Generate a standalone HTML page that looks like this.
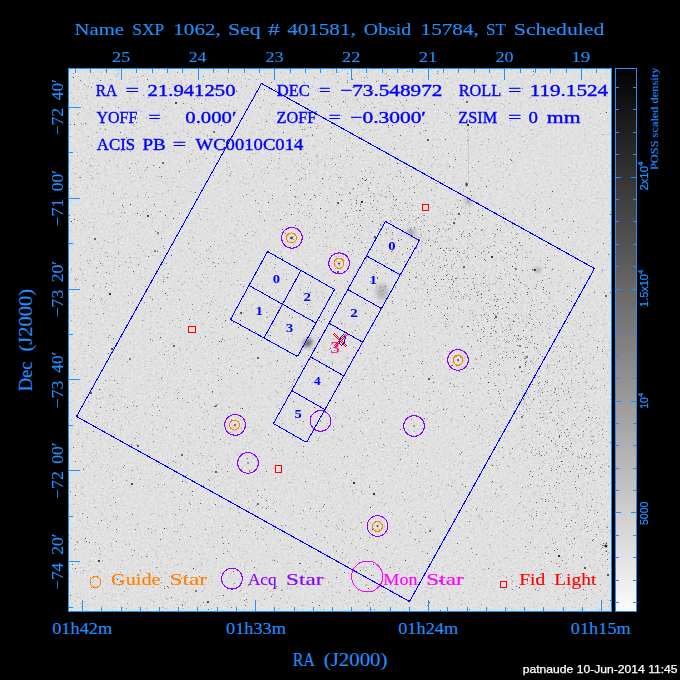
<!DOCTYPE html>
<html><head><meta charset="utf-8"><style>
html,body{margin:0;padding:0;background:#000;width:680px;height:680px;overflow:hidden}
svg{display:block}
text{font-family:"Liberation Serif",serif}
text.s{font-family:"Liberation Sans",sans-serif}
.c{shape-rendering:crispEdges}
</style></head><body>
<svg width="680" height="680" viewBox="0 0 680 680">
<defs>
<linearGradient id="cb" x1="0" y1="0" x2="0" y2="1">
<stop offset="0" stop-color="#030303"/>
<stop offset="1" stop-color="#fbfbfb"/>
</linearGradient>
<clipPath id="pc"><rect x="69" y="69" width="542" height="542"/></clipPath>
<filter id="bl" x="0" y="0" width="1" height="1" color-interpolation-filters="sRGB"><feGaussianBlur stdDeviation="0.42"/></filter>
<filter id="bb" x="-50%" y="-50%" width="200%" height="200%" color-interpolation-filters="sRGB"><feGaussianBlur stdDeviation="2"/></filter>
<filter id="mot" x="0" y="0" width="1" height="1" color-interpolation-filters="sRGB"><feTurbulence type="fractalNoise" baseFrequency="0.45" numOctaves="2" seed="4"/><feColorMatrix type="matrix" values="0.12 0 0 0 0.82  0.12 0 0 0 0.82  0.12 0 0 0 0.82  0 0 0 0 1"/></filter>
</defs>
<rect width="680" height="680" fill="#000"/>

<g clip-path="url(#pc)">
<rect x="69" y="69" width="542" height="542" fill="#e0e0e0" filter="url(#mot)"/>
<g filter="url(#bl)">
<path stroke="rgb(208,208,208)" stroke-width="1" d="M183 69.5h1m108 0h1m250 0h1m62 0h1m-395 1h1m1 0h1m146 0h1m132 0h1m-153 1h1m4 0h1m22 0h1m46 0h1m71 0h1m-222 1h1m69 0h1m43 0h1m-248 1h1m8 0h1m21 0h1m2 0h1m294 0h1m-176 1h1m200 0h1m71 0h1m15 0h1m26 0h1m-465 1h1m67 0h1m32 0h1m93 0h1m29 0h1m57 0h1m79 0h1m27 0h1m-462 1h1m189 0h1m26 0h1m82 0h1m32 0h1m-317 1h1m228 0h1m225 0h1m-426 1h1m210 0h1m126 0h1m16 0h1m126 0h1m-411 1h1m28 0h1m-65 1h1m171 0h1m78 0h1m11 0h1m31 0h1m-259 1h1m92 0h1m5 0h1m22 0h1m125 0h1m-312 1h1m86 0h1m2 0h1m21 0h1m17 0h1m78 0h1m-74 1h1m242 0h1m-98 1h1m120 0h1m-275 2h1m125 0h1m53 0h1m40 0h1m48 0h1m-442 1h1m132 0h1m39 0h1m19 0h1m42 0h1m135 0h1m26 0h1m-382 1h1m56 0h1m154 0h1m155 0h1m14 0h1m121 0h1m-460 1h1m245 0h1m13 0h1m-255 1h1m49 0h1m77 0h1m-94 1h1m92 0h1m76 0h1m0 0h1m-271 1h1m83 0h1m21 0h1m38 0h1m279 0h1m4 0h1m53 1h1m-282 1h1m62 0h1m139 0h1m22 0h1m-431 1h1m94 0h1m25 0h1m25 0h1m49 0h1m15 0h1m264 0h1m32 0h1m-446 1h1m85 0h1m2 0h1m52 0h1m49 0h1m176 0h1m-337 1h1m42 0h1m83 0h1m210 0h1m-417 1h1m35 0h1m22 0h1m26 0h1m52 0h1m33 0h1m40 0h1m-34 1h1m57 0h1m66 0h1m63 0h1m68 0h1m-424 1h1m24 0h1m105 0h1m40 0h1m94 0h1m81 0h1m-398 1h1m45 0h1m127 0h1m116 0h1m23 0h1m83 0h1m25 0h1m-420 1h1m107 0h1m52 0h1m40 0h1m118 0h1m193 0h1m-416 1h1m81 0h1m39 0h1m85 0h1m130 0h1m43 0h1m-290 1h1m177 0h1m-99 1h1m-225 1h1m77 0h1m69 0h1m97 0h1m56 0h1m-297 1h1m122 0h1m4 0h1m77 0h1m122 0h1m-405 1h1m101 0h1m4 0h1m163 0h1m84 0h1m-217 1h1m152 0h1m-269 1h1m73 0h1m59 0h1m58 0h1m203 0h1m97 0h1m-387 1h1m5 0h1m-98 1h1m18 0h1m96 0h1m134 0h1m8 0h1m32 0h1m50 0h1m103 0h1m-340 1h1m40 0h1m5 0h1m70 0h1m225 0h1m-465 1h1m95 0h1m120 0h1m5 0h1m64 0h1m47 0h1m127 0h1m42 0h1m-441 1h1m303 0h1m-201 1h1m106 0h1m5 0h1m-93 1h1m158 0h1m-376 1h1m64 0h1m15 0h1m43 0h1m102 0h1m120 0h1m130 0h1m-484 1h1m117 0h1m380 0h1m-425 1h1m12 0h1m98 0h1m73 0h1m-267 1h1m2 0h1m30 0h1m181 0h1m6 0h1m61 0h1m247 0h1m-373 1h1m292 0h1m-56 1h1m27 0h1m-265 1h1m21 0h1m38 0h1m203 0h1m-280 1h1m17 0h1m118 0h1m97 0h1m-244 1h1m399 0h1m-312 1h1m18 0h1m25 0h1m109 0h1m60 0h1m-440 1h1m138 0h1m67 0h1m157 0h1m-373 1h1m70 0h1m4 0h1m115 0h1m31 0h1m80 0h1m81 0h1m10 0h1m46 0h1m-364 1h1m161 0h1m218 0h1m64 0h1m-420 1h1m20 0h1m0 0h1m248 0h1m4 0h1m56 0h1m61 0h1m-477 1h1m3 0h1m33 0h1m59 0h1m53 0h1m118 0h1m42 0h1m28 0h1m-243 1h1m50 0h1m3 0h1m8 0h1m94 0h1m116 0h1m106 0h1m-409 1h1m77 0h1m50 0h1m73 0h1m56 0h1m163 0h1m-450 1h1m62 0h1m148 0h1m62 0h1m16 0h1m-141 1h1m33 0h1m58 0h1m-196 1h1m95 0h1m8 0h1m16 0h1m24 0h1m119 0h1m28 0h1m-156 1h1m214 0h1m-463 1h1m183 0h1m318 0h1m-359 1h1m63 1h1m37 0h1m9 0h1m132 0h1m-306 1h1m148 0h1m126 0h1m135 0h1m-453 1h1m6 0h1m261 0h1m183 0h1m-438 1h1m163 0h1m19 0h1m8 0h1m12 0h1m90 0h1m75 0h1m-398 1h1m48 0h1m100 0h1m75 0h1m195 0h1m-209 1h1m7 0h1m118 0h1m16 0h1m109 0h1m-505 1h1m157 0h1m86 0h1m148 0h1m72 0h1m0 0h1m-426 1h1m84 0h1m22 0h1m107 0h1m96 0h1m18 0h1m70 0h1m-146 1h1m-276 1h1m91 0h1m382 0h1m-445 1h1m276 0h1m28 0h1m72 0h1m77 0h1m-304 1h1m27 0h1m134 0h1m44 0h1m-371 1h1m25 0h1m7 0h1m15 0h1m111 0h1m62 0h1m69 0h1m-146 1h1m188 0h1m-346 1h1m29 0h1m93 0h1m13 0h1m43 0h1m6 0h1m51 0h1m161 0h1m-146 1h1m65 0h1m1 0h1m133 0h1m-212 1h1m-187 1h1m31 0h1m148 0h1m116 0h1m-217 1h1m100 0h1m85 0h1m-252 1h1m43 0h1m69 0h1m181 0h1m-445 1h1m259 0h1m165 0h1m-414 1h1m214 0h1m0 0h1m-168 1h1m47 0h1m23 0h1m155 0h1m30 0h1m73 0h1m107 0h1m-279 1h1m143 0h1m-285 1h1m39 0h1m31 0h1m72 0h1m49 0h1m37 0h1m107 0h1m113 0h1m-277 1h1m24 0h1m90 0h1m-175 1h1m93 0h1m-283 1h1m17 0h1m63 0h1m56 0h1m50 0h1m250 0h1m77 0h1m-416 1h1m63 0h1m115 0h1m-252 1h1m21 0h1m11 0h1m29 0h1m135 0h1m79 0h1m111 0h1m-171 1h1m18 0h1m55 0h1m175 0h1m-509 1h1m32 0h1m171 0h1m12 0h1m72 0h1m183 0h1m-354 1h1m-108 1h1m39 0h1m97 0h1m45 0h1m148 0h1m166 0h1m-316 1h1m29 0h1m123 0h1m-307 1h1m95 0h1m75 0h1m4 0h1m38 0h1m77 0h1m1 0h1m-244 1h1m150 0h1m-35 1h1m62 0h1m-268 1h1m58 0h1m58 0h1m85 0h1m88 0h1m79 0h1m-333 1h1m23 0h1m134 0h1m103 0h1m5 0h1m20 0h1m116 0h1m-441 1h1m66 0h1m45 0h1m5 0h1m89 0h1m141 0h1m17 0h1m-312 1h1m48 1h1m28 0h1m26 0h1m90 0h1m77 0h1m61 0h1m17 0h1m-410 1h1m278 0h1m71 0h1m59 0h1m14 0h1m-378 1h1m249 0h1m75 0h1m77 0h1m-385 1h1m93 1h1m45 0h1m20 0h1m9 0h1m44 0h1m62 0h1m-371 1h1m102 0h1m22 0h1m201 0h1m16 0h1m68 0h1m-352 1h1m325 1h1m24 0h1m71 0h1m25 0h1m-520 1h1m125 0h1m152 0h1m25 0h1m-302 1h1m65 0h1m134 0h1m34 0h1m43 0h1m18 0h1m1 0h1m17 0h1m136 0h1m-327 1h1m3 0h1m90 0h1m8 0h1m65 0h1m4 0h1m1 0h1m12 0h1m16 0h1m-348 1h1m154 0h1m61 0h1m70 0h1m56 0h1m60 0h1m8 0h1m-395 1h1m27 0h1m82 0h1m42 0h1m121 0h1m164 0h1m-448 1h1m54 0h1m185 0h1m24 0h1m27 0h1m4 0h1m18 0h1m16 0h1m-322 1h1m8 0h1m276 0h1m49 0h1m-333 1h1m16 0h1m260 0h1m132 0h1m74 0h1m5 0h1m-332 1h1m25 0h1m57 0h1m64 0h1m54 0h1m93 0h1m-378 1h1m42 0h1m15 0h1m91 0h1m20 0h1m88 0h1m-279 1h1m151 0h1m24 0h1m11 0h1m42 0h1m43 0h1m149 0h1m-359 1h1m54 0h1m63 0h1m-138 1h1m1 0h1m66 0h1m46 0h1m15 0h1m28 0h1m69 0h1m86 0h1m35 0h1m16 0h1m-320 1h1m107 0h1m102 0h1m-362 1h1m8 0h1m197 0h1m109 0h1m87 0h1m-334 1h1m212 0h1m-39 1h1m88 0h1m42 0h1m-410 1h1m132 0h1m179 0h1m66 0h1m51 0h1m-410 1h1m3 0h1m130 0h1m75 0h1m5 0h1m83 0h1m59 0h1m-402 1h1m217 0h1m41 1h1m20 0h1m30 0h1m-220 1h1m34 0h1m152 0h1m3 0h1m95 0h1m40 0h1m108 0h1m-510 1h1m21 0h1m223 0h1m33 0h1m90 0h1m-378 1h1m152 0h1m150 0h1m23 0h1m3 0h1m23 0h1m6 0h1m28 0h1m1 0h1m18 0h1m-372 1h1m19 0h1m170 0h1m26 0h1m48 0h1m61 0h1m34 0h1m-294 1h1m31 0h1m103 0h1m28 0h1m8 0h1m32 0h1m19 0h1m95 0h1m-235 1h1m12 0h1m3 0h1m91 0h1m65 0h1m95 0h1m33 0h1m-503 1h1m102 0h1m83 0h1m154 0h1m61 0h1m-285 1h1m38 0h1m153 0h1m102 0h1m43 0h1m-326 1h1m4 0h1m224 0h1m42 0h1m91 0h1m-376 1h1m24 0h1m32 0h1m85 0h1m71 0h1m67 0h1m9 0h1m35 0h1m-384 1h1m19 0h1m83 0h1m95 0h1m10 0h1m182 0h1m1 0h1m-247 1h1m2 0h1m26 0h1m7 0h1m62 0h1m15 0h1m99 0h1m-394 1h1m16 0h1m47 0h1m197 0h1m23 0h1m43 0h1m41 0h1m-409 1h1m40 0h1m197 0h1m27 0h1m60 0h1m2 0h1m14 0h1m58 0h1m-380 1h1m55 0h1m94 0h1m85 0h1m61 0h1m76 0h1m-369 1h1m157 0h1m63 0h1m55 0h1m13 0h1m-227 1h1m76 0h1m92 0h1m22 0h1m48 0h1m-357 1h1m27 0h1m169 0h1m94 0h1m162 0h1m8 0h1m-478 1h1m32 0h1m71 0h1m2 0h1m158 0h1m3 0h1m187 0h1m37 0h1m14 0h1m-474 1h1m112 0h1m43 0h1m59 0h1m5 0h1m23 0h1m19 0h1m20 0h1m25 0h1m56 0h1m-382 1h1m46 0h1m193 0h1m51 0h1m97 0h1m-218 1h1m16 0h1m23 0h1m4 0h1m259 0h1m-496 1h1m52 0h1m208 0h1m125 0h1m-380 1h1m11 0h1m51 0h1m127 0h1m96 0h1m3 0h1m11 0h1m20 0h1m-332 1h1m126 0h1m187 0h1m24 0h1m21 0h1m93 0h1m-262 1h1m33 0h1m57 0h1m82 0h1m-267 1h1m161 0h1m41 0h1m36 0h1m4 0h1m70 0h1m-232 1h1m5 0h1m118 0h1m4 0h1m27 0h1m96 0h1m-386 1h1m78 0h1m1 0h1m114 0h1m25 0h1m4 0h1m32 0h1m26 0h1m2 0h1m6 0h1m88 0h1m-476 1h1m51 0h1m21 0h1m212 0h1m76 0h1m9 0h1m47 0h1m11 0h1m24 0h1m-423 1h1m198 0h1m123 0h1m12 0h1m3 0h1m-353 1h1m130 0h1m18 0h1m123 0h1m6 0h1m85 0h1m84 0h1m6 0h1m-199 1h1m127 0h1m17 0h1m1 0h1m-299 1h1m9 0h1m215 0h1m56 0h1m-121 1h1m44 0h1m3 0h1m186 0h1m-397 1h1m57 0h1m169 0h1m31 0h1m15 0h1m76 0h1m-401 1h1m169 0h1m30 0h1m50 0h1m20 0h1m14 0h1m27 0h1m2 0h1m118 0h1m-387 1h1m71 0h1m117 0h1m18 0h1m5 0h1m38 0h1m-219 1h1m77 0h1m2 0h1m-48 1h1m219 0h1m76 0h1m13 0h1m-301 1h1m131 0h1m0 0h1m44 0h1m-371 1h1m0 0h1m3 0h1m61 0h1m10 0h1m74 0h1m185 0h1m64 0h1m10 0h1m3 0h1m50 0h1m-371 1h1m25 0h1m139 0h1m42 0h1m3 0h1m30 0h1m36 0h1m4 0h1m-349 1h1m8 0h1m1 0h1m141 0h1m159 0h1m21 0h1m3 0h1m72 0h1m14 0h1m2 0h1m-389 1h1m12 0h1m39 0h1m156 0h1m95 0h1m24 0h1m68 0h1m1 0h1m-459 1h1m84 0h1m36 0h1m25 0h1m188 0h1m17 0h1m16 0h1m8 0h1m-116 1h1m82 0h1m-240 1h1m125 0h1m3 0h1m60 0h1m5 0h1m11 0h1m43 0h1m8 0h1m22 0h1m-280 1h1m167 0h1m54 0h1m-293 1h1m164 0h1m41 0h1m26 0h1m-104 1h1m27 0h1m28 0h1m53 0h1m1 0h1m165 0h1m-486 1h1m109 0h1m2 0h1m88 0h1m105 0h1m-121 1h1m182 0h1m12 0h1m-388 1h1m186 0h1m142 0h1m29 0h1m7 0h1m-393 1h1m51 0h1m102 0h1m-151 1h1m159 0h1m138 0h1m17 0h1m5 0h1m16 0h1m24 0h1m-363 1h1m76 0h1m192 0h1m89 0h1m13 0h1m0 0h1m11 0h1m9 0h1m4 0h1m0 0h1m33 0h1m5 0h1m1 0h1m-429 1h1m158 0h1m151 0h1m17 0h1m56 0h1m17 0h1m25 0h1m74 0h1m-524 1h1m218 0h1m154 0h1m81 0h1m-164 1h1m99 0h1m2 0h1m17 0h1m26 0h1m-414 1h1m281 0h1m36 0h1m92 0h1m-383 1h1m302 0h1m46 0h1m73 0h1m1 0h1m-415 1h1m171 0h1m140 0h1m36 0h1m-322 1h1m66 0h1m53 0h1m148 0h1m57 0h1m49 0h1m-422 1h1m23 0h1m83 0h1m185 0h1m55 0h1m-323 1h1m110 0h1m203 0h1m-302 1h1m56 0h1m55 0h1m88 0h1m35 0h1m52 0h1m76 0h1m26 0h1m-416 1h1m1 0h1m140 0h1m145 0h1m10 0h1m84 0h1m11 0h1m-448 1h1m8 0h1m76 0h1m16 0h1m216 0h1m21 0h1m5 0h1m60 0h1m-295 1h1m49 0h1m3 0h1m11 0h1m68 0h1m77 0h1m27 0h1m38 0h1m8 0h1m39 0h1m33 0h1m-476 1h1m33 0h1m72 0h1m226 0h1m28 0h1m9 0h1m16 0h1m-402 1h1m13 0h1m138 0h1m74 0h1m86 0h1m2 0h1m23 0h1m82 0h1m6 0h1m9 0h1m25 0h1m-133 1h1m13 0h1m111 0h1m-438 1h1m146 0h1m38 0h1m13 0h1m154 0h1m43 0h1m-374 1h1m68 0h1m230 0h1m13 0h1m73 0h1m9 0h1m-76 1h1m27 0h1m13 0h1m19 0h1m-143 1h1m45 0h1m63 0h1m27 0h1m-121 1h1m0 0h1m29 0h1m33 0h1m37 0h1m11 0h1m-347 1h1m17 0h1m52 0h1m86 0h1m146 0h1m20 0h1m7 0h1m8 0h1m36 0h1m35 0h1m-518 1h1m55 0h1m100 0h1m2 0h1m9 0h1m2 0h1m141 0h1m19 0h1m18 0h1m16 0h1m25 0h1m77 0h1m6 0h1m-214 1h1m57 0h1m64 0h1m3 0h1m-352 1h1m372 0h1m19 0h1m86 0h1m-431 1h1m306 0h1m8 0h1m10 0h1m-375 1h1m32 0h1m2 0h1m67 0h1m99 0h1m38 0h1m65 0h1m32 0h1m31 0h1m-357 1h1m46 0h1m95 0h1m61 0h1m73 0h1m-211 1h1m16 0h1m56 0h1m80 0h1m41 0h1m70 0h1m5 0h1m103 0h1m-461 1h1m22 0h1m97 0h1m145 0h1m24 0h1m30 0h1m94 0h1m-388 1h1m77 0h1m191 0h1m4 0h1m68 0h1m19 0h1m-160 1h1m58 0h1m12 0h1m56 0h1m5 0h1m68 0h1m-402 1h1m124 0h1m104 0h1m16 0h1m8 0h1m3 0h1m7 0h1m16 0h1m17 0h1m5 0h1m39 0h1m56 0h1m21 0h1m-508 1h1m18 0h1m101 0h1m104 0h1m23 0h1m40 0h1m30 0h1m70 0h1m61 0h1m-428 1h1m140 0h1m98 0h1m88 0h1m15 0h1m96 0h1m43 0h1m-377 1h1m91 0h1m41 0h1m148 0h1m-268 1h1m7 0h1m24 0h1m77 0h1m51 0h1m-336 1h1m191 0h1m112 0h1m112 0h1m-380 1h1m35 0h1m43 0h1m39 0h1m36 0h1m93 0h1m121 0h1m-344 1h1m178 0h1m246 0h1m-373 1h1m81 0h1m209 0h1m7 0h1m105 0h1m-411 1h1m27 0h1m265 0h1m114 0h1m-463 1h1m12 0h1m206 0h1m56 0h1m20 0h1m12 0h1m-258 1h1m114 0h1m78 0h1m92 0h1m-382 1h1m116 0h1m129 0h1m135 0h1m28 0h1m6 0h1m6 0h1m57 0h1m-369 1h1m275 0h1m32 0h1m25 0h1m-388 1h1m63 0h1m5 0h1m34 0h1m8 0h1m69 0h1m30 0h1m90 0h1m14 0h1m-386 1h1m6 0h1m183 0h1m25 0h1m0 0h1m1 0h1m148 0h1m-402 1h1m33 0h1m2 0h1m114 0h1m17 0h1m240 0h1m21 0h1m1 0h1m7 0h1m9 0h1m21 0h1m-478 1h1m61 0h1m28 0h1m102 0h1m162 0h1m11 0h1m47 0h1m45 0h1m37 0h1m9 0h1m-226 1h1m18 0h1m39 0h1m55 0h1m5 0h1m127 0h1m-355 1h1m254 0h1m67 0h1m31 0h1m-237 1h1m135 0h1m17 0h1m-454 1h1m209 0h1m172 0h1m10 0h1m71 0h1m-452 1h1m21 0h1m40 0h1m190 0h1m137 0h1m-226 1h1m190 0h1m129 0h1m1 0h1m12 0h1m-478 1h1m109 0h1m351 0h1m-496 1h1m181 0h1m48 0h1m97 0h1m16 0h1m9 0h1m39 0h1m45 0h1m20 0h1m-372 1h1m24 0h1m230 0h1m79 0h1m48 0h1m0 0h1m38 0h1m-357 1h1m44 0h1m45 0h1m194 0h1m8 0h1m6 0h1m-420 1h1m238 0h1m134 0h1m-427 1h1m27 0h1m314 0h1m80 0h1m0 0h1m9 0h1m-108 1h1m78 0h1m-65 1h1m169 0h1m-442 1h1m32 0h1m401 0h1m-446 1h1m66 0h1m52 0h1m41 0h1m5 0h1m48 0h1m16 0h1m31 0h1m59 0h1m-347 1h1m350 0h1m128 0h1m-461 1h1m127 0h1m107 0h1m107 0h1m37 0h1m47 0h1m7 0h1m15 0h1m18 0h1m-244 1h1m143 0h1m8 0h1m14 0h1m-462 1h1m165 0h1m228 0h1m100 0h1m-484 1h1m25 0h1m9 0h1m49 0h1m39 0h1m100 0h1m201 0h1m-411 1h1m215 0h1m18 0h1m152 0h1m114 0h1m-311 1h1m65 0h1m44 0h1m-243 1h1m37 0h1m139 0h1m62 0h1m82 0h1m44 0h1m-433 1h1m47 0h1m15 0h1m99 0h1m60 0h1m90 0h1m51 0h1m42 0h1m31 0h1m35 0h1m-486 1h1m137 0h1m56 0h1m181 0h1m107 0h1m-250 1h1m52 0h1m46 1h1m110 0h1m-331 1h1m188 0h1m42 0h1m26 0h1m80 0h1m47 0h1m-508 1h1m40 0h1m439 0h1m-423 1h1m84 0h1m308 0h1m29 0h1m-417 1h1m36 0h1m283 0h1m-85 1h1m16 0h1m33 0h1m36 0h1m24 0h1m1 0h1m6 0h1m36 0h1m23 0h1m17 0h1m-398 1h1m226 0h1m109 0h1m-363 1h1m154 0h1m95 0h1m6 0h1m37 0h1m16 0h1m51 0h1m31 0h1m-451 1h1m50 0h1m288 0h1m73 0h1m35 0h1m22 0h1m-475 1h1m268 0h1m42 0h1m54 0h1m6 0h1m10 0h1m14 0h1m-208 1h1m90 0h1m-58 1h1m195 0h1m45 0h1m-486 1h1m211 0h1m262 0h1m-471 1h1m2 0h1m292 0h1m28 0h1m116 0h1m18 0h1m5 0h1m-494 1h1m229 0h1m14 0h1m124 0h1m35 0h1m35 0h1m39 0h1m7 0h1m-36 1h1m11 0h1m-475 1h1m9 0h1m137 0h1m7 0h1m40 0h1m40 0h1m156 0h1m14 0h1m36 0h1m13 0h1m32 0h1m-358 1h1m109 0h1m-253 1h1m358 0h1m118 0h1m1 0h1m28 0h1m-443 1h1m36 0h1m80 0h1m70 0h1m79 0h1m163 0h1m-465 1h1m147 0h1m13 0h1m10 0h1m53 0h1m144 0h1m-306 1h1m218 0h1m63 0h1m34 0h1m2 0h1m36 0h1m15 0h1m-466 1h1m127 0h1m1 0h1m71 0h1m90 0h1m45 0h1m126 0h1m20 0h1m11 0h1m-507 1h1m9 0h1m430 0h1m-347 1h1m121 0h1m264 0h1m-431 1h1m144 0h1m29 0h1m131 0h1m111 0h1m30 0h1m29 0h1m-477 1h1m39 0h1m275 0h1m49 0h1m3 0h1m-322 1h1m229 0h1m170 0h1m-410 1h1m56 0h1m68 0h1m246 0h1m14 0h1m-464 1h1m284 0h1m69 0h1m7 0h1m4 0h1m63 0h1m15 0h1m-152 1h1m12 0h1m181 0h1m-463 1h1m25 0h1m156 0h1m21 0h1m22 0h1m37 0h1m31 0h1m58 0h1m107 0h1m-428 1h1m65 0h1m114 0h1m180 0h1m14 0h1m-147 1h1m187 0h1m16 0h1m-428 1h1m23 0h1m33 0h1m51 0h1m31 0h1m83 0h1m4 0h1m88 0h1m26 0h1m-269 1h1m80 0h1m1 0h1m105 0h1m24 0h1m17 0h1m2 0h1m30 0h1m83 0h1m-518 1h1m56 0h1m150 0h1m35 0h1m-215 1h1m40 0h1m7 0h1m33 0h1m69 0h1m129 0h1m76 0h1m3 0h1m-100 1h1m127 0h1m4 0h1m17 0h1m27 0h1m1 0h1m6 0h1m-385 1h1m31 0h1m119 0h1m184 0h1m84 0h1m-383 1h1m-122 1h1m176 0h1m148 0h1m121 0h1m9 0h1m23 0h1m-64 1h1m-426 1h1m130 0h1m33 0h1m153 0h1m14 0h1m64 0h1m42 0h1m-307 1h1m75 0h1m102 0h1m111 0h1m22 0h1m18 0h1m30 0h1m-444 1h1m269 0h1m168 0h1m-373 1h1m150 0h1m28 0h1m124 0h1m49 0h1m-507 1h1m90 0h1m22 0h1m317 0h1m42 0h1m16 0h1m7 0h1m-369 1h1m71 0h1m242 0h1m45 0h1m0 0h1m-369 1h1m196 0h1m-242 1h1m112 0h1m39 0h1m140 0h1m60 0h1m60 0h1m-61 1h1m17 0h1m-431 1h1m3 0h1m44 0h1m141 0h1m87 0h1m50 0h1m149 0h1m-280 1h1m171 0h1m52 0h1m-293 1h1m8 0h1m156 0h1m25 0h1m53 0h1m27 0h1m44 0h1m-432 1h1m75 0h1m13 0h1m-111 1h1m128 0h1m288 0h1m-432 1h1m21 0h1m228 0h1m-64 1h1m26 0h1m82 0h1m-188 1h1m125 0h1m156 0h1m13 0h1m-243 1h1m4 0h1m61 0h1m192 0h1m35 0h1m6 0h1m17 0h1m5 0h1m-494 1h1m33 0h1m62 0h1m52 0h1m17 0h1m330 0h1m1 0h1m-232 1h1m95 0h1m-112 1h1m110 0h1m23 0h1m3 0h1m72 0h1m3 0h1m10 0h1m14 0h1m-500 1h1m118 0h1m37 0h1m99 0h1m102 0h1m11 0h1m85 0h1m-467 1h1m137 0h1m-89 1h1m66 0h1m30 0h1m117 0h1m202 0h1m-374 1h1m158 0h1m50 0h1m45 0h1m1 0h1m102 0h1m14 0h1m7 0h1m47 0h1m-519 1h1m196 0h1m13 0h1m56 0h1m99 0h1m84 0h1m-288 1h1m110 0h1m140 0h1m49 0h1m-470 1h1m29 0h1m7 0h1m191 0h1m102 0h1m180 0h1m3 0h1m-399 1h1m8 0h1m342 0h1m-453 1h1m191 0h1m250 0h1m11 1h1m22 0h1m-515 1h1m68 0h1m39 0h1m67 0h1m207 0h1m54 0h1m-41 1h1m128 0h1m-497 1h1m3 0h1m39 0h1m18 0h1m4 0h1m278 0h1m31 0h1m126 0h1m-483 1h1m74 0h1m96 0h1m266 0h1m-432 1h1m144 0h1m31 0h1m193 0h1m89 0h1m-430 1h1m53 0h1m35 0h1m68 0h1m196 0h1m38 0h1m11 0h1m14 0h1m-428 1h1m44 0h1m45 0h1m4 0h1m25 0h1m122 0h1m111 0h1m-421 1h1m15 0h1m82 0h1m55 0h1m9 0h1m269 0h1m36 0h1m3 0h1m-435 1h1m80 0h1m195 0h1m104 0h1m14 0h1m30 0h1m-433 1h1m64 0h1m2 0h1m88 0h1m209 0h1m61 0h1m-331 1h1m23 0h1m50 0h1m12 0h1m34 0h1m47 0h1m22 0h1m3 0h1m83 0h1m38 0h1m45 0h1m-453 1h1m20 0h1m22 0h1m157 0h1m28 0h1m136 0h1m14 0h1m-439 1h1m41 0h1m61 0h1m49 0h1m318 0h1m-356 1h1m64 0h1m164 0h1m130 0h1m-458 1h1m54 0h1m316 0h1m-92 1h1m37 0h1m83 0h1m76 0h1m-478 1h1m196 0h1m157 0h1m-347 1h1m1 0h1m123 0h1m3 0h1m46 0h1m37 0h1m187 0h1m1 0h1m-447 1h1m242 0h1m56 0h1m57 0h1m26 0h1m122 0h1m-73 1h1m37 0h1m4 0h1m4 0h1m15 0h1m7 0h1m-349 1h1m24 0h1m150 0h1m62 0h1m-369 1h1m8 0h1m3 0h1m274 0h1m141 0h1m8 0h1m13 0h1m33 0h1m-428 1h1m9 0h1m223 0h1m155 0h1m24 0h1m-318 1h1m83 0h1m58 0h1m56 0h1m-221 1h1m167 0h1m147 0h1m8 0h1m-364 1h1m116 0h1m112 0h1m77 0h1m69 0h1m-462 1h1m65 0h1m49 0h1m135 0h1m168 0h1m-401 1h1m88 0h1m18 0h1m84 0h1m165 0h1m21 0h1m16 0h1m-326 1h1m109 0h1m14 0h1m62 0h1m12 0h1m22 0h1m80 0h1m-425 1h1m128 0h1m15 0h1m3 0h1m110 0h1m151 0h1m46 0h1m-449 1h1m389 0h1m16 0h1m-382 1h1m37 0h1m176 0h1m-288 1h1m359 0h1m138 0h1m-181 1h1m111 0h1m70 0h1m-365 1h1m28 0h1m30 0h1m130 0h1m153 0h1m6 0h1m3 0h1m20 0h1m-481 1h1m42 0h1m251 0h1m49 0h1m12 0h1m76 0h1m-475 1h1m149 0h1m80 0h1m93 0h1m25 0h1m136 0h1m-453 1h1m184 0h1m40 0h1m108 0h1m72 0h1m-317 1h1m137 0h1m37 0h1m49 0h1m101 0h1m-394 1h1m354 0h1m8 0h1m25 0h1m5 0h1m31 0h1m-482 1h1m55 0h1m45 0h1m286 0h1m4 0h1m117 0h1m-421 1h1m285 0h1m55 0h1m58 0h1m12 0h1m-386 1h1m45 0h1m-81 1h1m362 0h1m6 0h1m34 0h1m-120 1h1m104 0h1m29 0h1m-438 1h1m38 0h1m122 0h1m111 0h1m113 0h1m7 0h1m-348 1h1m268 0h1m75 0h1m26 0h1m29 0h1m-229 1h1m14 0h1m95 0h1m8 0h1m28 0h1m5 0h1m-233 1h1m33 0h1m92 0h1m65 0h1m89 0h1m-468 1h1m205 0h1m202 0h1m-376 1h1m33 0h1m290 0h1m-301 1h1m74 0h1m-142 1h1m183 0h1m62 0h1m174 0h1m60 0h1m4 0h1m-448 1h1m71 0h1m-150 1h1m142 0h1m356 0h1m10 0h1m-511 1h1m88 0h1m116 0h1m64 0h1m108 0h1m82 0h1m-419 1h1m31 0h1m85 0h1m196 0h1m131 0h1m8 0h1m-435 1h1m41 0h1m172 0h1m101 0h1m86 0h1m7 0h1m48 0h1m-362 1h1m-99 1h1m15 0h1m50 0h1m37 0h1m308 0h1m9 0h1m-351 1h1m282 0h1m-399 1h1m8 0h1m41 0h1m340 0h1m14 0h1m22 0h1m34 0h1m33 0h1m-515 1h1m173 0h1m102 0h1m201 0h1m-334 1h1m152 0h1m19 0h1m44 0h1m-210 1h1m202 0h1m52 0h1m3 0h1m55 0h1m27 0h1m-160 1h1m64 0h1m14 0h1m62 0h1m-394 1h1m106 0h1m149 0h1m72 0h1m30 0h1m24 0h1m-211 1h1m7 0h1m97 0h1m122 0h1m-410 1h1m69 0h1m64 0h1m7 0h1m94 0h1m1 0h1m38 0h1m129 0h1m-288 1h1m177 0h1m91 0h1m2 0h1m11 0h1m7 0h1m-314 1h1m184 0h1m132 0h1m1 0h1m-372 1h1m100 0h1m63 0h1m81 0h1m22 0h1m-410 1h1m34 0h1m38 0h1m41 0h1m31 0h1m65 0h1m122 0h1m155 0h1m-331 1h1m146 0h1m-279 1h1m3 0h1m23 0h1m179 0h1m78 0h1m58 0h1m125 0h1m-517 1h1m230 0h1m40 0h1m104 0h1m20 0h1m14 0h1m52 0h1m1 0h1m20 0h1m-437 1h1m36 0h1m330 0h1m1 0h1m73 0h1m22 0h1m-446 1h1m80 0h1m75 0h1m0 0h1m34 0h1m34 0h1m-268 1h1m134 0h1m245 0h1m61 0h1m54 0h1m-474 1h1m11 0h1m33 0h1m25 0h1m65 0h1m107 0h1m25 0h1m86 0h1m41 0h1m4 0h1m-434 1h1m2 0h1m68 0h1m158 0h1m226 0h1m29 0h1m-379 1h1m206 0h1m125 0h1m-446 1h1m167 0h1m26 0h1m199 0h1m19 0h1m42 0h1m31 0h1m-413 1h1m247 0h1m64 0h1m-428 1h1m265 0h1m76 0h1m43 0h1m4 0h1m-255 1h1m64 0h1m19 0h1m91 0h1m132 0h1m35 0h1m-453 1h1m43 0h1m98 0h1m24 0h1m92 0h1m4 0h1m24 0h1m48 0h1m49 0h1m54 0h1m17 0h1m-354 1h1m44 0h1m131 0h1m136 0h1m18 0h1m11 0h1m-245 1h1m128 0h1m34 0h1m45 0h1m13 0h1m49 0h1m13 0h1m-210 1h1m182 0h1m-332 1h1m12 0h1m66 0h1m89 0h1m92 0h1m-326 1h1m0 0h1m45 0h1m99 0h1m105 0h1m104 0h1m1 0h1m12 0h1m-459 1h1m179 0h1m16 0h1m244 0h1m-440 2h1m83 0h1m330 0h1m-411 1h1m205 0h1m33 0h1m-151 1h1m7 0h1m4 0h1m17 0h1m142 0h1m209 0h1m-397 1h1m143 0h1m82 0h1m89 0h1m49 0h1m-473 1h1m96 0h1m14 0h1m65 0h1m188 0h1m130 0h1m27 0h1m-477 1h1m267 0h1m93 0h1m-265 1h1m16 0h1m110 0h1m148 0h1m91 0h1m7 0h1m-429 1h1m50 0h1m141 0h1m-140 1h1m73 0h1m17 0h1m-185 1h1m44 0h1m14 0h1m164 0h1m117 0h1m6 0h1m88 0h1m-446 1h1m126 0h1m120 0h1m19 0h1m17 0h1m-281 1h1m227 0h1m193 0h1m13 0h1m33 0h1m1 0h1m-207 1h1m4 0h1m134 0h1m44 0h1m-516 1h1m159 0h1m81 0h1m46 0h1m4 0h1m105 0h1m29 0h1m-417 1h1m22 0h1m170 0h1m7 0h1m134 0h1m47 0h1m-344 1h1m81 0h1m124 0h1m192 0h1m68 0h1m-475 1h1m62 0h1m197 0h1m112 0h1m109 0h1m1 0h1m-350 1h1m34 0h1m137 0h1m7 0h1m34 0h1m22 0h1m42 0h1m-302 1h1m32 0h1m144 0h1m121 0h1m23 0h1m-458 1h1m91 0h1m120 0h1m176 0h1m-180 1h1m38 0h1m82 0h1m132 0h1m26 0h1m-448 1h1m76 0h1m33 0h1m141 0h1m78 0h1m-392 1h1m6 0h1m473 0h1m-415 1h1m208 0h1m0 0h1m157 0h1m13 0h1m-221 1h1m58 0h1m-66 1h1m135 0h1m-327 1h1m81 0h1m40 0h1m59 0h1m242 0h1m43 0h1m-106 1h1m-369 1h1m45 0h1m408 0h1m-488 1h1m113 0h1m172 0h1m169 0h1m-423 1h1m51 0h1m34 0h1m121 0h1m101 0h1m56 0h1m-342 1h1m4 0h1m194 0h1m52 0h1m118 0h1m50 0h1m-494 1h1m80 0h1m110 0h1m9 0h1m275 0h1m18 0h1m-515 1h1m82 0h1m85 0h1m36 0h1m48 0h1m268 0h1m-471 1h1m59 0h1m40 0h1m19 0h1m176 0h1m83 0h1m55 0h1m-481 1h1m69 0h1m33 0h1m37 0h1m292 0h1m-416 1h1m94 0h1m345 0h1m-385 1h1m281 0h1m24 0h1m-131 1h1m89 0h1m-336 1h1m113 0h1m19 0h1m57 0h1m114 0h1m142 0h1m51 0h1m-378 1h1m14 0h1m30 0h1m133 0h1m21 0h1m45 0h1m-317 1h1m70 0h1m110 0h1m185 0h1m-375 1h1m134 0h1m38 0h1m34 0h1m93 0h1m116 0h1m-256 1h1m303 0h1m-475 1h1m21 0h1m81 0h1m144 0h1m-229 1h1m23 0h1m20 0h1m63 0h1m97 0h1m83 0h1m-325 1h1m248 0h1m123 0h1m13 0h1m37 0h1m-408 1h1m56 0h1m1 0h1m73 0h1m169 0h1m56 0h1m7 0h1m90 0h1m-312 1h1m124 0h1m128 0h1m-414 1h1m149 0h1m3 0h1m55 0h1m179 0h1m59 0h1m18 0h1m-531 1h1m24 0h1m105 0h1m44 0h1m76 0h1m6 0h1m194 0h1m68 0h1m-457 1h1m129 0h1m96 0h1m123 0h1m89 0h1m-383 1h1m31 0h1m95 0h1m42 0h1m238 0h1m-525 1h1m241 0h1m175 0h1m57 0h1m32 0h1m-520 1h1m50 0h1m96 0h1m4 0h1m27 0h1m-138 1h1m95 0h1m63 0h1m213 0h1m-360 1h1m124 0h1m311 0h1m27 0h1m-426 1h1m18 0h1m107 0h1m246 0h1m30 0h1m-437 1h1m67 0h1m-134 1h1m17 0h1m131 0h1m13 0h1m70 0h1m182 0h1m-425 1h1m96 0h1m262 0h1m77 0h1m37 0h1m-422 1h1m297 0h1m-151 1h1m125 0h1m192 0h1m-489 1h1m202 0h1m76 0h1m162 0h1m58 0h1m-461 1h1m20 0h1m33 0h1m65 0h1m269 0h1m61 0h1m-394 1h1m60 0h1m21 0h1m239 0h1m64 0h1m-518 1h1m126 0h1m205 0h1m101 0h1m80 0h1m-124 1h1m87 0h1m12 0h1m-169 1h1m164 0h1m-491 1h1m256 0h1m19 0h1m92 0h1m45 0h1m-385 1h1m247 0h1m56 0h1m39 0h1m63 0h1m37 0h1m8 0h1m-413 1h1m143 0h1m6 0h1m224 0h1m-385 1h1m80 0h1m-129 1h1m46 0h1m161 0h1m-215 1h1m281 0h1m3 0h1m96 0h1m12 0h1m-177 1h1m161 0h1m-247 1h1m43 0h1m51 0h1m100 0h1m-219 1h1m217 0h1m164 0h1m-340 1h1m83 0h1m23 0h1m5 0h1m123 0h1m-412 1h1m145 0h1m16 0h1m3 0h1m91 0h1m14 0h1m231 0h1m-419 1h1m140 0h1m218 0h1m-417 1h1m273 0h1m-311 1h1m37 0h1m10 0h1m21 0h1m0 0h1m99 0h1m29 0h1m10 0h1m29 0h1m41 0h1m27 0h1m69 0h1m-358 1h1m161 0h1m23 0h1m232 0h1m-390 1h1m42 0h1m61 0h1m-144 1h1m65 0h1m96 0h1m-81 1h1m43 0h1m239 0h1m0 0h1m30 0h1m-419 1h1m183 0h1m40 0h1m214 0h1m-319 1h1m13 0h1m41 0h1m27 0h1m168 0h1m-379 1h1m12 0h1m51 0h1m395 0h1m4 0h1m8 0h1m40 0h1m-426 1h1m33 0h1m21 0h1m40 0h1m12 0h1m-111 1h1m67 0h1m300 0h1m12 0h1m-464 1h1m2 0h1m219 0h1m127 0h1m7 0h1m92 0h1m-462 1h1m64 0h1m7 0h1m26 0h1m269 0h1m2 0h1m107 0h1m-481 1h1m35 0h1m55 0h1m106 0h1m22 0h1m34 0h1m82 0h1m-310 1h1m93 0h1m406 0h1m-479 1h1m191 0h1m153 0h1m38 0h1m67 0h1"/>
<path stroke="rgb(200,200,200)" stroke-width="1" d="M250 69.5h1m55 0h1m52 0h1m41 0h1m28 0h1m70 0h1m-213 1h1m-73 1h1m190 0h1m-277 1h1m105 0h1m145 0h1m207 0h1m-237 1h1m27 0h1m10 0h1m112 0h1m100 0h1m-476 1h1m27 0h1m275 0h1m40 0h1m-395 1h1m89 0h1m209 0h1m-269 1h1m12 0h1m4 1h1m60 0h1m16 0h1m277 0h1m93 0h1m5 0h1m-240 1h1m165 0h1m-390 1h1m106 0h1m11 0h1m204 0h1m-243 1h1m64 0h1m309 0h1m-506 1h1m78 0h1m19 0h1m46 0h1m110 0h1m22 0h1m21 0h1m68 0h1m116 0h1m1 0h1m-416 1h1m24 0h1m51 0h1m69 0h1m-123 1h1m20 0h1m27 0h1m24 0h1m4 0h1m156 0h1m92 0h1m6 0h1m-345 1h1m339 0h1m-381 1h1m107 0h1m3 0h1m33 0h1m115 0h1m-310 1h1m386 0h1m-327 1h1m335 0h1m67 1h1m-341 1h1m150 0h1m52 0h1m56 0h1m-311 1h1m105 0h1m98 0h1m33 0h1m128 0h1m-395 1h1m78 0h1m12 0h1m67 0h1m32 0h1m-184 1h1m265 1h1m189 0h1m-500 1h1m39 0h1m186 0h1m-139 1h1m100 0h1m28 0h1m84 0h1m-211 1h1m55 0h1m142 0h1m147 0h1m62 0h1m-349 1h1m83 0h1m4 0h1m-50 1h1m47 0h1m45 0h1m161 0h1m-341 1h1m51 0h1m168 0h1m55 0h1m35 0h1m41 0h1m-217 1h1m44 0h1m105 0h1m-426 1h1m101 0h1m374 0h1m-360 1h1m321 0h1m-446 1h1m31 0h1m240 0h1m-178 1h1m61 0h1m51 0h1m78 0h1m52 0h1m34 0h1m133 0h1m-490 1h1m30 0h1m180 0h1m139 0h1m-343 1h1m23 0h1m37 0h1m45 0h1m174 0h1m-321 1h1m94 0h1m50 0h1m154 0h1m111 0h1m-80 1h1m172 0h1m-477 1h1m90 0h1m1 0h1m41 0h1m49 0h1m5 0h1m0 0h1m88 0h1m125 0h1m-418 1h1m43 0h1m71 0h1m198 0h1m-323 1h1m7 0h1m108 0h1m303 0h1m57 0h1m-476 1h1m94 1h1m118 0h1m0 0h1m-215 1h1m58 0h1m65 0h1m30 0h1m60 0h1m70 0h1m-307 1h1m169 0h1m183 0h1m27 0h1m0 0h1m27 1h1m-297 1h1m138 0h1m111 0h1m69 0h1m-187 1h1m140 0h1m-306 1h1m107 0h1m6 0h1m73 0h1m5 0h1m98 0h1m-378 1h1m139 0h1m82 0h1m117 0h1m80 0h1m18 0h1m-194 1h1m151 0h1m-280 1h1m65 0h1m74 0h1m22 0h1m229 0h1m-419 1h1m15 0h1m149 0h1m8 0h1m79 0h1m-346 1h1m25 0h1m111 0h1m86 0h1m58 0h1m92 0h1m-49 1h1m172 0h1m-345 1h1m74 0h1m24 0h1m20 0h1m116 0h1m-283 1h1m203 0h1m10 0h1m66 0h1m-238 1h1m80 0h1m134 0h1m-254 1h1m103 0h1m98 0h1m44 0h1m43 0h1m-418 1h1m104 0h1m29 0h1m31 0h1m129 0h1m12 0h1m88 0h1m-279 1h1m191 0h1m148 0h1m-409 1h1m82 0h1m114 0h1m17 0h1m43 0h1m84 0h1m51 0h1m59 0h1m-317 1h1m23 0h1m46 0h1m39 0h1m122 0h1m25 0h1m-360 1h1m49 0h1m342 0h1m-358 1h1m139 0h1m31 0h1m129 0h1m-46 1h1m68 0h1m-441 1h1m346 0h1m22 0h1m65 0h1m53 0h1m-482 1h1m25 0h1m216 0h1m50 0h1m58 0h1m-373 1h1m153 0h1m1 0h1m14 0h1m13 0h1m94 0h1m71 0h1m-221 1h1m55 0h1m126 0h1m-242 1h1m3 0h1m24 0h1m235 0h1m35 0h1m22 0h1m16 0h1m17 0h1m-368 1h1m71 0h1m1 0h1m103 0h1m151 0h1m80 0h1m-466 1h1m80 0h1m1 0h1m44 0h1m31 0h1m133 0h1m61 0h1m-336 1h1m11 0h1m27 0h1m20 0h1m113 0h1m80 0h1m19 0h1m65 0h1m62 0h1m3 0h1m18 0h1m9 0h1m-453 1h1m75 0h1m68 0h1m102 0h1m61 0h1m-312 1h1m142 0h1m64 0h1m44 0h1m26 0h1m50 0h1m-318 1h1m65 0h1m92 0h1m107 0h1m141 0h1m-381 1h1m159 0h1m-179 1h1m172 0h1m55 0h1m-233 1h1m47 0h1m197 0h1m20 0h1m143 0h1m-454 1h1m75 1h1m204 0h1m25 0h1m50 0h1m46 0h1m90 0h1m24 0h1m-480 1h1m96 0h1m16 0h1m37 0h1m237 0h1m24 0h1m-397 1h1m181 0h1m12 0h1m8 0h1m56 0h1m36 0h1m113 0h1m-465 1h1m0 0h1m155 0h1m294 0h1m19 0h1m-489 1h1m110 0h1m145 0h1m183 0h1m-410 1h1m74 0h1m86 0h1m14 0h1m91 0h1m0 0h1m19 0h1m44 0h1m-332 1h1m109 0h1m47 0h1m29 0h1m25 0h1m8 0h1m-242 1h1m50 0h1m78 0h1m53 0h1m50 0h1m201 0h1m62 0h1m-305 1h1m49 0h1m20 0h1m19 0h1m-163 1h1m33 0h1m63 0h1m58 0h1m1 0h1m-166 1h1m188 0h1m72 0h1m12 0h1m81 0h1m-449 1h1m11 0h1m21 0h1m51 0h1m104 0h1m131 0h1m114 0h1m-426 1h1m349 0h1m-311 1h1m36 0h1m129 0h1m97 0h1m41 0h1m30 0h1m-422 1h1m239 0h1m47 0h1m49 0h1m13 0h1m-188 1h1m79 0h1m44 0h1m23 0h1m100 0h1m-437 1h1m110 1h1m5 0h1m83 0h1m-105 1h1m8 0h1m86 0h1m105 0h1m6 0h1m20 0h1m147 0h1m3 0h1m-287 1h1m47 0h1m84 0h1m28 0h1m87 0h1m58 0h1m-292 1h1m16 0h1m122 0h1m-240 1h1m4 0h1m55 0h1m124 0h1m156 0h1m-457 1h1m46 0h1m36 0h1m139 0h1m41 0h1m140 0h1m-348 2h1m50 0h1m10 0h1m203 0h1m-98 1h1m122 0h1m28 0h1m-324 1h1m116 0h1m263 0h1m6 0h1m19 0h1m-107 1h1m-230 1h1m157 0h1m63 0h1m154 0h1m-419 1h1m3 0h1m74 0h1m106 0h1m9 0h1m107 0h1m23 0h1m-292 1h1m112 0h1m63 0h1m118 0h1m-349 1h1m149 0h1m40 0h1m48 0h1m42 0h1m1 0h1m74 0h1m-325 1h1m21 0h1m41 0h1m111 0h1m7 0h1m1 0h1m147 0h1m55 0h1m-347 1h1m13 0h1m44 0h1m42 0h1m-234 1h1m216 0h1m47 0h1m6 0h1m57 0h1m142 0h1m-405 1h1m111 0h1m44 0h1m54 0h1m49 0h1m2 0h1m145 0h1m17 0h1m-415 1h1m91 0h1m34 0h1m50 0h1m8 0h1m129 0h1m10 1h1m-435 1h1m40 0h1m51 0h1m13 0h1m164 0h1m31 0h1m191 0h1m-463 1h1m293 0h1m-208 1h1m135 0h1m25 0h1m123 0h1m117 0h1m-431 1h1m179 0h1m43 0h1m32 0h1m-303 1h1m21 0h1m65 0h1m137 0h1m15 0h1m23 0h1m-245 1h1m96 0h1m29 0h1m80 0h1m7 0h1m31 0h1m-324 1h1m0 0h1m3 0h1m53 0h1m23 0h1m228 0h1m33 0h1m64 0h1m1 0h1m-87 1h1m129 0h1m22 0h1m51 0h1m-507 1h1m103 0h1m25 0h1m84 0h1m115 0h1m62 0h1m80 0h1m-167 1h1m52 0h1m-348 1h1m89 0h1m70 0h1m36 0h1m16 0h1m50 0h1m28 0h1m21 0h1m2 0h1m80 0h1m-295 1h1m24 0h1m102 0h1m85 0h1m-363 1h1m114 0h1m69 0h1m-67 1h1m209 0h1m91 0h1m93 0h1m-254 1h1m62 0h1m33 0h1m19 0h1m77 0h1m34 0h1m-253 1h1m26 0h1m35 0h1m20 0h1m12 0h1m65 0h1m-351 1h1m228 0h1m72 0h1m44 0h1m47 0h1m-420 1h1m210 0h1m127 0h1m22 0h1m1 0h1m77 0h1m29 0h1m-497 1h1m4 0h1m123 0h1m191 0h1m26 0h1m-317 1h1m11 0h1m32 0h1m35 0h1m57 0h1m157 0h1m15 0h1m-251 1h1m13 0h1m123 0h1m43 0h1m17 0h1m-204 1h1m186 0h1m106 0h1m7 0h1m21 0h1m2 0h1m47 0h1m-435 1h1m356 0h1m37 0h1m35 0h1m38 0h1m-471 1h1m266 0h1m47 0h1m7 0h1m18 0h1m5 0h1m75 0h1m-463 1h1m31 0h1m41 0h1m124 0h1m89 0h1m23 0h1m10 0h1m83 0h1m25 0h1m18 0h1m-252 1h1m34 0h1m26 0h1m102 0h1m22 0h1m70 0h1m20 0h1m-366 1h1m10 0h1m37 0h1m108 0h1m90 0h1m8 0h1m-369 1h1m10 0h1m171 0h1m39 0h1m92 0h1m14 0h1m-213 1h1m38 0h1m-70 1h1m107 0h1m46 0h1m215 0h1m-460 1h1m50 0h1m145 0h1m59 0h1m24 0h1m1 0h1m46 0h1m-109 1h1m11 0h1m209 0h1m-386 1h1m38 0h1m49 0h1m21 0h1m158 0h1m14 0h1m16 0h1m77 0h1m1 0h1m-351 1h1m95 0h1m89 0h1m35 0h1m4 0h1m9 0h1m59 0h1m-287 1h1m60 0h1m55 0h1m83 0h1m199 0h1m-247 1h1m0 0h1m44 0h1m53 0h1m58 0h1m-411 1h1m45 0h1m10 0h1m133 0h1m21 0h1m47 0h1m19 0h1m1 0h1m40 0h1m9 0h1m0 0h1m75 0h1m-273 1h1m26 0h1m106 0h1m10 0h1m140 0h1m31 1h1m49 0h1m-379 1h1m42 0h1m21 0h1m98 0h1m114 0h1m-130 1h1m26 0h1m46 0h1m13 0h1m-124 1h1m36 0h1m56 1h1m52 0h1m6 0h1m-346 1h1m130 0h1m8 0h1m77 0h1m28 0h1m0 0h1m80 0h1m-36 1h1m126 0h1m-301 1h1m13 0h1m85 0h1m9 0h1m44 0h1m7 0h1m-309 1h1m3 0h1m65 0h1m4 0h1m139 0h1m86 0h1m108 0h1m-455 1h1m252 0h1m280 0h1m-139 1h1m15 0h1m10 0h1m-316 1h1m89 0h1m12 0h1m107 0h1m35 0h1m8 0h1m78 0h1m61 0h1m-459 1h1m307 0h1m4 0h1m48 0h1m81 0h1m19 0h1m-350 1h1m4 0h1m46 0h1m89 0h1m66 0h1m-345 1h1m271 0h1m32 0h1m64 0h1m5 0h1m118 0h1m-475 1h1m13 0h1m280 0h1m5 0h1m38 0h1m20 0h1m21 0h1m-433 1h1m148 0h1m40 0h1m32 0h1m36 0h1m104 0h1m6 0h1m68 0h1m-87 1h1m9 0h1m84 0h1m50 0h1m18 0h1m-215 1h1m145 0h1m51 0h1m-490 1h1m171 0h1m35 0h1m144 0h1m7 0h1m8 0h1m19 0h1m-385 1h1m7 0h1m41 0h1m193 0h1m112 0h1m26 0h1m13 0h1m76 0h1m5 0h1m32 0h1m-415 1h1m44 0h1m105 0h1m78 0h1m14 0h1m33 0h1m-390 1h1m50 0h1m16 0h1m27 0h1m86 0h1m5 0h1m9 0h1m15 0h1m4 0h1m24 0h1m12 0h1m129 0h1m13 0h1m16 0h1m-417 1h1m30 0h1m35 0h1m160 0h1m96 0h1m56 0h1m17 0h1m3 0h1m7 0h1m-286 1h1m40 0h1m64 0h1m218 0h1m-402 1h1m107 0h1m109 0h1m95 0h1m10 0h1m34 0h1m72 0h1m-248 1h1m20 0h1m66 0h1m43 0h1m118 0h1m-410 1h1m295 0h1m48 0h1m-398 1h1m223 0h1m2 0h1m-215 1h1m14 0h1m60 0h1m5 0h1m63 0h1m103 0h1m45 0h1m135 0h1m-339 1h1m191 0h1m42 0h1m42 0h1m-366 1h1m6 0h1m167 0h1m90 0h1m1 0h1m10 0h1m-180 1h1m16 0h1m40 0h1m93 0h1m77 0h1m5 0h1m-384 1h1m54 0h1m65 0h1m6 0h1m8 0h1m118 0h1m55 0h1m13 0h1m99 0h1m3 0h1m74 0h1m-510 1h1m150 0h1m4 0h1m28 0h1m173 0h1m120 0h1m-458 1h1m235 0h1m13 0h1m135 0h1m38 0h1m-143 1h1m80 0h1m9 0h1m127 0h1m-215 1h1m48 0h1m28 0h1m46 0h1m-386 1h1m236 0h1m223 0h1m-216 1h1m37 0h1m-203 1h1m93 0h1m66 0h1m8 0h1m38 0h1m26 0h1m71 0h1m-182 1h1m35 0h1m163 0h1m17 0h1m-446 1h1m26 0h1m274 0h1m22 0h1m10 0h1m156 0h1m-386 1h1m53 0h1m96 0h1m2 0h1m65 0h1m15 0h1m-151 1h1m0 0h1m84 0h1m22 0h1m184 0h1m-519 1h1m147 0h1m106 0h1m42 0h1m113 0h1m5 0h1m-342 1h1m192 0h1m43 0h1m15 0h1m10 0h1m39 0h1m48 0h1m15 0h1m16 0h1m-453 1h1m142 0h1m64 0h1m98 0h1m37 0h1m41 0h1m-387 1h1m55 0h1m82 0h1m82 0h1m90 0h1m86 0h1m23 0h1m13 0h1m-430 1h1m46 0h1m40 0h1m35 0h1m125 0h1m50 0h1m58 0h1m4 0h1m4 0h1m9 0h1m15 0h1m18 0h1m10 0h1m-456 1h1m239 0h1m6 0h1m124 0h1m24 0h1m4 0h1m3 0h1m69 0h1m28 0h1m-443 1h1m5 0h1m19 0h1m252 0h1m129 0h1m-212 1h1m86 0h1m29 0h1m33 0h1m-24 1h1m68 0h1m-255 1h1m131 0h1m42 0h1m30 0h1m94 0h1m-349 1h1m108 0h1m157 0h1m51 0h1m7 0h1m24 0h1m-501 1h1m23 0h1m235 0h1m112 0h1m31 0h1m14 0h1m77 0h1m-204 1h1m46 0h1m1 0h1m31 0h1m29 0h1m34 0h1m13 0h1m28 0h1m19 0h1m12 0h1m-346 1h1m0 0h1m75 0h1m107 0h1m41 0h1m49 0h1m-397 1h1m167 0h1m16 0h1m22 0h1m64 0h1m89 0h1m8 0h1m-277 1h1m183 0h1m56 0h1m58 0h1m-143 1h1m42 0h1m12 0h1m5 0h1m36 0h1m9 0h1m35 0h1m5 0h1m-370 1h1m5 0h1m10 0h1m182 0h1m55 0h1m38 0h1m44 0h1m90 0h1m-431 1h1m137 0h1m139 0h1m3 0h1m55 0h1m9 0h1m6 0h1m-374 1h1m40 0h1m123 0h1m17 0h1m-180 1h1m139 0h1m207 0h1m64 0h1m-442 1h1m334 0h1m11 0h1m18 0h1m3 0h1m42 0h1m7 0h1m-370 1h1m23 0h1m124 0h1m1 0h1m202 0h1m-428 1h1m95 0h1m78 0h1m162 0h1m13 0h1m84 0h1m0 0h1m21 0h1m7 0h1m-435 1h1m152 0h1m75 0h1m2 0h1m144 0h1m-431 1h1m191 0h1m52 0h1m18 0h1m140 0h1m20 0h1m16 0h1m41 0h1m-404 1h1m295 0h1m7 0h1m-338 1h1m52 0h1m27 0h1m206 0h1m62 0h1m12 0h1m51 0h1m25 0h1m-414 1h1m67 0h1m217 0h1m40 0h1m-404 1h1m37 0h1m0 0h1m42 0h1m155 0h1m16 0h1m61 0h1m3 0h1m105 0h1m21 0h1m4 0h1m13 0h1m-431 1h1m33 0h1m36 0h1m189 0h1m3 0h1m76 0h1m22 0h1m17 0h1m-292 1h1m21 0h1m62 0h1m46 0h1m71 0h1m73 0h1m84 0h1m-439 1h1m132 0h1m162 0h1m-188 1h1m53 0h1m97 0h1m64 0h1m54 0h1m2 0h1m39 0h1m-451 1h1m184 0h1m72 0h1m32 0h1m68 0h1m9 0h1m33 0h1m2 0h1m13 0h1m-387 1h1m141 0h1m150 0h1m105 0h1m-404 1h1m117 0h1m38 0h1m148 0h1m72 0h1m3 0h1m18 0h1m-438 1h1m85 0h1m47 0h1m74 0h1m177 0h1m12 0h1m12 0h1m-218 1h1m145 0h1m68 0h1m15 0h1m49 0h1m0 0h1m-414 1h1m148 0h1m1 0h1m137 0h1m83 0h1m-130 1h1m115 0h1m-306 1h1m1 0h1m68 0h1m44 0h1m97 0h1m23 0h1m34 0h1m67 0h1m-484 1h1m10 0h1m211 0h1m96 0h1m28 0h1m36 0h1m68 0h1m42 0h1m-439 1h1m50 0h1m138 0h1m34 0h1m31 0h1m45 0h1m-259 1h1m12 0h1m83 0h1m63 0h1m6 0h1m68 0h1m29 0h1m45 0h1m27 0h1m5 0h1m-468 1h1m94 0h1m163 0h1m152 0h1m-372 1h1m31 0h1m184 0h1m28 0h1m103 0h1m27 0h1m21 0h1m24 0h1m46 0h1m-165 1h1m34 0h1m0 0h1m15 0h1m4 0h1m23 0h1m-403 1h1m86 0h1m17 0h1m82 0h1m165 0h1m69 0h1m-462 1h1m121 0h1m43 0h1m120 0h1m116 0h1m33 0h1m64 0h1m-444 1h1m406 0h1m25 0h1m4 0h1m32 0h1m-512 1h1m101 0h1m0 0h1m77 0h1m66 0h1m8 0h1m65 0h1m16 0h1m61 0h1m108 0h1m-445 1h1m66 0h1m54 0h1m33 0h1m166 0h1m68 0h1m38 0h1m-417 1h1m180 0h1m-273 1h1m6 0h1m213 0h1m44 0h1m11 0h1m174 0h1m9 1h1m31 0h1m-167 1h1m36 0h1m54 0h1m-408 1h1m109 0h1m145 0h1m87 0h1m33 0h1m-293 1h1m121 0h1m256 0h1m-431 1h1m69 0h1m1 0h1m117 0h1m48 0h1m1 0h1m127 0h1m9 0h1m-361 1h1m9 0h1m33 0h1m205 0h1m36 0h1m31 0h1m23 0h1m-293 1h1m63 0h1m141 0h1m16 0h1m49 0h1m7 0h1m80 0h1m8 0h1m-341 1h1m8 0h1m67 0h1m30 0h1m35 0h1m14 0h1m134 0h1m30 0h1m-326 1h1m17 0h1m2 0h1m245 0h1m25 0h1m-32 1h1m37 0h1m-374 1h1m184 0h1m125 0h1m110 0h1m14 0h1m4 0h1m-443 1h1m68 0h1m2 0h1m6 0h1m65 0h1m61 0h1m8 0h1m107 0h1m40 0h1m43 0h1m-428 1h1m155 0h1m203 0h1m3 0h1m8 0h1m-388 1h1m119 0h1m178 0h1m143 0h1m-492 1h1m355 0h1m90 0h1m26 0h1m-442 1h1m132 0h1m165 0h1m92 0h1m24 0h1m22 0h1m53 0h1m-374 1h1m250 0h1m86 0h1m-344 1h1m4 0h1m87 0h1m6 0h1m11 0h1m133 0h1m81 0h1m-277 1h1m103 0h1m93 0h1m102 0h1m-113 1h1m29 0h1m41 0h1m-459 1h1m142 0h1m112 0h1m70 0h1m46 0h1m20 0h1m9 0h1m16 0h1m-365 1h1m164 0h1m109 0h1m51 0h1m8 0h1m12 0h1m-256 1h1m89 0h1m169 0h1m44 0h1m24 0h1m37 0h1m-483 1h1m81 0h1m281 0h1m28 0h1m22 0h1m-365 1h1m53 0h1m231 0h1m42 0h1m11 0h1m63 0h1m15 0h1m-260 1h1m252 0h1m-501 1h1m69 0h1m7 0h1m163 0h1m35 0h1m93 0h1m25 0h1m50 0h1m34 0h1m-458 1h1m55 0h1m6 0h1m268 0h1m-359 1h1m145 0h1m66 0h1m99 0h1m202 0h1m-464 1h1m124 0h1m196 0h1m39 0h1m6 0h1m11 0h1m37 0h1m5 0h1m-489 1h1m56 0h1m91 0h1m116 0h1m22 0h1m52 0h1m161 0h1m-398 1h1m49 0h1m75 0h1m30 0h1m85 0h1m81 0h1m68 0h1m10 0h1m-347 1h1m7 0h1m161 0h1m18 0h1m22 0h1m3 0h1m0 0h1m31 0h1m18 0h1m10 0h1m-389 1h1m27 0h1m164 0h1m21 0h1m2 0h1m93 0h1m42 0h1m56 0h1m40 0h1m-520 1h1m2 0h1m18 0h1m76 0h1m80 0h1m5 0h1m18 0h1m257 0h1m-390 1h1m259 0h1m96 0h1m51 0h1m-454 1h1m67 0h1m99 0h1m187 0h1m40 0h1m47 0h1m3 0h1m1 0h1m32 0h1m-458 1h1m78 0h1m50 0h1m175 0h1m34 0h1m99 0h1m34 1h1m0 0h1m-475 1h1m103 0h1m145 0h1m166 0h1m29 0h1m-507 1h1m7 0h1m56 0h1m179 0h1m99 0h1m0 0h1m115 0h1m12 0h1m60 0h1m-151 1h1m39 0h1m83 0h1m-247 1h1m34 0h1m110 0h1m15 0h1m40 0h1m7 0h1m35 0h1m-409 1h1m289 0h1m48 0h1m19 0h1m-240 1h1m224 0h1m48 0h1m18 0h1m-369 1h1m45 0h1m82 0h1m178 0h1m21 0h1m5 0h1m-408 1h1m274 0h1m57 0h1m22 0h1m70 0h1m11 0h1m-314 1h1m1 0h1m214 0h1m8 0h1m21 0h1m50 0h1m-491 1h1m58 0h1m107 0h1m93 0h1m40 0h1m149 0h1m25 0h1m-439 1h1m35 0h1m0 0h1m125 0h1m24 0h1m204 0h1m-174 1h1m27 0h1m54 0h1m113 0h1m1 0h1m-462 1h1m380 0h1m87 0h1m-106 1h1m74 0h1m-326 2h1m46 0h1m67 0h1m121 0h1m54 0h1m81 0h1m35 0h1m-486 1h1m84 0h1m38 0h1m202 0h1m30 0h1m-280 1h1m-49 1h1m4 0h1m78 0h1m176 0h1m66 0h1m21 0h1m20 0h1m32 0h1m-368 1h1m28 0h1m70 0h1m158 0h1m38 0h1m32 0h1m22 0h1m22 0h1m-488 1h1m87 0h1m69 0h1m9 0h1m16 0h1m25 0h1m31 0h1m220 0h1m59 0h1m-468 1h1m24 0h1m15 0h1m63 0h1m232 0h1m24 0h1m-251 1h1m271 0h1m44 0h1m-446 1h1m12 0h1m302 0h1m13 0h1m90 0h1m29 0h1m-503 1h1m231 0h1m30 0h1m50 0h1m52 0h1m33 0h1m66 0h1m14 0h1m-409 1h1m32 0h1m40 0h1m57 0h1m61 0h1m146 0h1m50 0h1m42 0h1m-352 1h1m327 0h1m-314 1h1m138 0h1m150 0h1m2 0h1m71 0h1m-496 1h1m127 0h1m8 0h1m192 0h1m78 0h1m2 0h1m21 0h1m39 0h1m-488 1h1m172 0h1m179 0h1m81 0h1m5 0h1m2 0h1m-445 1h1m60 0h1m56 0h1m36 0h1m207 0h1m49 0h1m18 0h1m44 0h1m-480 1h1m54 0h1m101 0h1m160 0h1m7 0h1m39 0h1m66 0h1m13 0h1m8 0h1m-189 1h1m32 0h1m41 0h1m108 0h1m-331 1h1m285 0h1m24 0h1m25 0h1m-328 1h1m49 0h1m76 0h1m150 0h1m-303 1h1m111 0h1m70 0h1m-111 1h1m16 0h1m143 0h1m83 0h1m-430 1h1m418 0h1m36 0h1m-416 1h1m95 0h1m196 0h1m160 0h1m-328 1h1m310 0h1m33 0h1m-448 1h1m130 0h1m49 0h1m20 0h1m89 0h1m-239 1h1m65 0h1m13 0h1m9 0h1m57 0h1m59 0h1m107 0h1m16 0h1m11 0h1m4 0h1m-399 1h1m113 0h1m255 0h1m27 0h1m21 0h1m-338 1h1m108 0h1m145 0h1m34 0h1m43 0h1m-509 1h1m145 0h1m-114 1h1m40 0h1m95 0h1m52 0h1m102 0h1m138 0h1m48 0h1m-483 1h1m33 0h1m190 0h1m193 0h1m1 0h1m12 0h1m62 0h1m-473 1h1m68 0h1m-54 1h1m8 0h1m93 0h1m77 0h1m4 0h1m230 0h1m-459 1h1m62 0h1m159 0h1m216 0h1m28 0h1m-488 1h1m33 0h1m91 0h1m63 0h1m238 0h1m61 0h1m-166 1h1m-243 1h1m250 0h1m37 0h1m86 0h1m-354 1h1m35 0h1m131 0h1m8 0h1m130 0h1m52 0h1m2 0h1m-182 1h1m170 0h1m54 0h1m-196 1h1m-345 1h1m35 0h1m136 0h1m36 0h1m50 0h1m2 0h1m77 0h1m49 0h1m58 0h1m12 0h1m23 0h1m7 0h1m15 0h1m-450 1h1m111 0h1m48 0h1m84 0h1m110 0h1m57 0h1m-125 1h1m8 0h1m60 0h1m63 0h1m-359 1h1m81 0h1m42 0h1m197 0h1m8 0h1m3 0h1m-455 1h1m23 0h1m427 0h1m3 0h1m25 0h1m12 0h1m-201 1h1m77 0h1m-309 1h1m15 0h1m171 0h1m73 0h1m85 0h1m44 0h1m-354 1h1m12 0h1m235 0h1m-252 1h1m27 0h1m82 0h1m197 0h1m13 0h1m28 0h1m53 0h1m7 0h1m0 0h1m-529 1h1m10 0h1m136 0h1m348 0h1m-483 1h1m0 0h1m456 0h1m31 0h1m-251 1h1m43 0h1m9 0h1m-134 1h1m22 0h1m17 0h1m134 0h1m76 0h1m77 0h1m15 0h1m-455 1h1m141 0h1m11 0h1m202 0h1m-242 1h1m79 0h1m142 0h1m31 0h1m85 0h1m-370 1h1m66 0h1m43 0h1m162 0h1m50 0h1m15 0h1m0 0h1m1 0h1m-504 1h1m300 0h1m3 0h1m78 0h1m-290 1h1m30 0h1m122 0h1m201 0h1m51 0h1m-464 1h1m74 0h1m26 0h1m71 0h1m195 0h1m23 0h1m63 0h1m-491 1h1m4 0h1m64 0h1m146 0h1m45 0h1m-246 1h1m61 0h1m70 0h1m0 0h1m181 0h1m37 0h1m103 0h1m-318 1h1m327 0h1m1 0h1m28 0h1m-525 1h1m46 0h1m8 0h1m173 0h1m268 0h1m-455 1h1m5 0h1m10 0h1m314 0h1m65 0h1m69 0h1m-224 1h1m17 0h1m18 0h1m46 0h1m84 0h1m7 0h1m15 0h1m28 0h1m21 0h1m-343 1h1m69 0h1m64 0h1m104 0h1m100 0h1m-461 1h1m14 0h1m83 0h1m85 0h1m178 0h1m14 0h1m44 0h1m12 0h1m-480 1h1m387 0h1m34 0h1m63 0h1m2 0h1m8 0h1m-460 1h1m38 0h1m53 0h1m24 0h1m109 0h1m128 0h1m63 0h1m-345 1h1m217 0h1m7 0h1m115 0h1m2 0h1m27 0h1m-356 1h1m41 0h1m-141 1h1m8 0h1m59 0h1m66 0h1m34 0h1m71 0h1m63 0h1m100 0h1m47 0h1m-430 1h1m35 0h1m0 0h1m41 0h1m223 0h1m17 0h1m-187 1h1m30 0h1m205 0h1m24 0h1m-465 1h1m91 0h1m121 0h1m245 0h1m18 0h1m2 0h1m26 0h1m-457 1h1m233 0h1m23 0h1m81 0h1m27 0h1m-72 1h1m27 0h1m61 0h1m58 0h1m9 0h1m-210 1h1m109 0h1m32 1h1m-417 1h1m389 0h1m-217 1h1m110 0h1m39 0h1m10 0h1m6 0h1m118 0h1m-487 1h1m95 0h1m73 0h1m30 0h1m23 0h1m69 0h1m0 0h1m3 0h1m88 0h1m-114 1h1m43 0h1m20 0h1m49 0h1m-306 1h1m121 0h1m80 0h1m24 0h1m109 0h1m14 0h1m16 0h1m12 0h1m-463 1h1m119 0h1m181 0h1m-329 1h1m250 0h1m228 0h1m8 0h1m7 0h1m1 0h1m-462 1h1m50 0h1m363 0h1m-394 1h1m113 0h1m142 0h1m95 0h1m83 0h1m9 0h1m-364 1h1m52 0h1m53 0h1m13 0h1m163 0h1m-391 1h1m71 0h1m134 0h1m59 0h1m3 1h1m192 0h1m-323 1h1m302 0h1m-408 1h1m76 0h1m86 0h1m18 0h1m185 0h1m-46 1h1m86 0h1m19 0h1m-251 1h1m246 0h1m-379 1h1m56 0h1m324 0h1m-306 1h1m94 0h1m151 0h1m-321 1h1m29 0h1m75 0h1m-249 1h1m74 0h1m36 0h1m54 0h1m67 0h1m171 0h1m-241 1h1m109 0h1m73 0h1m29 0h1m-318 1h1m15 0h1m7 0h1m43 0h1m178 0h1m-308 1h1m11 0h1m14 0h1m278 0h1m28 0h1m100 0h1m58 0h1m19 0h1m8 0h1m-259 1h1m15 0h1m11 0h1m7 0h1m-268 1h1m104 0h1m299 0h1m-179 1h1m-258 1h1m171 0h1m172 0h1m14 0h1m120 0h1m-375 1h1m6 0h1m39 0h1m331 0h1m-360 1h1m40 0h1m68 0h1m45 0h1m19 0h1m154 0h1m10 0h1m26 0h1m-481 1h1m27 0h1m121 0h1m119 0h1m29 0h1m122 0h1m-407 1h1m68 0h1m7 0h1m143 0h1m87 0h1m138 0h1m13 0h1m6 0h1m-411 1h1m8 0h1m100 0h1m144 0h1m9 0h1m56 0h1m24 0h1m72 0h1m2 0h1m12 0h1m-451 1h1m30 0h1m161 0h1m-237 1h1m17 0h1m239 0h1m47 0h1m42 0h1m68 0h1m46 0h1m-498 1h1m151 0h1m3 0h1m74 0h1m3 0h1m82 0h1m0 0h1m5 0h1m195 0h1m-282 1h1m95 0h1m48 0h1m17 0h1m46 0h1m19 0h1m41 0h1m11 0h1m-454 1h1m42 0h1m200 0h1m70 0h1m5 0h1m70 0h1m-360 1h1m5 0h1m37 0h1m278 0h1m83 0h1m7 0h1m-404 1h1m144 0h1m50 0h1m13 0h1m47 0h1m-288 1h1m109 0h1m185 0h1m32 0h1m-61 1h1m12 0h1m143 0h1m-480 1h1m43 0h1m50 0h1m269 0h1m52 0h1m64 0h1m-372 1h1m140 0h1m133 0h1m59 0h1m14 0h1m-406 1h1m114 0h1m97 0h1m185 0h1m-103 1h1m43 0h1m70 0h1m-454 1h1m113 0h1m173 0h1m103 0h1m-255 1h1m76 0h1m5 0h1m-175 1h1m27 0h1m23 0h1m355 0h1m-511 1h1m105 0h1m218 0h1m40 0h1m120 0h1m21 0h1m-424 1h1m25 0h1m120 0h1m105 0h1m42 0h1m68 0h1m24 0h1m5 0h1m45 0h1m-360 1h1m-176 1h1m215 0h1m3 0h1m122 0h1m15 0h1m163 0h1m-519 1h1m259 0h1m110 0h1m114 0h1m36 0h1m2 0h1m-469 1h1m102 0h1m105 0h1m99 0h1m-231 1h1m142 0h1m13 0h1m107 0h1m16 0h1m78 0h1m-472 1h1m86 0h1m29 0h1m36 0h1m294 0h1m-436 1h1m80 0h1m151 0h1m174 0h1m14 0h1m-439 1h1m459 0h1m17 0h1m-401 1h1m65 0h1m132 0h1m-295 1h1m250 0h1m57 0h1m184 0h1m15 0h1m-334 1h1m221 0h1m70 0h1m26 0h1m11 0h1m-458 1h1m133 0h1m24 0h1m38 0h1m-203 1h1m112 0h1m203 0h1m131 0h1m8 0h1m-195 1h1m-281 1h1m119 0h1m35 0h1m12 0h1m24 0h1m33 0h1m74 0h1m157 0h1m-366 1h1m184 0h1m26 0h1m18 0h1m137 0h1m-501 1h1m93 0h1m129 0h1m77 0h1m63 0h1m36 0h1m-354 1h1m147 0h1m11 0h1m311 0h1m-532 1h1m21 0h1m9 0h1m11 0h1m122 0h1m289 0h1m76 0h1m-382 1h1m37 0h1m183 0h1m88 0h1m22 0h1m36 0h1m0 0h1m-522 1h1m10 0h1m87 0h1m422 0h1m-390 1h1m51 0h1m1 0h1m129 0h1m91 0h1m-345 1h1m233 0h1m66 0h1m114 0h1m-398 1h1m35 0h1m360 0h1m48 0h1m-430 1h1m351 0h1m62 0h1m-303 1h1m52 0h1m35 0h1m112 0h1m7 0h1m74 0h1m30 0h1m-317 1h1m-210 1h1m27 0h1m95 0h1m86 0h1m134 0h1m90 0h1m-438 1h1m48 0h1m83 0h1m9 0h1m91 0h1m2 0h1m19 0h1m4 0h1m254 0h1m-479 1h1m62 0h1m29 0h1m102 0h1m45 0h1m9 0h1m205 0h1m-361 1h1m6 0h1m100 0h1m-232 1h1m28 0h1m161 0h1m21 0h1m262 0h1m-189 1h1m118 0h1m-340 1h1m118 0h1m152 0h1m89 0h1m-24 1h1m89 0h1m-479 1h1m192 0h1m34 0h1m14 0h1m120 0h1m-343 1h1m0 0h1m125 0h1m4 0h1m13 0h1m190 0h1m11 0h1m-264 1h1m115 0h1m22 0h1m-266 1h1m141 0h1m90 0h1m180 0h1m68 0h1m-440 1h1m19 0h1m58 0h1m22 0h1m-92 1h1m152 0h1m16 0h1m59 0h1m67 0h1m71 0h1m2 0h1m27 0h1m32 0h1m-424 1h1m174 0h1m44 0h1m104 0h1m41 0h1m-269 1h1m125 0h1m-288 1h1m193 0h1m40 0h1m6 0h1m167 0h1m49 0h1m-414 1h1m100 0h1m297 0h1m-452 1h1m234 0h1m39 0h1m69 0h1m-254 1h1m318 0h1m-383 1h1m107 0h1m89 0h1m101 0h1m128 0h1m-444 1h1m92 0h1m8 0h1m115 0h1m45 0h1m16 0h1m177 0h1m-319 1h1m98 0h1m37 0h1m162 0h1m10 0h1m-361 1h1m39 0h1m66 0h1m17 0h1m105 0h1m121 0h1m36 0h1m-338 1h1m256 0h1m93 0h1m-491 1h1m46 0h1m372 0h1m-453 1h1m297 0h1m59 0h1m29 0h1m9 0h1m118 0h1m-408 1h1m26 0h1m297 0h1m20 0h1m15 0h1m12 0h1m-454 1h1m2 0h1m197 0h1m39 0h1m106 0h1m62 0h1m71 0h1m-532 1h1m31 0h1m85 0h1m66 0h1m130 0h1m45 0h1m47 0h1m28 0h1m-185 1h1m11 0h1m22 0h1m17 0h1m13 0h1m61 0h1m35 0h1m70 0h1m34 0h1m-511 2h1m86 0h1m385 0h1m-479 1h1m102 0h1m44 0h1m121 0h1m-206 1h1m161 0h1m95 0h1m156 0h1m-456 1h1m227 0h1m129 0h1m-380 1h1m30 0h1m17 0h1m81 0h1m9 0h1m226 0h1m8 0h1m140 0h1m-298 1h1m51 0h1m56 0h1m182 0h1m-495 1h1m88 0h1m278 0h1m6 0h1m-377 1h1m227 0h1m111 0h1m15 0h1m8 0h1m27 0h1m-357 1h1m96 0h1m96 0h1m47 0h1m1 0h1m24 0h1m-265 1h1m169 0h1m42 0h1m33 0h1m9 0h1m156 0h1m-475 1h1m143 0h1m162 0h1m92 0h1m44 0h1m37 0h1m-326 1h1m162 0h1m20 0h1m43 0h1m17 0h1m77 0h1m4 0h1m12 0h1m-482 1h1m113 0h1m37 0h1m227 0h1m-380 1h1m83 0h1m287 0h1m28 0h1m3 0h1m-418 1h1m68 0h1m90 0h1m99 0h1m20 0h1m163 0h1m29 0h1m-492 1h1m59 0h1m136 0h1m9 0h1m22 0h1m86 0h1m98 0h1m-336 1h1m264 0h1m160 0h1m-514 1h1m13 0h1m475 0h1m-436 1h1m63 0h1m27 0h1m263 0h1m84 0h1m37 1h1m-439 1h1m397 0h1m-492 1h1m60 0h1m48 0h1m31 0h1m65 0h1m72 0h1m26 0h1m72 0h1m118 0h1m-499 1h1m167 0h1m67 0h1m250 0h1m39 0h1m-363 1h1m154 0h1m189 0h1m-488 1h1m55 0h1m27 0h1m174 0h1m13 0h1m-292 1h1m244 0h1m24 0h1m-247 1h1m34 0h1m44 0h1m308 0h1m30 0h1m-448 1h1m394 0h1m-236 1h1m143 0h1m30 0h1m191 0h1m-382 1h1m30 0h1m73 0h1m10 0h1m49 0h1m153 0h1m39 0h1m-502 1h1m120 0h1m176 0h1m109 0h1m109 0h1m-377 1h1m54 0h1m9 0h1m131 0h1m2 0h1m174 0h1m-258 1h1m42 0h1m20 0h1m11 0h1m43 0h1m30 0h1m-410 1h1m40 0h1m55 0h1m89 0h1m98 0h1m26 0h1m-140 1h1m275 0h1m-410 1h1m69 0h1m301 0h1m-416 1h1m52 0h1m49 0h1m27 0h1m65 0h1m125 0h1m124 0h1m62 0h1m-415 1h1m95 0h1m201 0h1m30 0h1m54 0h1m-324 1h1m34 0h1m76 0h1m6 0h1m8 0h1m148 0h1m63 0h1m-396 1h1m33 0h1m47 0h1m202 0h1m102 0h1"/>
<path stroke="rgb(192,192,192)" stroke-width="1" d="M164 69.5h1m110 0h1m68 0h1m68 0h1m14 0h1m82 0h1m74 0h1m-468 1h1m114 0h1m32 0h1m73 0h1m67 0h1m-194 1h1m110 0h1m58 0h1m32 0h1m56 0h1m7 0h1m72 0h1m-465 1h1m7 0h1m178 0h1m57 0h1m20 0h1m157 0h1m-271 1h1m86 0h1m218 0h1m-370 1h1m173 0h1m27 0h1m60 0h1m-41 1h1m-330 1h1m15 0h1m20 0h1m59 0h1m43 0h1m87 0h1m85 0h1m0 0h1m96 0h1m46 0h1m-467 1h1m142 0h1m82 0h1m62 0h1m29 1h1m53 0h1m27 0h1m-289 1h1m18 0h1m53 0h1m81 0h1m-62 1h1m9 0h1m173 0h1m43 0h1m-183 1h1m37 0h1m76 0h1m-325 1h1m172 0h1m155 0h1m33 0h1m-388 1h1m26 0h1m490 0h1m-439 1h1m94 0h1m176 0h1m111 0h1m-483 1h1m58 0h1m30 0h1m33 0h1m154 0h1m49 0h1m21 0h1m20 0h1m75 0h1m-411 1h1m109 0h1m112 0h1m52 0h1m-229 1h1m25 0h1m1 0h1m206 0h1m103 0h1m1 0h1m94 0h1m-298 1h1m96 0h1m-321 1h1m10 0h1m129 0h1m42 0h1m10 0h1m65 0h1m91 0h1m-228 1h1m65 1h1m48 0h1m121 0h1m-249 1h1m113 0h1m-201 1h1m266 0h1m95 0h1m-325 1h1m159 0h1m218 0h1m-438 1h1m240 1h1m262 0h1m-246 1h1m23 0h1m69 0h1m29 0h1m12 0h1m-373 1h1m148 0h1m52 0h1m6 0h1m3 0h1m-125 1h1m190 0h1m-314 1h1m83 0h1m6 0h1m61 0h1m55 0h1m280 0h1m29 0h1m-522 1h1m74 0h1m147 0h1m137 0h1m46 0h1m5 0h1m-418 1h1m80 0h1m170 0h1m45 0h1m114 0h1m33 0h1m76 0h1m-527 1h1m146 0h1m23 0h1m254 0h1m-417 1h1m108 0h1m312 0h1m-344 1h1m59 0h1m4 0h1m162 0h1m-104 1h1m117 0h1m-334 1h1m246 0h1m46 0h1m51 0h1m-236 1h1m94 0h1m31 0h1m179 0h1m55 0h1m27 0h1m-439 1h1m3 0h1m53 0h1m104 0h1m94 0h1m176 0h1m-442 1h1m97 0h1m100 0h1m234 0h1m-435 1h1m200 0h1m86 0h1m-289 1h1m226 0h1m51 0h1m49 0h1m4 0h1m-78 1h1m155 0h1m-19 1h1m-367 1h1m107 0h1m97 0h1m50 0h1m-251 1h1m1 0h1m-40 1h1m18 0h1m289 0h1m14 0h1m-292 1h1m1 0h1m63 0h1m84 0h1m21 0h1m57 0h1m215 0h1m-418 1h1m71 0h1m131 0h1m94 0h1m-251 1h1m51 0h1m105 0h1m201 0h1m-397 1h1m94 0h1m31 0h1m245 0h1m-411 2h1m76 0h1m30 0h1m42 0h1m109 0h1m68 0h1m-414 1h1m373 0h1m28 0h1m-390 1h1m61 0h1m10 0h1m44 0h1m49 0h1m52 0h1m114 1h1m32 0h1m133 0h1m-440 1h1m231 0h1m-290 1h1m31 0h1m168 0h1m12 0h1m135 0h1m9 0h1m-387 1h1m21 0h1m82 0h1m178 0h1m26 0h1m-283 1h1m220 0h1m49 0h1m47 0h1m-239 1h1m135 0h1m-195 1h1m42 0h1m1 0h1m24 0h1m88 0h1m-129 1h1m447 0h1m-527 1h1m448 0h1m4 0h1m64 0h1m4 0h1m-391 1h1m45 0h1m262 0h1m57 0h1m-498 1h1m180 0h1m-55 1h1m93 0h1m38 0h1m24 0h1m-210 1h1m15 0h1m178 0h1m21 0h1m-271 1h1m218 0h1m73 0h1m28 0h1m1 0h1m33 0h1m116 0h1m-473 1h1m113 0h1m87 0h1m26 0h1m2 0h1m214 0h1m-478 1h1m445 0h1m-366 1h1m230 0h1m72 0h1m19 0h1m-374 1h1m5 0h1m17 0h1m154 0h1m-165 1h1m0 0h1m156 0h1m-125 1h1m114 0h1m80 0h1m114 0h1m70 0h1m-389 1h1m53 0h1m101 0h1m0 0h1m64 0h1m206 0h1m-500 1h1m195 0h1m66 0h1m68 0h1m140 0h1m-488 1h1m210 0h1m60 0h1m47 0h1m17 0h1m-11 1h1m28 0h1m47 0h1m-360 1h1m91 0h1m168 0h1m150 0h1m-365 1h1m4 0h1m110 0h1m270 0h1m44 0h1m-524 1h1m100 0h1m78 0h1m76 0h1m55 0h1m178 1h1m-430 1h1m130 0h1m201 0h1m-149 1h1m85 0h1m0 0h1m-210 1h1m118 0h1m202 0h1m-412 1h1m84 0h1m160 0h1m23 0h1m-189 1h1m94 0h1m206 0h1m-410 1h1m106 0h1m124 0h1m113 0h1m1 0h1m-164 1h1m36 0h1m-203 1h1m36 0h1m39 0h1m5 0h1m21 0h1m77 0h1m162 0h1m56 0h1m-139 1h1m21 0h1m22 0h1m93 0h1m-428 1h1m114 0h1m183 0h1m46 0h1m15 0h1m-121 1h1m1 0h1m88 0h1m75 0h1m90 0h1m-289 1h1m17 0h1m0 0h1m113 0h1m178 0h1m-431 1h1m7 0h1m105 0h1m16 0h1m31 0h1m189 0h1m42 0h1m-502 1h1m203 0h1m27 0h1m23 0h1m106 0h1m-168 1h1m6 0h1m149 0h1m24 0h1m6 0h1m141 0h1m-467 1h1m104 0h1m62 0h1m95 0h1m10 0h1m148 0h1m-350 1h1m14 0h1m60 0h1m117 0h1m187 0h1m-488 1h1m51 0h1m6 0h1m70 0h1m204 0h1m131 0h1m-474 1h1m180 0h1m34 0h1m186 0h1m31 0h1m-240 1h1m38 0h1m54 0h1m142 0h1m-281 1h1m70 0h1m11 0h1m37 0h1m65 0h1m-335 1h1m123 0h1m242 0h1m36 0h1m25 0h1m27 0h1m24 0h1m-444 1h1m95 0h1m10 0h1m76 0h1m50 0h1m-289 1h1m101 0h1m65 0h1m39 0h1m28 0h1m11 0h1m26 0h1m2 0h1m-284 1h1m70 0h1m6 0h1m84 0h1m227 0h1m-36 1h1m101 0h1m-414 1h1m91 0h1m150 0h1m34 0h1m75 0h1m119 0h1m-490 1h1m11 0h1m188 0h1m39 0h1m41 0h1m19 0h1m49 0h1m24 0h1m0 0h1m-236 1h1m-18 1h1m1 0h1m73 0h1m256 0h1m-414 1h1m118 0h1m30 0h1m173 0h1m69 0h1m14 0h1m-433 1h1m7 0h1m104 0h1m246 0h1m-156 1h1m73 0h1m11 0h1m10 0h1m14 0h1m-84 1h1m20 0h1m179 0h1m-249 1h1m10 0h1m0 0h1m153 1h1m66 0h1m-393 1h1m124 0h1m-196 1h1m332 0h1m14 0h1m9 0h1m13 0h1m36 0h1m-149 1h1m8 0h1m49 0h1m97 0h1m15 0h1m-190 1h1m43 0h1m150 0h1m-453 1h1m47 0h1m117 0h1m58 0h1m27 0h1m2 0h1m16 0h1m29 0h1m-163 1h1m37 0h1m46 0h1m3 0h1m-200 1h1m179 0h1m4 0h1m169 0h1m-342 1h1m231 0h1m19 0h1m24 0h1m41 0h1m-9 1h1m67 0h1m93 0h1m-462 1h1m14 0h1m189 0h1m43 0h1m60 0h1m7 0h1m111 0h1m-474 1h1m125 0h1m303 0h1m1 0h1m35 0h1m7 0h1m0 0h1m-295 1h1m170 0h1m76 0h1m6 0h1m-307 1h1m156 0h1m7 0h1m23 0h1m171 0h1m-456 1h1m35 0h1m4 0h1m112 0h1m111 0h1m2 0h1m150 0h1m-259 1h1m70 0h1m17 0h1m14 1h1m7 0h1m7 0h1m21 0h1m12 0h1m35 0h1m-323 1h1m42 0h1m139 0h1m76 0h1m28 0h1m0 0h1m-87 1h1m40 0h1m12 0h1m74 0h1m87 0h1m-428 1h1m131 0h1m93 0h1m47 0h1m24 0h1m57 0h1m-249 1h1m102 0h1m74 0h1m-283 1h1m127 0h1m80 0h1m11 0h1m34 0h1m32 0h1m6 0h1m14 0h1m36 0h1m-190 1h1m22 0h1m26 0h1m131 0h1m12 0h1m20 0h1m6 0h1m-205 1h1m41 0h1m-257 1h1m264 0h1m41 0h1m0 0h1m91 0h1m-429 1h1m41 0h1m217 0h1m44 0h1m6 0h1m-221 1h1m59 0h1m44 0h1m1 0h1m78 0h1m16 0h1m40 0h1m-330 1h1m206 0h1m200 0h1m-406 1h1m27 0h1m9 0h1m10 0h1m10 0h1m54 0h1m140 0h1m-291 1h1m11 0h1m66 0h1m145 0h1m31 0h1m1 0h1m20 0h1m28 0h1m25 0h1m0 0h1m166 0h1m-233 1h1m43 0h1m75 0h1m133 0h1m-372 1h1m175 0h1m11 0h1m89 0h1m50 0h1m-326 1h1m19 0h1m79 0h1m41 0h1m30 0h1m17 0h1m69 0h1m1 0h1m-366 1h1m24 0h1m48 0h1m298 0h1m-441 1h1m115 0h1m172 0h1m7 0h1m11 0h1m54 0h1m18 0h1m-362 1h1m315 0h1m95 0h1m64 0h1m-458 1h1m127 0h1m80 0h1m57 0h1m25 0h1m9 0h1m10 0h1m25 0h1m45 0h1m-349 1h1m64 0h1m30 0h1m124 0h1m-298 1h1m11 0h1m74 0h1m126 0h1m19 0h1m82 0h1m-254 1h1m63 0h1m135 0h1m101 0h1m6 0h1m36 0h1m36 0h1m46 0h1m-478 1h1m27 0h1m98 0h1m13 0h1m236 0h1m-402 1h1m120 0h1m65 0h1m6 0h1m179 0h1m20 0h1m99 0h1m31 0h1m-436 1h1m217 0h1m64 0h1m95 0h1m-353 1h1m4 0h1m307 0h1m1 0h1m25 0h1m-438 1h1m36 0h1m184 0h1m71 0h1m33 0h1m41 0h1m29 0h1m-261 1h1m164 0h1m21 0h1m0 0h1m188 0h1m-377 1h1m99 0h1m8 0h1m6 0h1m50 0h1m136 0h1m-164 1h1m126 0h1m-381 1h1m2 0h1m229 0h1m26 0h1m35 0h1m18 0h1m10 0h1m-315 1h1m161 0h1m112 0h1m4 0h1m8 0h1m-123 1h1m149 0h1m17 0h1m-234 1h1m120 0h1m3 0h1m235 0h1m-491 1h1m29 0h1m54 0h1m221 0h1m3 0h1m0 0h1m24 0h1m-337 1h1m63 0h1m1 0h1m32 0h1m17 0h1m167 0h1m32 0h1m31 0h1m36 0h1m-29 1h1m3 0h1m93 0h1m-352 1h1m92 0h1m74 0h1m66 0h1m89 0h1m-274 1h1m185 0h1m-171 1h1m109 0h1m90 0h1m7 0h1m-332 1h1m77 0h1m305 0h1m6 0h1m-302 1h1m40 0h1m6 0h1m28 0h1m33 0h1m87 0h1m9 0h1m28 0h1m-130 1h1m206 0h1m-395 1h1m8 0h1m0 0h1m51 0h1m32 0h1m6 0h1m106 0h1m176 0h1m-346 1h1m64 0h1m11 0h1m108 0h1m27 0h1m73 0h1m0 0h1m23 0h1m4 0h1m-381 1h1m200 0h1m12 0h1m55 0h1m42 0h1m61 0h1m-398 1h1m5 0h1m292 0h1m12 0h1m0 0h1m21 0h1m66 0h1m13 0h1m-446 1h1m260 0h1m24 0h1m4 0h1m65 0h1m53 0h1m82 0h1m-450 1h1m6 0h1m7 0h1m186 0h1m119 0h1m59 0h1m-431 1h1m201 0h1m36 0h1m6 0h1m50 0h1m72 0h1m141 0h1m-476 1h1m231 0h1m91 0h1m13 0h1m8 0h1m10 0h1m73 0h1m17 0h1m-485 1h1m35 0h1m123 0h1m16 0h1m47 0h1m40 0h1m11 0h1m121 0h1m21 0h1m72 0h1m-153 1h1m2 0h1m-358 1h1m160 0h1m120 0h1m34 0h1m-286 1h1m8 0h1m67 0h1m104 0h1m96 0h1m30 0h1m158 0h1m-465 1h1m3 0h1m94 0h1m180 0h1m9 0h1m76 0h1m13 0h1m6 0h1m56 0h1m-283 1h1m125 0h1m8 0h1m12 0h1m77 0h1m-354 1h1m172 0h1m115 0h1m-316 1h1m34 0h1m246 0h1m5 0h1m20 0h1m26 0h1m-157 1h1m112 0h1m14 0h1m-332 1h1m92 0h1m231 0h1m20 0h1m15 0h1m-362 1h1m130 0h1m26 0h1m18 0h1m159 0h1m10 0h1m-299 1h1m150 0h1m147 0h1m-60 1h1m5 0h1m12 0h1m14 0h1m45 0h1m30 0h1m-296 1h1m46 0h1m81 0h1m201 0h1m30 0h1m0 0h1m-514 1h1m192 0h1m61 0h1m44 0h1m60 0h1m122 0h1m18 0h1m-346 1h1m57 0h1m139 0h1m21 0h1m-243 1h1m160 0h1m5 0h1m-211 1h1m94 0h1m70 0h1m31 0h1m74 0h1m9 0h1m11 0h1m7 0h1m3 0h1m18 0h1m-387 1h1m196 0h1m142 0h1m40 0h1m75 0h1m-434 1h1m40 0h1m34 0h1m248 0h1m43 0h1m33 0h1m-453 1h1m136 0h1m268 0h1m91 0h1m-414 1h1m288 0h1m109 0h1m-341 1h1m259 0h1m2 0h1m-374 1h1m13 0h1m81 0h1m10 0h1m81 0h1m145 0h1m16 0h1m53 0h1m5 0h1m26 0h1m40 0h1m-511 1h1m289 0h1m188 0h1m25 0h1m-358 1h1m44 0h1m182 0h1m24 0h1m5 0h1m5 0h1m-293 1h1m144 0h1m137 0h1m101 0h1m-478 1h1m95 0h1m156 0h1m116 0h1m21 0h1m-173 1h1m16 0h1m-274 1h1m144 0h1m196 0h1m70 0h1m-374 1h1m52 0h1m113 0h1m138 0h1m55 0h1m21 0h1m-430 1h1m352 0h1m61 1h1m-414 1h1m74 0h1m95 0h1m34 0h1m96 0h1m51 0h1m22 0h1m38 0h1m15 0h1m-292 1h1m32 0h1m150 0h1m31 0h1m25 0h1m73 0h1m-287 1h1m1 0h1m25 0h1m94 0h1m41 0h1m55 0h1m78 0h1m-414 1h1m329 0h1m18 0h1m19 0h1m19 0h1m6 0h1m-454 1h1m153 0h1m206 0h1m15 0h1m26 0h1m9 0h1m-276 1h1m104 0h1m16 0h1m92 0h1m12 0h1m20 0h1m12 0h1m52 0h1m-445 1h1m358 0h1m12 0h1m74 0h1m-273 1h1m231 0h1m-204 1h1m129 0h1m12 0h1m29 0h1m27 0h1m0 0h1m9 0h1m65 0h1m13 0h1m-489 1h1m13 0h1m108 0h1m136 0h1m77 0h1m45 0h1m0 0h1m-376 1h1m25 0h1m193 0h1m39 0h1m131 0h1m-403 1h1m33 0h1m60 0h1m25 0h1m203 0h1m3 0h1m30 0h1m22 0h1m36 0h1m39 0h1m-167 1h1m23 0h1m35 0h1m-344 1h1m65 0h1m101 0h1m57 0h1m2 0h1m29 0h1m80 0h1m103 0h1m34 0h1m-509 1h1m34 0h1m28 0h1m7 0h1m189 0h1m36 0h1m41 0h1m137 0h1m13 0h1m6 0h1m-239 1h1m87 0h1m0 0h1m3 0h1m53 0h1m6 0h1m46 0h1m9 0h1m-477 1h1m115 0h1m91 0h1m104 0h1m29 0h1m66 0h1m5 0h1m32 0h1m35 0h1m-479 1h1m16 0h1m7 0h1m347 0h1m46 0h1m18 0h1m-406 1h1m88 0h1m142 0h1m151 0h1m12 0h1m43 0h1m-195 1h1m109 0h1m21 0h1m75 0h1m-370 1h1m18 0h1m128 0h1m62 0h1m142 0h1m1 0h1m8 0h1m-193 1h1m2 0h1m17 0h1m93 0h1m81 0h1m-473 1h1m48 0h1m174 0h1m124 0h1m24 0h1m35 0h1m9 0h1m1 0h1m10 0h1m51 0h1m-487 1h1m208 0h1m114 0h1m60 0h1m33 0h1m24 0h1m7 0h1m-474 1h1m9 0h1m65 0h1m44 0h1m179 0h1m73 0h1m15 0h1m30 0h1m-354 1h1m46 0h1m344 0h1m13 0h1m15 0h1m-157 1h1m79 0h1m17 0h1m22 0h1m48 0h1m-502 1h1m152 0h1m209 0h1m53 0h1m5 0h1m24 0h1m-147 1h1m105 0h1m22 0h1m29 0h1m-397 1h1m50 0h1m282 0h1m3 0h1m8 0h1m4 0h1m26 0h1m4 0h1m46 0h1m-350 1h1m105 0h1m72 0h1m40 0h1m47 0h1m10 0h1m17 0h1m32 0h1m-439 1h1m32 0h1m40 0h1m116 0h1m12 0h1m98 0h1m20 0h1m6 0h1m69 0h1m-329 1h1m81 0h1m73 0h1m98 0h1m36 0h1m12 0h1m111 0h1m-466 1h1m73 0h1m31 0h1m26 0h1m11 0h1m147 0h1m37 0h1m73 0h1m53 0h1m-517 1h1m248 0h1m199 0h1m68 0h1m-318 1h1m149 0h1m10 0h1m11 0h1m34 0h1m12 0h1m1 0h1m4 0h1m10 0h1m-375 1h1m26 0h1m208 0h1m26 0h1m87 0h1m52 0h1m2 0h1m4 0h1m-229 1h1m111 0h1m8 0h1m92 0h1m0 0h1m-404 1h1m131 0h1m269 0h1m-300 1h1m59 0h1m2 0h1m196 0h1m18 0h1m1 0h1m31 0h1m-90 1h1m4 0h1m26 0h1m40 0h1m-334 1h1m222 0h1m11 0h1m137 0h1m-236 1h1m86 0h1m17 0h1m15 0h1m8 0h1m-388 1h1m142 0h1m98 0h1m111 0h1m-227 1h1m27 0h1m126 0h1m51 0h1m18 0h1m24 0h1m98 0h1m-418 1h1m172 0h1m102 0h1m51 0h1m33 0h1m47 0h1m-257 1h1m29 0h1m117 0h1m75 0h1m8 0h1m17 0h1m45 0h1m-320 1h1m28 0h1m136 0h1m63 0h1m7 0h1m5 0h1m47 0h1m-422 1h1m242 0h1m23 0h1m62 0h1m4 0h1m-387 1h1m14 0h1m418 0h1m35 0h1m-413 1h1m236 0h1m5 0h1m86 0h1m10 0h1m41 0h1m11 0h1m22 0h1m2 0h1m-499 1h1m60 0h1m39 0h1m46 0h1m150 0h1m0 0h1m219 0h1m-530 1h1m49 0h1m155 0h1m69 0h1m26 0h1m139 0h1m39 0h1m-439 1h1m44 0h1m2 0h1m274 0h1m79 0h1m36 0h1m3 0h1m-450 1h1m87 0h1m289 0h1m0 0h1m43 0h1m1 0h1m-303 1h1m70 0h1m245 0h1m12 0h1m-306 1h1m17 0h1m37 0h1m37 0h1m33 0h1m29 0h1m150 0h1m7 0h1m-441 1h1m77 0h1m18 0h1m252 0h1m8 0h1m74 0h1m-509 1h1m148 0h1m48 0h1m152 0h1m32 0h1m136 0h1m9 0h1m-481 1h1m57 0h1m53 0h1m89 0h1m96 0h1m112 0h1m62 0h1m-357 1h1m27 0h1m1 0h1m144 0h1m30 0h1m56 0h1m-347 1h1m0 0h1m16 0h1m14 0h1m20 0h1m38 0h1m122 0h1m163 0h1m13 0h1m28 0h1m-503 1h1m259 0h1m15 0h1m38 0h1m99 0h1m18 0h1m-225 1h1m2 0h1m215 0h1m15 0h1m82 0h1m-446 1h1m130 0h1m31 0h1m201 0h1m-436 1h1m29 0h1m10 0h1m5 0h1m212 0h1m78 0h1m7 0h1m24 0h1m61 0h1m-358 1h1m69 0h1m105 0h1m-141 1h1m47 0h1m36 0h1m173 0h1m31 0h1m1 0h1m8 0h1m43 0h1m13 0h1m16 0h1m26 0h1m-490 1h1m34 0h1m74 0h1m79 0h1m132 0h1m36 0h1m74 0h1m-459 1h1m214 0h1m180 0h1m42 0h1m6 0h1m9 0h1m35 0h1m-444 1h1m423 0h1m9 0h1m-475 2h1m112 0h1m1 0h1m167 0h1m12 0h1m4 0h1m110 0h1m60 0h1m-485 1h1m26 0h1m46 0h1m43 0h1m275 0h1m45 0h1m21 0h1m-427 1h1m253 0h1m16 0h1m24 0h1m158 0h1m-443 1h1m39 0h1m4 0h1m253 0h1m18 0h1m26 0h1m12 0h1m44 0h1m60 0h1m-232 1h1m106 0h1m100 0h1m-424 1h1m8 0h1m12 0h1m41 0h1m240 0h1m23 0h1m27 0h1m-205 1h1m208 0h1m35 0h1m-205 1h1m43 0h1m99 0h1m-261 1h1m59 0h1m223 0h1m15 0h1m-226 1h1m57 0h1m233 0h1m-539 1h1m274 0h1m9 0h1m67 0h1m94 0h1m-441 1h1m293 0h1m122 0h1m31 0h1m56 0h1m-50 1h1m-449 1h1m134 0h1m142 0h1m65 0h1m25 0h1m-206 1h1m232 0h1m-212 1h1m23 0h1m85 0h1m62 0h1m-289 1h1m105 0h1m258 0h1m40 0h1m30 0h1m5 0h1m-419 1h1m0 0h1m19 0h1m186 0h1m105 0h1m55 0h1m-384 1h1m183 0h1m31 0h1m13 0h1m32 0h1m66 0h1m22 0h1m13 0h1m29 0h1m19 0h1m-376 1h1m123 0h1m137 0h1m96 0h1m-469 1h1m54 0h1m142 0h1m15 0h1m21 0h1m101 0h1m21 0h1m107 0h1m0 0h1m12 0h1m-287 1h1m223 0h1m-379 1h1m75 0h1m99 0h1m3 0h1m46 0h1m123 0h1m22 0h1m1 0h1m0 0h1m26 0h1m35 0h1m2 0h1m-359 1h1m60 0h1m287 0h1m12 0h1m-71 1h1m32 0h1m15 0h1m-468 1h1m207 0h1m87 0h1m153 0h1m23 0h1m14 0h1m0 0h1m3 0h1m-490 1h1m11 0h1m68 0h1m302 0h1m92 0h1m-36 1h1m2 0h1m18 0h1m-462 1h1m173 0h1m106 0h1m150 0h1m-455 1h1m11 0h1m71 0h1m57 0h1m231 0h1m72 0h1m34 0h1m22 0h1m-189 1h1m119 0h1m35 0h1m0 0h1m29 0h1m-375 1h1m356 0h1m8 0h1m-69 1h1m45 0h1m4 0h1m-375 1h1m124 0h1m197 0h1m9 0h1m-330 1h1m307 0h1m4 0h1m-384 1h1m64 0h1m66 0h1m244 0h1m8 0h1m84 0h1m-484 1h1m83 0h1m68 0h1m91 0h1m153 0h1m26 0h1m-390 1h1m375 0h1m9 0h1m9 0h1m6 0h1m-440 1h1m64 0h1m340 0h1m20 0h1m8 0h1m-485 1h1m43 0h1m73 0h1m203 0h1m131 0h1m30 0h1m13 1h1m-462 1h1m32 0h1m16 0h1m40 0h1m16 0h1m69 0h1m58 0h1m153 0h1m57 0h1m36 0h1m-443 1h1m52 0h1m110 0h1m145 0h1m39 0h1m23 0h1m-398 1h1m23 0h1m187 0h1m172 0h1m3 0h1m-414 1h1m56 0h1m29 0h1m216 1h1m34 0h1m-197 1h1m255 0h1m1 0h1m16 0h1m47 0h1m-462 1h1m22 0h1m433 0h1m36 0h1m-134 1h1m57 0h1m46 0h1m-446 1h1m45 0h1m56 0h1m141 0h1m125 0h1m3 0h1m17 0h1m47 0h1m19 0h1m-166 1h1m16 0h1m0 0h1m94 0h1m23 0h1m42 0h1m-463 1h1m288 0h1m28 0h1m35 0h1m21 0h1m23 0h1m-464 1h1m144 0h1m275 0h1m1 0h1m16 0h1m38 0h1m18 0h1m-448 1h1m62 0h1m33 0h1m43 0h1m226 0h1m41 0h1m1 0h1m1 0h1m-96 1h1m42 0h1m72 0h1m20 0h1m-464 1h1m87 0h1m208 0h1m3 0h1m54 0h1m93 0h1m-506 1h1m16 0h1m23 0h1m127 0h1m4 0h1m43 0h1m5 0h1m189 0h1m17 0h1m-289 1h1m65 0h1m144 0h1m127 0h1m-437 1h1m305 0h1m10 0h1m15 0h1m89 0h1m42 0h1m-478 1h1m321 0h1m100 0h1m13 0h1m52 0h1m10 0h1m-458 1h1m64 0h1m124 1h1m159 0h1m97 0h1m-389 1h1m13 0h1m299 0h1m75 0h1m-516 1h1m126 0h1m30 0h1m-141 1h1m143 0h1m141 0h1m42 0h1m87 0h1m-282 1h1m114 0h1m16 0h1m-100 1h1m97 0h1m51 0h1m65 0h1m103 0h1m-373 1h1m333 0h1m3 0h1m-471 1h1m119 0h1m298 0h1m27 0h1m-8 1h1m11 0h1m67 0h1m-531 1h1m305 0h1m94 0h1m17 0h1m-368 1h1m349 0h1m19 0h1m-244 1h1m92 0h1m20 0h1m140 0h1m18 0h1m11 0h1m37 0h1m-404 1h1m58 0h1m53 0h1m41 0h1m13 0h1m44 0h1m151 0h1m37 0h1m-447 1h1m177 0h1m16 0h1m249 0h1m-401 1h1m51 0h1m202 0h1m86 0h1m-425 1h1m251 0h1m2 0h1m39 0h1m86 0h1m15 0h1m81 1h1m-314 1h1m108 0h1m130 0h1m89 0h1m-466 1h1m91 0h1m69 0h1m193 0h1m34 0h1m17 0h1m35 0h1m-329 1h1m309 0h1m-300 1h1m75 0h1m53 0h1m126 0h1m3 0h1m67 0h1m-380 1h1m167 0h1m209 0h1m-389 2h1m19 0h1m251 0h1m26 0h1m-322 1h1m229 0h1m-339 1h1m23 0h1m419 0h1m7 0h1m28 0h1m-274 1h1m194 0h1m58 0h1m-160 1h1m8 0h1m15 0h1m3 0h1m59 0h1m67 0h1m10 0h1m9 0h1m10 0h1m-435 1h1m27 0h1m413 0h1m-357 1h1m21 0h1m18 0h1m27 1h1m91 0h1m74 0h1m127 0h1m18 0h1m-503 1h1m50 0h1m40 0h1m13 0h1m25 0h1m159 0h1m6 0h1m124 0h1m14 0h1m28 0h1m-386 1h1m40 0h1m146 0h1m-169 1h1m55 0h1m20 0h1m21 0h1m32 0h1m104 0h1m-190 1h1m60 0h1m36 0h1m81 0h1m-201 1h1m96 0h1m94 0h1m100 0h1m-293 1h1m137 0h1m-138 1h1m226 0h1m87 0h1m-265 1h1m13 0h1m165 0h1m97 0h1m-379 1h1m195 0h1m87 0h1m74 0h1m5 0h1m28 0h1m-342 1h1m220 0h1m99 0h1m-468 1h1m81 0h1m288 0h1m71 0h1m27 0h1m15 0h1m16 0h1m-39 1h1m31 0h1m-449 1h1m0 0h1m38 0h1m8 0h1m60 0h1m238 1h1m-378 1h1m20 0h1m183 0h1m133 0h1m12 0h1m92 0h1m31 0h1m-375 1h1m197 0h1m189 0h1m-278 1h1m128 0h1m116 0h1m1 0h1m-486 1h1m54 0h1m21 0h1m251 0h1m171 0h1m-445 1h1m31 0h1m148 0h1m257 0h1m-470 1h1m248 0h1m198 0h1m-88 1h1m14 0h1m-379 1h1m104 0h1m262 0h1m81 0h1m-338 1h1m8 0h1m20 0h1m8 0h1m-87 1h1m36 0h1m91 0h1m104 0h1m118 0h1m16 0h1m3 0h1m13 0h1m10 0h1m-427 1h1m301 0h1m105 0h1m10 0h1m-384 1h1m138 0h1m129 0h1m140 0h1m-204 1h1m-264 1h1m90 0h1m279 0h1m109 0h1m-541 1h1m46 0h1m194 0h1m30 0h1m10 0h1m25 0h1m135 0h1m-289 1h1m84 0h1m268 0h1m-178 1h1m159 0h1m-486 1h1m67 0h1m41 0h1m50 0h1m295 0h1m-428 1h1m47 0h1m21 0h1m162 0h1m30 0h1m116 0h1m-383 1h1m77 0h1m334 0h1m6 0h1m15 0h1m3 0h1m-418 1h1m162 0h1m34 0h1m13 0h1m86 0h1m6 0h1m6 0h1m9 0h1m93 0h1m-400 1h1m134 0h1m64 0h1m24 0h1m183 0h1m-448 1h1m115 0h1m9 0h1m102 0h1m237 0h1m-378 1h1m18 0h1m161 0h1m-277 1h1m2 0h1m310 0h1m36 0h1m73 0h1m65 0h1m-31 1h1m22 0h1m-406 1h1m63 0h1m79 1h1m105 0h1m59 0h1m80 0h1m-251 1h1m31 0h1m76 0h1m68 0h1m91 0h1m-361 1h1m53 0h1m198 0h1m50 0h1m31 0h1m-259 1h1m224 0h1m1 1h1m-354 1h1m84 0h1m135 0h1m149 0h1m-440 1h1m329 0h1m68 0h1m21 0h1m43 0h1m-506 1h1m10 0h1m394 0h1m76 0h1m24 0h1m-131 1h1m126 0h1m-366 1h1m158 0h1m83 0h1m121 0h1m-518 1h1m109 0h1m38 0h1m36 0h1m32 0h1m146 0h1m126 0h1m-466 1h1m444 0h1m-410 1h1m152 0h1m44 0h1m11 0h1m202 0h1m10 0h1m-350 1h1m158 0h1m37 0h1m65 0h1m43 0h1m-192 1h1m-72 1h1m39 0h1m264 0h1m38 0h1m-521 1h1m419 0h1m13 0h1m-439 1h1m92 0h1m71 0h1m261 0h1m31 0h1m-382 1h1m198 0h1m56 0h1m70 0h1m99 0h1m-420 1h1m383 0h1m18 0h1m44 0h1m-478 1h1m30 0h1m163 0h1m153 0h1m93 0h1m10 0h1m22 0h1m-143 1h1m106 0h1m-214 1h1m23 0h1m72 0h1m22 0h1m-266 1h1m42 0h1m82 0h1m29 0h1m34 0h1m134 0h1m-461 1h1m155 0h1m83 0h1m200 0h1m42 0h1m-98 1h1m-387 1h1m66 0h1m15 0h1m195 0h1m94 0h1m24 0h1m103 0h1m8 0h1m-389 1h1m311 0h1m39 0h1m-451 1h1m380 0h1m38 0h1m39 0h1m32 0h1m-492 1h1m47 0h1m300 0h1m25 0h1m88 0h1m17 0h1m6 0h1m-509 1h1m1 0h1m59 0h1m46 0h1m82 0h1m161 0h1m125 0h1m-387 1h1m331 0h1m9 0h1m55 0h1m3 0h1m-184 1h1m17 0h1m8 0h1m2 0h1m50 0h1m20 0h1m-278 1h1m63 0h1m44 0h1m38 0h1m20 0h1m33 0h1m1 0h1m147 0h1m-469 1h1m33 0h1m222 0h1m158 0h1m-413 1h1m35 0h1m456 0h1m-495 1h1m100 0h1m19 0h1m7 0h1m33 0h1m50 0h1m59 0h1m30 0h1m6 0h1m19 0h1m-238 1h1m55 0h1m22 0h1m260 0h1m15 0h1m-269 1h1m100 0h1m-332 1h1m138 0h1m53 0h1m21 0h1m285 0h1m5 1h1m-492 1h1m259 0h1m129 0h1m127 0h1m3 0h1m-436 1h1m121 0h1m126 0h1m-349 1h1m7 0h1m202 0h1m67 0h1m84 0h1m135 0h1m12 0h1m-235 1h1m15 0h1m57 0h1m11 0h1m86 0h1m-184 1h1m-258 1h1m56 0h1m35 0h1m5 0h1m343 0h1m59 0h1m11 0h1m-257 1h1m32 0h1m38 0h1m21 0h1m151 0h1m-496 1h1m53 0h1m222 0h1m3 0h1m70 0h1m100 1h1m-258 1h1m114 0h1m-194 1h1m181 0h1m142 0h1m-457 1h1m21 0h1m134 0h1m18 0h1m56 0h1m216 0h1m12 0h1m-394 1h1m157 0h1m83 0h1m123 0h1m-441 1h1m17 0h1m269 0h1m227 0h1m-447 1h1m37 0h1m5 0h1m298 0h1m98 0h1m-64 1h1m56 0h1m-493 1h1m45 0h1m108 0h1m117 0h1m59 0h1m116 0h1m-444 1h1m47 0h1m335 0h1m-362 1h1m116 0h1m48 0h1m12 0h1m95 0h1m88 0h1m39 0h1m-406 1h1m25 0h1m3 0h1m10 0h1m112 0h1m49 0h1m89 0h1m80 0h1m-256 1h1m282 0h1m40 0h1m-257 1h1m152 0h1m26 0h1m3 0h1m50 0h1m40 0h1m-396 1h1m82 0h1m111 0h1m101 0h1m99 0h1m5 0h1m-472 1h1m176 0h1m21 0h1m277 0h1m-376 1h1m90 0h1m54 0h1m56 0h1m-276 1h1m91 0h1m92 0h1m141 0h1m53 0h1m39 0h1m-413 1h1m103 0h1m126 0h1m165 0h1m-481 1h1m154 0h1m24 0h1m112 0h1m189 0h1m22 0h1m9 0h1m-355 1h1m170 0h1m122 0h1m72 0h1m-434 1h1m26 0h1m191 0h1m0 0h1m27 0h1m166 0h1m-509 1h1m201 0h1m72 0h1m85 0h1m-177 1h1m96 0h1m43 0h1m110 0h1m29 0h1m15 0h1m42 0h1m-517 1h1m108 0h1m55 0h1m46 0h1m63 0h1m117 0h1m111 0h1m-491 1h1m291 0h1m43 0h1m19 0h1m64 0h1m36 0h1m-169 1h1m99 0h1m27 0h1m-446 1h1m71 0h1m32 0h1m13 0h1m308 0h1m-427 1h1m49 0h1m97 0h1m53 0h1m136 0h1m-188 1h1m144 0h1m177 0h1m51 0h1m-269 1h1m161 0h1m8 0h1m-403 1h1m118 0h1m35 0h1m227 0h1m68 0h1m10 0h1m-390 1h1m209 0h1m182 0h1m3 0h1m1 0h1m-465 1h1m130 1h1m138 0h1m66 0h1m-292 1h1m269 0h1m-305 1h1m48 0h1m78 0h1m-105 1h1m185 0h1m169 1h1m64 0h1m27 0h1m-428 1h1m306 0h1m-214 1h1m200 0h1m18 0h1m-420 1h1m160 0h1m143 0h1m-174 1h1m93 0h1m114 0h1m18 0h1m103 0h1m8 0h1m22 0h1m-140 1h1m81 0h1m57 0h1m-367 1h1m78 0h1m44 0h1m9 1h1m131 0h1m67 0h1m-299 1h1m32 0h1m152 0h1m129 0h1m-447 1h1m154 0h1m57 0h1m13 0h1m2 0h1m0 0h1m8 0h1m228 0h1m-419 1h1m206 0h1m28 0h1m26 0h1m6 0h1m161 0h1m1 0h1m-480 1h1m290 0h1m112 0h1m-408 2h1m332 0h1m112 0h1m-368 1h1m23 0h1m78 0h1m86 0h1m148 0h1m-315 1h1m49 0h1m10 0h1m10 0h1m-219 1h1m79 0h1m225 0h1m94 0h1m13 0h1m32 0h1m-444 1h1m74 0h1m24 0h1m11 0h1m88 0h1m38 0h1m6 0h1m21 0h1m29 0h1m86 0h1m103 0h1m3 0h1m38 0h1m-525 1h1m98 0h1m40 0h1m20 0h1m73 0h1m3 0h1m250 0h1m-473 1h1m278 0h1m35 0h1m177 0h1m-452 1h1m62 0h1m221 0h1m7 0h1m70 0h1m47 0h1m50 0h1m-431 1h1m36 0h1m326 0h1m5 0h1m-446 1h1m17 1h1m50 0h1m333 1h1m69 0h1m-393 1h1m71 0h1m23 0h1m207 0h1m-349 1h1m111 0h1m135 0h1m69 0h1m-213 1h1m63 0h1m35 0h1"/>
<path stroke="rgb(178,178,178)" stroke-width="1" d="M116 70.5h1m292 1h1m-13 1h1m-207 2h1m58 0h1m-135 1h1m143 0h1m-120 1h1m196 0h1m47 1h1m16 0h1m-159 1h1m201 0h1m-36 1h1m-200 1h1m164 0h1m-211 1h1m-62 3h1m175 1h1m82 0h1m-174 2h1m114 0h1m1 1h1m-56 1h1m329 0h1m-439 1h1m26 0h1m-42 1h1m213 0h1m3 0h1m-220 1h1m377 0h1m-431 1h1m360 0h1m76 1h1m-261 1h1m-82 1h1m124 4h1m-176 2h1m253 0h1m-83 1h1m-29 1h1m-157 1h1m139 0h1m-91 1h1m393 1h1m-173 2h1m175 0h1m-280 1h1m65 0h1m28 0h1m-80 1h1m-222 1h1m118 0h1m10 5h1m-92 1h1m169 0h1m12 1h1m10 0h1m158 0h1m-343 1h1m97 0h1m-36 1h1m81 0h1m-159 1h1m17 2h1m224 0h1m140 0h1m-385 2h1m217 0h1m175 0h1m-259 1h1m287 0h1m-178 2h1m59 2h1m10 0h1m-16 1h1m-245 1h1m181 0h1m-5 2h1m-167 1h1m19 0h1m98 0h1m-116 1h1m-75 2h1m-7 2h1m222 0h1m-13 1h1m-196 1h1m116 0h1m-22 1h1m-9 1h1m188 0h1m-14 1h1m-166 1h1m58 2h1m174 0h1m-76 2h1m-271 2h1m139 0h1m23 0h1m317 2h1m-349 1h1m53 0h1m-57 2h1m98 1h1m-278 2h1m247 0h1m109 0h1m-301 1h1m142 1h1m46 0h1m102 0h1m-120 1h1m80 0h1m123 0h1m-182 1h1m64 0h1m69 0h1m39 0h1m-409 1h1m134 0h1m-99 1h1m284 0h1m153 0h1m-228 1h1m-81 1h1m158 0h1m85 0h1m-109 1h1m-312 1h1m111 0h1m61 0h1m111 1h1m-110 1h1m72 1h1m49 0h1m2 0h1m-301 1h1m261 1h1m101 0h1m-282 1h1m21 0h1m121 0h1m-75 1h1m148 0h1m-107 1h1m36 0h1m15 0h1m23 0h1m116 1h1m82 0h1m-391 1h1m69 1h1m126 0h1m-77 1h1m28 0h1m-123 1h1m155 0h1m47 0h1m-314 1h1m-18 1h1m284 0h1m26 0h1m-301 1h1m300 0h1m-267 1h1m206 0h1m-12 1h1m82 1h1m25 1h1m-282 1h1m8 0h1m1 1h1m212 0h1m194 0h1m-192 1h1m81 0h1m65 0h1m-239 1h1m47 0h1m-36 1h1m29 0h1m222 0h1m-427 1h1m-4 1h1m319 0h1m75 0h1m-218 3h1m156 0h1m-102 1h1m63 1h1m24 0h1m116 0h1m-389 2h1m132 0h1m0 0h1m27 0h1m149 1h1m-175 2h1m201 0h1m-188 2h1m87 0h1m-273 1h1m303 0h1m-267 1h1m79 0h1m140 1h1m60 0h1m49 0h1m-403 1h1m490 0h1m-212 1h1m7 0h1m13 1h1m7 0h1m-54 1h1m47 0h1m50 0h1m-316 1h1m263 0h1m-210 1h1m215 0h1m30 0h1m0 0h1m58 0h1m-363 2h1m444 0h1m-255 1h1m46 0h1m4 0h1m76 0h1m-354 1h1m256 0h1m219 0h1m-272 1h1m4 0h1m116 0h1m1 0h1m0 0h1m-18 1h1m-350 1h1m83 0h1m252 0h1m30 0h1m53 0h1m-93 2h1m3 0h1m29 0h1m51 0h1m-102 1h1m15 0h1m30 0h1m125 0h1m-127 1h1m37 0h1m-48 1h1m99 0h1m-360 2h1m313 0h1m30 0h1m-367 1h1m267 0h1m33 0h1m15 0h1m-55 1h1m106 0h1m-294 1h1m209 0h1m-156 2h1m101 0h1m30 0h1m25 0h1m39 0h1m-99 1h1m37 0h1m-4 1h1m5 0h1m17 0h1m-79 1h1m-265 1h1m186 0h1m71 0h1m53 0h1m85 0h1m-411 1h1m421 0h1m-196 1h1m146 0h1m-33 1h1m-222 1h1m104 0h1m17 0h1m88 0h1m22 1h1m-17 1h1m18 0h1m15 0h1m114 1h1m-265 1h1m48 0h1m84 0h1m26 0h1m92 0h1m-346 1h1m129 0h1m58 0h1m-142 1h1m25 0h1m104 0h1m69 0h1m-152 1h1m80 0h1m6 0h1m-219 1h1m45 0h1m221 0h1m5 0h1m-108 1h1m-13 1h1m27 0h1m33 0h1m12 0h1m28 0h1m7 0h1m38 1h1m-413 1h1m41 0h1m28 0h1m220 0h1m8 0h1m32 0h1m15 0h1m88 0h1m43 0h1m-375 1h1m139 0h1m40 0h1m110 1h1m37 0h1m14 0h1m1 0h1m-215 1h1m41 0h1m85 0h1m126 0h1m-428 1h1m105 0h1m80 0h1m141 0h1m12 0h1m-419 1h1m74 0h1m63 0h1m-31 1h1m68 0h1m141 0h1m14 0h1m15 2h1m-62 1h1m130 0h1m-431 1h1m114 0h1m232 0h1m6 0h1m118 0h1m-27 2h1m30 0h1m-168 1h1m15 0h1m30 0h1m129 0h1m-344 2h1m223 1h1m29 0h1m34 0h1m29 1h1m-464 1h1m175 0h1m248 0h1m-226 2h1m298 0h1m-389 1h1m60 0h1m247 0h1m16 0h1m11 0h1m-116 2h1m80 0h1m-386 1h1m72 0h1m239 0h1m75 0h1m20 1h1m-291 2h1m161 0h1m1 0h1m162 0h1m-414 1h1m249 0h1m37 0h1m2 0h1m5 0h1m3 0h1m105 0h1m-173 1h1m104 0h1m-55 1h1m84 0h1m-339 1h1m310 0h1m-384 1h1m66 0h1m257 0h1m3 0h1m80 0h1m-210 1h1m71 0h1m35 0h1m67 0h1m-234 1h1m52 0h1m-29 1h1m83 0h1m117 0h1m35 0h1m49 0h1m-123 1h1m104 0h1m-244 1h1m146 1h1m-301 1h1m234 1h1m68 0h1m-288 1h1m108 0h1m221 0h1m13 1h1m-145 1h1m160 1h1m-320 1h1m92 0h1m-146 1h1m-44 1h1m182 0h1m135 0h1m140 0h1m-118 1h1m142 0h1m-421 1h1m96 0h1m142 1h1m16 0h1m-58 1h1m-14 1h1m40 0h1m63 0h1m-253 1h1m-28 1h1m246 0h1m-48 1h1m16 0h1m30 1h1m51 0h1m-226 1h1m61 0h1m121 0h1m61 0h1m39 0h1m-257 1h1m128 0h1m44 0h1m21 0h1m70 0h1m-301 1h1m157 0h1m18 0h1m41 0h1m67 0h1m-294 1h1m138 1h1m132 0h1m3 0h1m-24 1h1m83 0h1m-317 1h1m58 0h1m84 0h1m25 0h1m0 0h1m-296 1h1m30 0h1m289 0h1m71 0h1m-4 1h1m46 0h1m-364 1h1m102 1h1m182 0h1m22 0h1m45 0h1m-175 1h1m119 0h1m16 0h1m-389 1h1m18 0h1m312 0h1m16 0h1m47 0h1m-57 1h1m-144 1h1m-148 3h1m139 0h1m155 0h1m-359 1h1m164 2h1m32 0h1m167 0h1m57 0h1m-88 1h1m-67 2h1m-134 1h1m15 0h1m28 0h1m239 0h1m4 0h1m-50 1h1m13 0h1m-193 2h1m115 1h1m0 1h1m104 0h1m-409 2h1m197 0h1m189 0h1m-56 1h1m71 0h1m-115 1h1m115 0h1m-134 1h1m-272 1h1m231 0h1m87 0h1m48 0h1m19 1h1m-227 1h1m242 0h1m-57 1h1m-111 1h1m49 0h1m39 0h1m70 0h1m20 0h1m-358 1h1m280 1h1m8 0h1m35 0h1m-476 1h1m8 0h1m60 0h1m346 1h1m-250 1h1m185 0h1m123 0h1m-489 1h1m326 0h1m87 0h1m30 0h1m10 0h1m-381 1h1m124 0h1m55 0h1m-64 1h1m116 0h1m104 0h1m73 0h1m1 0h1m-90 1h1m49 0h1m-280 2h1m26 0h1m220 0h1m27 0h1m-211 1h1m174 0h1m75 0h1m-96 2h1m7 0h1m95 0h1m-359 1h1m146 0h1m1 0h1m102 0h1m67 0h1m-342 1h1m2 0h1m179 0h1m178 0h1m-348 1h1m380 0h1m-520 1h1m384 0h1m77 0h1m-285 1h1m308 0h1m6 0h1m-420 1h1m134 0h1m138 0h1m59 0h1m52 1h1m25 0h1m-157 1h1m131 0h1m-430 3h1m396 0h1m11 0h1m40 1h1m15 0h1m-292 1h1m257 0h1m-231 1h1m23 0h1m190 0h1m-49 1h1m98 1h1m-53 1h1m65 0h1m-366 1h1m-46 1h1m67 0h1m258 0h1m-392 1h1m43 0h1m358 0h1m17 0h1m0 0h1m-333 1h1m362 0h1m17 0h1m-414 1h1m429 0h1m-181 2h1m99 0h1m-390 1h1m39 0h1m252 0h1m95 0h1m13 0h1m64 0h1m-76 1h1m-9 1h1m22 0h1m-463 1h1m184 1h1m221 0h1m33 0h1m-136 2h1m220 0h1m-419 1h1m-59 1h1m282 0h1m54 0h1m59 0h1m32 0h1m-329 2h1m257 0h1m35 0h1m-11 1h1m34 1h1m28 0h1m-462 1h1m374 0h1m84 0h1m-309 1h1m314 0h1m6 0h1m-418 1h1m265 0h1m38 0h1m62 1h1m-112 1h1m74 1h1m13 0h1m30 0h1m9 0h1m38 0h1m-513 1h1m76 0h1m297 0h1m-326 1h1m218 0h1m68 0h1m-298 1h1m406 0h1m35 2h1m-171 1h1m193 0h1m-325 1h1m256 0h1m40 0h1m-466 1h1m221 0h1m256 0h1m-464 2h1m25 0h1m367 0h1m-427 1h1m55 0h1m440 0h1m-267 1h1m178 0h1m89 0h1m-123 1h1m114 0h1m-469 1h1m399 0h1m-401 1h1m22 0h1m426 0h1m-337 1h1m5 1h1m180 0h1m-271 1h1m149 0h1m-41 1h1m223 1h1m62 0h1m41 0h1m-311 1h1m68 0h1m218 0h1m-458 1h1m438 0h1m13 0h1m-43 2h1m37 0h1m-350 1h1m-126 1h1m39 1h1m452 0h1m-242 1h1m184 0h1m45 1h1m-348 1h1m181 0h1m126 0h1m42 0h1m-460 1h1m129 0h1m24 0h1m293 0h1m16 0h1m11 0h1m-77 1h1m5 0h1m-280 2h1m53 0h1m107 0h1m-281 1h1m280 0h1m114 0h1m32 0h1m-175 1h1m56 2h1m127 1h1m0 0h1m-334 1h1m-152 1h1m167 1h1m-116 1h1m262 0h1m-205 1h1m55 0h1m109 0h1m120 0h1m49 0h1m1 0h1m63 0h1m-489 1h1m397 1h1m-414 1h1m175 0h1m280 1h1m-346 1h1m287 0h1m27 0h1m20 0h1m-466 1h1m304 0h1m88 0h1m-218 1h1m204 0h1m-264 1h1m142 0h1m83 0h1m122 0h1m56 0h1m-500 1h1m211 0h1m171 0h1m-265 1h1m130 0h1m148 0h1m96 0h1m-517 1h1m390 0h1m-379 1h1m65 0h1m74 0h1m-126 1h1m147 0h1m183 0h1m143 0h1m-305 1h1m90 0h1m-174 1h1m192 0h1m-295 1h1m426 0h1m-316 1h1m191 0h1m194 0h1m-281 1h1m216 0h1m66 0h1m-429 1h1m181 0h1m-71 2h1m308 0h1m-469 2h1m201 0h1m18 0h1m200 0h1m21 0h1m-17 3h1m9 0h1m-131 1h1m10 0h1m134 1h1m-391 1h1m182 0h1m66 0h1m-319 1h1m31 0h1m46 0h1m8 0h1m150 0h1m76 0h1m80 0h1m75 0h1m-130 1h1m-321 1h1m345 0h1m24 0h1m27 0h1m-441 1h1m133 0h1m56 0h1m-135 3h1m285 0h1m82 1h1m-178 1h1m184 0h1m42 0h1m-9 1h1m-482 1h1m160 0h1m168 0h1m66 0h1m53 1h1m38 0h1m8 0h1m-210 1h1m194 0h1m-23 1h1m5 0h1m-301 1h1m200 0h1m76 1h1m-273 1h1m71 1h1m29 0h1m2 0h1m170 0h1m-169 2h1m179 0h1m-439 1h1m445 0h1m-352 1h1m365 0h1m-256 1h1m191 0h1m-327 1h1m71 0h1m50 0h1m241 0h1m-334 1h1m-146 1h1m223 0h1m-112 1h1m293 0h1m-366 1h1m205 0h1m-162 1h1m219 1h1m136 0h1m-371 1h1m145 0h1m223 0h1m21 0h1m44 0h1m-504 1h1m383 0h1m109 1h1m-69 1h1m41 0h1m-80 1h1m101 0h1m-461 1h1m141 0h1m5 0h1m-163 1h1m475 1h1m-245 1h1m205 0h1m20 0h1m8 1h1m-328 1h1m72 0h1m-60 1h1m340 0h1m-531 1h1m260 0h1m18 0h1m-206 1h1m14 0h1m102 1h1m82 0h1m-131 1h1m56 0h1m191 1h1m31 0h1m103 1h1m-166 2h1m-188 1h1m192 0h1m-39 1h1m-214 2h1m354 0h1m-120 1h1m78 0h1m-206 1h1m-138 1h1m400 0h1m-483 1h1m21 1h1m95 0h1m-7 3h1m100 1h1m170 0h1m73 0h1m8 1h1m-291 3h1m189 0h1m-362 1h1m296 1h1m201 0h1m-352 1h1m-87 2h1m73 0h1m108 0h1m15 0h1m225 0h1m2 0h1m-354 1h1m273 0h1m54 0h1m-452 2h1m248 0h1m208 0h1m-297 1h1m33 3h1m258 0h1m-365 1h1m0 0h1m-115 1h1m155 1h1m75 0h1m87 0h1m-36 1h1m12 1h1m31 0h1m15 0h1m-191 1h1m297 0h1m-7 1h1m10 0h1m46 2h1m-72 1h1m36 0h1m1 2h1m-352 1h1m287 0h1m-248 1h1m210 0h1m63 1h1m-270 1h1m118 0h1m11 0h1m121 0h1m30 1h1m-473 1h1m317 0h1m203 0h1m-385 1h1m382 2h1m-3 2h1m-438 1h1m85 0h1m178 0h1m9 0h1m136 0h1m-471 1h1m146 0h1m45 0h1m2 0h1m82 3h1m226 0h1m-27 2h1m-454 1h1m100 1h1m122 2h1m39 0h1m44 0h1m-264 2h1m10 0h1m405 0h1m-470 1h1m113 0h1m91 1h1m-75 1h1m84 0h1m135 0h1m116 0h1m-506 1h1m452 0h1m-187 1h1m133 0h1m97 0h1m11 0h1m-392 1h1m172 0h1m-147 1h1m63 0h1m314 0h1m-467 2h1m24 0h1m387 1h1m26 0h1m18 0h1m-488 1h1"/>
<path stroke="rgb(165,165,165)" stroke-width="1" d="M333 70.5h1m-69 3h1m120 0h1m-244 2h1m222 0h1m-234 2h1m3 0h1m-41 1h1m12 1h1m145 0h1m129 3h1m-105 1h1m-128 3h1m156 0h1m-72 1h1m-6 3h1m-166 2h1m261 0h1m-114 1h1m261 0h1m-30 1h1m34 0h1m-234 1h1m110 0h1m134 0h1m-354 2h1m48 0h1m40 0h1m-166 1h1m376 0h1m-246 1h1m139 0h1m117 0h1m-326 2h1m78 0h1m107 0h1m32 0h1m-14 1h1m26 1h1m128 0h1m-165 1h1m114 0h1m-106 2h1m156 0h1m-145 1h1m2 0h1m-274 1h1m113 0h1m191 0h1m6 1h1m82 0h1m-350 1h1m98 0h1m68 0h1m132 0h1m-298 1h1m244 0h1m-96 1h1m-133 1h1m314 0h1m-206 1h1m99 0h1m7 1h1m-232 2h1m443 0h1m-461 1h1m175 1h1m-61 1h1m63 1h1m-8 1h1m8 0h1m-232 1h1m233 0h1m-118 1h1m19 0h1m189 0h1m-306 1h1m29 0h1m327 0h1m-184 1h1m-179 2h1m159 1h1m270 1h1m-259 2h1m244 1h1m-395 1h1m42 0h1m139 1h1m37 0h1m-258 1h1m89 0h1m215 0h1m127 0h1m-162 1h1m-246 2h1m293 2h1m95 0h1m17 0h1m-225 1h1m51 1h1m-149 2h1m28 0h1m63 1h1m-110 1h1m248 0h1m-291 1h1m155 1h1m44 1h1m103 0h1m-323 1h1m186 4h1m177 0h1m-99 1h1m57 1h1m-149 2h1m-199 1h1m137 0h1m-22 2h1m69 1h1m206 0h1m-275 4h1m71 0h1m67 0h1m83 0h1m-43 3h1m4 0h1m-186 1h1m187 0h1m-290 2h1m420 0h1m-326 1h1m203 0h1m-202 1h1m134 1h1m-27 1h1m164 0h1m-149 1h1m8 2h1m55 1h1m-290 1h1m214 1h1m15 0h1m-290 1h1m342 0h1m119 0h1m-361 2h1m147 0h1m178 0h1m-115 2h1m-96 1h1m17 0h1m39 0h1m110 0h1m-174 1h1m90 0h1m81 1h1m-86 2h1m-40 1h1m41 0h1m-41 1h1m-60 1h1m102 1h1m-59 1h1m28 0h1m-7 1h1m-74 2h1m-175 1h1m261 0h1m12 0h1m55 0h1m56 1h1m-401 1h1m202 1h1m240 0h1m-98 1h1m-48 1h1m-29 1h1m97 0h1m20 0h1m64 1h1m-140 1h1m2 0h1m26 0h1m-327 1h1m45 0h1m67 0h1m38 0h1m-145 1h1m25 0h1m189 0h1m112 0h1m-253 1h1m103 0h1m219 0h1m-449 1h1m76 0h1m294 0h1m0 0h1m29 1h1m-358 1h1m188 0h1m71 1h1m76 0h1m-80 1h1m15 0h1m89 0h1m-32 1h1m27 0h1m-59 1h1m-34 1h1m164 0h1m-141 1h1m28 0h1m58 0h1m-389 1h1m119 1h1m154 0h1m8 0h1m95 0h1m21 1h1m-351 1h1m185 0h1m56 1h1m31 1h1m-132 1h1m-61 2h1m170 0h1m15 0h1m-283 1h1m97 0h1m206 0h1m100 0h1m11 0h1m34 0h1m-210 1h1m90 0h1m-136 1h1m126 0h1m71 0h1m-265 2h1m-204 1h1m283 0h1m44 0h1m9 1h1m83 0h1m-395 1h1m273 0h1m-289 1h1m397 0h1m-258 1h1m99 0h1m-257 1h1m23 0h1m112 0h1m135 0h1m30 0h1m12 0h1m27 0h1m42 1h1m-126 1h1m-34 1h1m62 0h1m38 0h1m100 0h1m65 0h1m-259 2h1m58 0h1m122 0h1m-421 1h1m8 0h1m351 0h1m106 0h1m-353 1h1m32 0h1m280 0h1m37 0h1m-113 1h1m-306 1h1m66 0h1m129 1h1m52 0h1m12 0h1m123 0h1m50 0h1m-464 2h1m277 0h1m88 0h1m24 0h1m6 1h1m36 0h1m18 0h1m-164 1h1m28 0h1m15 1h1m71 0h1m-333 1h1m22 0h1m4 0h1m215 0h1m21 1h1m-6 1h1m10 0h1m-369 1h1m352 0h1m-61 1h1m69 0h1m-134 1h1m100 0h1m84 0h1m-219 2h1m-89 1h1m271 0h1m-386 1h1m31 0h1m283 0h1m-342 1h1m24 0h1m74 0h1m280 0h1m61 0h1m-73 1h1m30 0h1m-403 1h1m374 1h1m-338 2h1m306 0h1m66 0h1m16 0h1m-419 1h1m228 0h1m11 0h1m50 0h1m130 0h1m-72 1h1m-19 1h1m11 0h1m3 0h1m-292 1h1m65 0h1m249 0h1m123 0h1m-85 1h1m-423 2h1m438 0h1m22 1h1m-381 1h1m314 0h1m7 1h1m13 0h1m-401 1h1m205 0h1m122 0h1m49 0h1m0 0h1m1 0h1m15 0h1m31 0h1m-38 1h1m21 0h1m-405 1h1m270 0h1m79 0h1m68 0h1m43 0h1m-470 1h1m207 0h1m143 0h1m-283 1h1m29 0h1m213 0h1m-253 3h1m103 1h1m49 0h1m6 0h1m122 0h1m57 0h1m38 0h1m5 0h1m25 0h1m-124 1h1m6 0h1m-115 1h1m98 0h1m25 0h1m-378 1h1m73 0h1m298 0h1m10 0h1m38 0h1m71 0h1m-134 1h1m12 0h1m-8 1h1m8 0h1m-154 1h1m-217 1h1m322 0h1m5 0h1m86 0h1m18 1h1m32 0h1m7 1h1m-474 1h1m412 0h1m-390 1h1m78 0h1m44 1h1m293 0h1m-256 1h1m161 0h1m-252 1h1m16 0h1m90 0h1m37 0h1m75 0h1m64 0h1m-77 2h1m45 1h1m-26 1h1m28 0h1m88 0h1m-292 1h1m11 0h1m11 0h1m249 0h1m20 0h1m-314 1h1m219 0h1m34 0h1m-187 1h1m134 0h1m10 0h1m46 0h1m1 0h1m8 1h1m33 0h1m-163 1h1m159 0h1m56 0h1m-302 1h1m65 0h1m155 0h1m57 1h1m-173 1h1m116 0h1m-192 4h1m-170 1h1m52 0h1m355 0h1m-293 1h1m2 0h1m17 0h1m36 0h1m164 0h1m30 0h1m-92 1h1m41 1h1m34 0h1m36 0h1m-80 2h1m-336 1h1m381 0h1m51 0h1m-317 1h1m204 0h1m20 0h1m10 0h1m26 0h1m10 1h1m15 0h1m-289 1h1m115 0h1m27 0h1m157 0h1m-415 1h1m306 0h1m45 0h1m36 0h1m-257 1h1m215 1h1m43 0h1m-62 1h1m7 0h1m6 0h1m16 0h1m8 0h1m53 0h1m-497 1h1m89 0h1m56 0h1m68 0h1m255 0h1m-172 1h1m68 0h1m35 0h1m16 0h1m-94 2h1m111 0h1m61 0h1m-407 1h1m191 0h1m128 0h1m92 0h1m-506 1h1m200 0h1m111 0h1m75 0h1m-270 2h1m170 1h1m94 0h1m79 0h1m-7 1h1m46 0h1m-492 1h1m262 0h1m179 0h1m13 0h1m-259 1h1m16 1h1m188 1h1m90 0h1m-525 1h1m254 0h1m162 0h1m49 0h1m-73 1h1m-72 1h1m194 0h1m-66 1h1m22 2h1m-104 1h1m19 0h1m24 0h1m-393 1h1m112 0h1m-117 1h1m209 0h1m261 1h1m-296 1h1m170 0h1m98 0h1m-372 1h1m155 0h1m83 0h1m27 0h1m20 1h1m57 0h1m55 0h1m-218 1h1m-65 1h1m231 0h1m13 0h1m-99 1h1m36 0h1m31 0h1m49 0h1m-250 1h1m220 0h1m8 0h1m-315 1h1m247 0h1m55 0h1m15 1h1m8 0h1m-313 2h1m262 0h1m60 0h1m-427 2h1m47 0h1m271 1h1m26 0h1m-118 1h1m111 0h1m-389 1h1m288 1h1m85 0h1m18 0h1m29 0h1m28 0h1m-314 1h1m23 0h1m33 1h1m141 0h1m64 1h1m-428 1h1m203 0h1m62 0h1m182 1h1m6 0h1m-285 1h1m231 0h1m71 0h1m-426 1h1m66 0h1m83 0h1m268 0h1m-223 2h1m123 0h1m-176 2h1m139 0h1m126 0h1m29 0h1m-59 1h1m-40 1h1m36 0h1m39 0h1m-44 1h1m-246 1h1m249 1h1m50 0h1m-470 1h1m2 2h1m36 0h1m-41 1h1m418 0h1m-430 2h1m230 0h1m179 1h1m35 0h1m11 0h1m-52 2h1m69 0h1m-54 1h1m49 0h1m-59 1h1m30 0h1m5 0h1m-277 1h1m251 0h1m13 0h1m43 0h1m-360 1h1m-28 1h1m47 0h1m70 0h1m116 0h1m150 0h1m-108 1h1m58 0h1m27 0h1m-348 1h1m224 0h1m57 0h1m-399 1h1m10 0h1m364 0h1m112 0h1m-182 1h1m21 0h1m-234 1h1m58 0h1m156 0h1m-190 1h1m305 0h1m27 0h1m-408 2h1m365 0h1m34 0h1m-368 2h1m153 0h1m15 0h1m196 0h1m29 0h1m-387 1h1m392 0h1m3 0h1m-300 2h1m242 0h1m-190 1h1m-275 1h1m522 0h1m-307 1h1m249 0h1m-255 1h1m241 0h1m36 0h1m-358 1h1m242 1h1m36 1h1m2 0h1m-318 1h1m375 0h1m-438 1h1m361 0h1m96 0h1m-327 1h1m215 0h1m90 0h1m-425 2h1m75 0h1m282 0h1m-344 2h1m21 0h1m408 0h1m14 0h1m-421 1h1m113 2h1m238 0h1m71 0h1m-286 1h1m234 0h1m-444 1h1m7 0h1m403 0h1m83 0h1m-424 2h1m68 0h1m218 0h1m83 0h1m-367 1h1m164 0h1m-262 1h1m387 0h1m73 0h1m-1 1h1m-172 1h1m89 1h1m-111 3h1m-217 1h1m122 0h1m151 0h1m74 1h1m26 0h1m-434 1h1m3 1h1m143 0h1m218 0h1m79 1h1m-303 1h1m343 0h1m-323 1h1m296 0h1m-351 1h1m353 0h1m26 1h1m-46 3h1m19 0h1m23 1h1m8 1h1m-97 1h1m102 0h1m-240 3h1m193 0h1m43 0h1m-329 1h1m223 0h1m74 0h1m-97 2h1m-265 1h1m301 1h1m42 0h1m7 0h1m-407 1h1m99 0h1m146 0h1m9 0h1m124 0h1m18 0h1m-449 1h1m238 0h1m177 0h1m-436 1h1m294 0h1m21 0h1m166 0h1m5 0h1m-356 2h1m-99 1h1m39 0h1m36 1h1m84 0h1m247 0h1m21 1h1m-73 2h1m95 0h1m-205 1h1m190 1h1m-127 1h1m23 0h1m-398 1h1m452 0h1m27 0h1m-138 1h1m-318 1h1m229 0h1m223 0h1m22 0h1m-224 1h1m120 0h1m6 2h1m120 0h1m-370 1h1m116 0h1m-273 1h1m452 0h1m47 0h1m-500 1h1m160 0h1m302 0h1m-129 1h1m5 4h1m-332 1h1m359 0h1m14 0h1m-197 3h1m111 0h1m190 0h1m24 0h1m0 1h1m-231 1h1m150 0h1m-47 2h1m-229 1h1m232 1h1m94 0h1m-262 2h1m209 0h1m-139 1h1m2 0h1m16 0h1m-308 1h1m492 0h1m-18 1h1m-287 1h1m187 0h1m-363 1h1m305 0h1m74 1h1m34 1h1m-418 1h1m136 0h1m279 0h1m-26 1h1m40 0h1m-209 1h1m21 0h1m51 0h1m30 1h1m-39 1h1m-172 1h1m-58 1h1m203 1h1m185 0h1m-270 1h1m36 1h1m206 0h1m17 0h1m20 0h1m-230 1h1m224 0h1m21 0h1m-64 1h1m-87 1h1m117 0h1m-410 1h1m76 5h1m23 2h1m-94 2h1m401 2h1m-444 1h1m136 0h1m333 0h1m-490 1h1m474 0h1m-429 1h1m54 0h1m276 0h1m55 1h1m54 1h1m-238 1h1m162 0h1m-416 1h1m43 0h1m356 0h1m50 0h1m-389 1h1m295 1h1m135 0h1m-509 2h1m40 3h1m203 0h1m193 0h1m-369 1h1m170 0h1m161 0h1m-416 3h1m280 0h1m57 0h1m70 0h1m105 0h1m-425 2h1m107 0h1m276 0h1m-390 1h1m362 0h1m48 2h1m-433 1h1m205 0h1m2 0h1m32 1h1m166 0h1m-372 1h1m144 0h1m142 0h1m-182 1h1m62 0h1m45 0h1m-96 1h1m-171 1h1m12 0h1m188 1h1m67 0h1m-279 1h1m435 0h1m-438 1h1m181 1h1m139 0h1m-370 1h1m70 0h1m297 0h1m72 0h1m-330 1h1m206 0h1m63 0h1m-361 1h1m97 2h1m-121 1h1m494 1h1m21 2h1m-314 1h1m34 0h1m17 0h1m-224 2h1m304 0h1m107 0h1m-47 1h1m10 0h1m86 0h1m-221 1h1m-102 1h1m192 1h1m-71 1h1m174 0h1m-357 1h1m59 0h1m-54 1h1m44 4h1m22 3h1m67 0h1m-150 3h1m172 0h1m-299 1h1m526 0h1m-487 1h1m23 1h1m64 0h1m295 0h1m-270 1h1m-153 1h1"/>
<path stroke="rgb(150,150,150)" stroke-width="1" d="M105 70.5h1m301 1h1m-231 1h1m-105 1h1m44 0h1m213 1h1m200 0h1m-146 1h1m-155 1h1m129 1h1m2 0h1m-119 2h1m97 1h1m-211 1h1m166 1h1m32 0h1m-254 2h1m388 0h1m-288 1h1m-99 1h1m157 0h1m105 1h1m-184 1h1m148 0h1m-31 2h1m26 0h1m57 0h1m32 1h1m27 1h1m-292 3h1m431 1h1m-46 1h1m-445 1h1m43 0h1m132 2h1m272 0h1m-209 1h1m71 1h1m-128 1h1m235 0h1m-202 1h1m267 0h1m-349 1h1m19 0h1m39 0h1m76 0h1m36 0h1m55 3h1m-296 1h1m28 0h1m40 4h1m213 0h1m152 0h1m-308 1h1m106 0h1m-246 3h1m-19 1h1m154 0h1m169 0h1m-172 1h1m-13 1h1m230 0h1m-357 1h1m287 1h1m-340 1h1m153 0h1m42 3h1m16 0h1m13 1h1m-16 1h1m53 2h1m-275 2h1m90 1h1m124 1h1m290 0h1m-397 1h1m-138 1h1m90 0h1m129 1h1m57 0h1m13 2h1m-164 2h1m-42 1h1m341 1h1m-136 1h1m114 0h1m-50 1h1m-316 5h1m75 0h1m152 0h1m-226 1h1m248 1h1m148 0h1m-316 1h1m47 0h1m47 0h1m5 0h1m-116 1h1m23 2h1m131 0h1m-256 2h1m186 0h1m109 1h1m31 0h1m-233 1h1m81 0h1m194 0h1m-386 1h1m56 0h1m50 0h1m210 0h1m92 0h1m-408 2h1m44 0h1m3 0h1m142 0h1m72 1h1m54 0h1m-309 1h1m18 0h1m206 0h1m84 1h1m2 0h1m-7 1h1m65 0h1m-278 1h1m107 0h1m-158 1h1m-3 1h1m153 0h1m176 0h1m-106 2h1m97 0h1m-394 1h1m192 0h1m40 0h1m-57 1h1m51 0h1m203 0h1m-297 1h1m-56 1h1m241 0h1m-22 1h1m101 0h1m-196 1h1m18 0h1m22 1h1m261 0h1m-153 1h1m49 0h1m81 0h1m-344 1h1m-10 1h1m151 1h1m7 0h1m-274 3h1m308 0h1m-2 1h1m22 0h1m-336 1h1m300 1h1m28 0h1m-264 1h1m83 0h1m115 0h1m62 0h1m-242 1h1m73 0h1m71 1h1m-212 1h1m36 0h1m157 0h1m36 2h1m22 0h1m53 0h1m-298 1h1m105 0h1m51 0h1m78 0h1m10 0h1m-91 1h1m19 0h1m281 1h1m-205 1h1m17 0h1m-17 1h1m-19 1h1m-50 1h1m126 2h1m-155 1h1m94 0h1m-242 1h1m75 0h1m-109 1h1m248 0h1m34 0h1m-202 1h1m144 0h1m41 0h1m105 0h1m-354 1h1m235 0h1m-10 1h1m26 0h1m94 2h1m-210 1h1m77 0h1m14 0h1m78 1h1m44 0h1m-364 1h1m143 0h1m26 0h1m50 0h1m46 0h1m13 0h1m3 1h1m-28 1h1m78 0h1m55 0h1m-81 1h1m-256 1h1m193 0h1m20 0h1m35 0h1m-375 1h1m220 0h1m98 0h1m-271 1h1m255 0h1m37 0h1m22 0h1m-356 1h1m319 0h1m-328 1h1m233 0h1m33 1h1m1 0h1m159 0h1m-133 1h1m141 0h1m-430 1h1m237 0h1m-13 1h1m42 0h1m34 0h1m114 0h1m65 0h1m-191 1h1m7 0h1m41 0h1m11 0h1m-94 1h1m139 0h1m-137 1h1m97 1h1m3 0h1m8 0h1m111 0h1m-276 1h1m61 0h1m139 0h1m-282 1h1m206 0h1m79 0h1m-126 1h1m161 0h1m-302 1h1m187 1h1m25 0h1m2 0h1m-279 1h1m116 0h1m16 0h1m17 0h1m171 0h1m-158 1h1m38 0h1m37 0h1m-144 1h1m122 0h1m-217 1h1m13 1h1m207 0h1m71 0h1m-134 1h1m75 0h1m-300 3h1m333 0h1m-188 1h1m113 0h1m90 0h1m40 0h1m-64 1h1m-305 1h1m24 0h1m226 0h1m35 0h1m-247 2h1m169 0h1m15 0h1m28 0h1m22 0h1m19 0h1m35 0h1m16 0h1m43 0h1m8 0h1m-158 1h1m4 0h1m59 0h1m-97 2h1m80 0h1m50 0h1m-164 1h1m6 0h1m98 0h1m-378 1h1m386 1h1m-121 1h1m67 0h1m20 0h1m29 0h1m-259 1h1m66 0h1m192 0h1m118 1h1m-501 1h1m2 0h1m275 0h1m59 0h1m29 0h1m46 0h1m36 0h1m-416 1h1m253 0h1m53 0h1m-40 1h1m-194 1h1m162 0h1m20 0h1m1 0h1m-82 1h1m140 0h1m5 0h1m91 0h1m-207 1h1m-42 2h1m-154 1h1m189 0h1m-256 1h1m423 0h1m-319 2h1m320 0h1m-374 2h1m329 0h1m-263 1h1m216 0h1m27 0h1m37 1h1m14 1h1m-338 1h1m-90 1h1m114 0h1m162 0h1m110 0h1m-389 1h1m1 0h1m370 0h1m69 0h1m-434 1h1m151 0h1m-60 1h1m22 0h1m18 0h1m252 0h1m67 1h1m-118 1h1m-168 1h1m-166 1h1m103 0h1m65 1h1m211 0h1m61 0h1m-432 1h1m289 0h1m68 0h1m-333 1h1m317 0h1m-119 1h1m50 1h1m69 1h1m104 0h1m-429 1h1m473 0h1m-124 1h1m32 0h1m-87 1h1m35 0h1m-337 1h1m21 1h1m305 0h1m6 0h1m-72 1h1m-292 1h1m401 0h1m-103 1h1m4 1h1m-196 1h1m265 0h1m-99 1h1m12 1h1m95 0h1m-279 1h1m323 0h1m-446 3h1m357 0h1m2 0h1m-70 1h1m76 0h1m-267 1h1m33 0h1m107 0h1m161 0h1m-251 1h1m223 0h1m-321 1h1m115 1h1m121 0h1m171 0h1m-479 1h1m389 0h1m84 0h1m-461 1h1m137 0h1m-12 1h1m206 0h1m43 0h1m19 0h1m25 0h1m-171 1h1m5 0h1m-142 3h1m270 0h1m43 0h1m-461 1h1m70 0h1m29 0h1m7 0h1m191 0h1m100 0h1m22 0h1m22 2h1m47 0h1m-480 1h1m2 0h1m110 0h1m326 0h1m-84 1h1m54 0h1m10 0h1m13 0h1m-415 1h1m160 0h1m83 0h1m151 0h1m-77 1h1m111 0h1m-335 1h1m249 0h1m21 0h1m51 0h1m-30 2h1m-416 2h1m304 1h1m99 0h1m-6 1h1m-411 1h1m332 2h1m75 0h1m-291 1h1m106 0h1m241 0h1m43 0h1m-160 1h1m86 0h1m-298 2h1m273 0h1m13 0h1m3 1h1m-305 1h1m292 0h1m2 0h1m19 0h1m-357 1h1m373 3h1m-194 1h1m1 0h1m149 0h1m-327 1h1m214 0h1m12 0h1m86 0h1m-309 1h1m8 0h1m69 0h1m134 0h1m201 0h1m-359 1h1m89 0h1m177 0h1m-347 1h1m270 0h1m11 0h1m14 1h1m41 0h1m6 0h1m9 0h1m-168 1h1m143 0h1m-392 2h1m346 1h1m68 0h1m-179 1h1m127 1h1m57 0h1m-31 2h1m55 0h1m-433 1h1m404 1h1m-359 1h1m127 2h1m1 0h1m-44 1h1m-171 1h1m484 1h1m-128 1h1m79 0h1m-37 2h1m34 2h1m55 0h1m-368 2h1m164 0h1m131 0h1m24 1h1m-418 1h1m205 1h1m32 1h1m1 0h1m19 0h1m-236 1h1m49 0h1m149 0h1m198 0h1m37 1h1m-266 1h1m209 0h1m47 0h1m7 0h1m-514 1h1m43 0h1m163 0h1m114 0h1m109 0h1m-54 1h1m90 0h1m-264 2h1m175 0h1m-107 1h1m-158 1h1m190 0h1m156 0h1m15 0h1m2 0h1m6 0h1m-91 1h1m59 1h1m2 0h1m-266 1h1m257 0h1m-369 1h1m11 0h1m389 0h1m-129 1h1m143 0h1m-266 1h1m87 0h1m-244 1h1m375 0h1m10 0h1m7 0h1m-439 1h1m462 0h1m-461 1h1m73 0h1m301 0h1m-405 1h1m85 0h1m205 1h1m-46 1h1m175 0h1m-388 2h1m358 1h1m-340 1h1m337 0h1m35 0h1m26 0h1m-31 2h1m-295 1h1m237 0h1m35 0h1m-264 1h1m108 2h1m231 0h1m-375 1h1m199 0h1m111 0h1m-161 1h1m2 0h1m-266 1h1m418 0h1m-309 1h1m-57 1h1m323 0h1m-381 1h1m200 1h1m37 0h1m256 0h1m3 0h1m-431 1h1m201 0h1m177 0h1m-435 1h1m118 0h1m29 0h1m97 0h1m24 0h1m26 0h1m39 0h1m-29 1h1m73 0h1m54 0h1m1 0h1m18 0h1m-78 1h1m-215 2h1m-94 1h1m140 0h1m225 0h1m-227 1h1m231 0h1m-466 1h1m235 0h1m248 0h1m-104 1h1m116 0h1m-440 2h1m265 0h1m53 0h1m88 0h1m19 0h1m-375 1h1m120 0h1m26 1h1m53 0h1m85 0h1m105 0h1m-377 1h1m330 0h1m-373 1h1m-113 1h1m61 0h1m325 0h1m-366 1h1m388 1h1m101 0h1m0 0h1m0 0h1m-395 1h1m13 0h1m290 0h1m-227 1h1m38 2h1m23 0h1m-33 1h1m241 0h1m41 0h1m-388 1h1m22 1h1m139 0h1m52 0h1m30 0h1m-318 1h1m409 0h1m8 0h1m-148 1h1m80 0h1m-377 1h1m493 0h1m-76 1h1m-424 1h1m7 1h1m417 0h1m-254 1h1m283 0h1m-379 1h1m-79 1h1m192 0h1m-161 1h1m56 0h1m335 0h1m24 0h1m11 0h1m-257 1h1m49 1h1m176 0h1m-370 1h1m35 0h1m44 0h1m46 0h1m223 1h1m56 0h1m-72 1h1m43 0h1m-343 1h1m353 2h1m25 0h1m-421 1h1m-8 1h1m141 0h1m-152 1h1m58 0h1m343 0h1m15 0h1m23 0h1m-423 1h1m315 0h1m-80 1h1m90 0h1m59 0h1m4 0h1m-358 1h1m383 0h1m-464 2h1m83 0h1m113 0h1m58 0h1m181 0h1m-146 2h1m172 0h1m-449 3h1m30 0h1m-16 1h1m13 0h1m251 0h1m99 0h1m-282 1h1m202 0h1m-186 2h1m-136 1h1m210 1h1m241 0h1m-265 1h1m46 0h1m-191 1h1m141 1h1m230 0h1m-402 1h1m449 0h1m-406 1h1m333 0h1m6 0h1m-402 1h1m206 0h1m59 0h1m20 0h1m109 0h1m-460 1h1m131 0h1m307 0h1m-27 2h1m-145 1h1m77 1h1m-259 1h1m284 1h1m107 0h1m-46 3h1m-408 1h1m60 0h1m86 0h1m-28 1h1m306 0h1m-138 1h1m-152 1h1m300 0h1m-307 1h1m280 0h1m18 0h1m-241 1h1m210 1h1m-447 1h1m182 1h1m11 1h1m295 0h1m13 0h1m-484 1h1m166 0h1m-33 1h1m7 0h1m339 0h1m11 2h1m3 0h1m-152 1h1m13 0h1m28 0h1m-248 1h1m321 0h1m-409 1h1m146 0h1m169 2h1m-358 1h1m2 1h1m199 0h1m-15 1h1m178 0h1m83 1h1m38 0h1m-277 1h1m14 0h1m180 0h1m-388 4h1m418 0h1m-311 1h1m89 0h1m175 0h1m-406 2h1m153 0h1m197 0h1m-155 1h1m44 0h1m190 0h1m-238 1h1m74 0h1m193 0h1m-419 1h1m435 0h1m-247 1h1m-195 1h1m235 1h1m222 0h1m-63 1h1m-58 1h1m15 0h1m-437 3h1m208 2h1m271 0h1m-477 1h1m18 1h1m231 0h1m23 1h1m-277 1h1m49 0h1m363 0h1m-135 3h1m76 0h1m102 0h1m35 0h1m-441 2h1m184 0h1m55 3h1m-174 2h1m407 0h1m-226 3h1m-281 3h1m148 0h1m25 1h1m215 2h1m-338 4h1m152 0h1m189 2h1m41 0h1m-443 2h1m133 0h1m-114 1h1m44 0h1m54 0h1m340 1h1m-444 1h1m254 1h1m-205 1h1m341 0h1m-396 2h1m208 0h1m-62 1h1m36 0h1m144 1h1m-294 1h1m140 0h1m87 0h1m129 0h1m65 0h1m-466 3h1m192 0h1m59 0h1m170 0h1m62 0h1m-482 1h1m245 0h1m-202 1h1m245 0h1m-16 2h1m-129 1h1m-28 1h1m117 0h1m179 0h1m46 0h1m-462 1h1m77 0h1m-17 1h1m195 0h1m-278 1h1m226 2h1m249 0h1m22 0h1m-511 1h1m228 0h1m-247 1h1m13 1h1m73 0h1m282 1h1m108 0h1m-406 2h1m226 0h1m15 1h1m-270 1h1m54 1h1m278 0h1m-160 1h1m124 0h1m-266 2h1"/>
<path stroke="rgb(125,125,125)" stroke-width="2" d="M214 89h2m-3 43h2m-58 101h2m-5 18h2m359 18h2m2 77h2m5 11h2m-399 2h2m84 47h2m304 11h2m-94 114h2m-236 60h2"/>
<path stroke="rgb(125,125,125)" stroke-width="1" d="M437 71.5h1m-235 5h1m110 1h1m-88 1h1m43 4h1m-181 5h1m5 2h1m183 4h1m-88 6h1m118 0h1m43 0h1m-157 4h1m127 1h1m-250 3h1m110 0h1m68 0h1m184 5h1m-369 2h1m263 1h1m-43 3h1m167 1h1m-185 2h1m-91 2h1m229 0h1m-36 4h1m82 0h1m-168 2h1m162 1h1m-138 3h1m89 0h1m67 6h1m-194 1h1m171 0h1m-377 5h1m107 1h1m64 3h1m243 0h1m-146 1h1m84 3h1m-133 3h1m35 1h1m-147 1h1m44 6h1m-162 1h1m176 2h1m-139 1h1m235 2h1m-5 1h1m-265 2h1m132 0h1m165 3h1m-318 1h1m60 0h1m232 0h1m-282 1h1m208 0h1m102 3h1m31 2h1m-79 1h1m-289 4h1m338 0h1m68 0h1m-130 4h1m23 1h1m-102 2h1m21 1h1m-23 2h1m-15 5h1m111 0h1m-20 1h1m8 2h1m37 3h1m79 1h1m-153 1h1m-29 1h1m10 1h1m114 2h1m-78 1h1m-3 1h1m12 0h1m-12 8h1m76 0h1m-111 2h1m67 0h1m160 0h1m-166 1h1m69 1h1m33 0h1m-54 2h1m-44 1h1m-140 1h1m268 1h1m18 0h1m-291 1h1m223 0h1m-6 1h1m29 0h1m-193 1h1m117 0h1m108 1h1m-74 1h1m63 6h1m-195 1h1m67 0h1m-30 1h1m121 0h1m17 0h1m-39 1h1m-116 2h1m-5 1h1m134 0h1m-379 1h1m88 0h1m250 0h1m-1 3h1m-339 1h1m7 1h1m14 0h1m235 0h1m158 0h1m-22 1h1m-83 4h1m-257 1h1m51 0h1m235 0h1m-180 1h1m-174 1h1m274 0h1m118 0h1m-378 1h1m331 0h1m-178 1h1m82 2h1m-261 3h1m287 1h1m123 0h1m6 2h1m-101 2h1m4 1h1m77 0h1m-214 1h1m214 0h1m-168 1h1m-43 3h1m-111 1h1m57 0h1m167 0h1m127 0h1m-69 1h1m-376 1h1m51 0h1m368 0h1m-66 1h1m85 1h1m39 0h1m-137 1h1m38 2h1m67 0h1m-71 1h1m-141 1h1m157 1h1m-171 3h1m126 1h1m11 0h1m85 0h1m17 1h1m-155 2h1m67 0h1m31 0h1m-370 1h1m362 0h1m-143 1h1m-174 1h1m148 0h1m156 2h1m55 0h1m-11 1h1m-62 2h1m56 0h1m-11 1h1m-203 1h1m-147 3h1m346 0h1m-241 1h1m198 0h1m26 0h1m14 0h1m59 1h1m-324 1h1m178 1h1m-51 2h1m-76 1h1m217 1h1m2 0h1m-168 3h1m102 0h1m111 0h1m-11 1h1m-359 1h1m279 4h1m-36 2h1m-359 2h1m158 0h1m115 0h1m98 1h1m-166 1h1m-97 1h1m294 0h1m-296 1h1m281 0h1m21 0h1m27 0h1m-403 1h1m108 0h1m244 1h1m91 0h1m-69 1h1m3 1h1m-41 2h1m-24 1h1m108 0h1m-33 4h1m-27 2h1m-215 3h1m197 0h1m69 1h1m-67 1h1m-337 1h1m202 0h1m147 0h1m46 0h1m-47 3h1m32 0h1m43 3h1m-57 1h1m-34 3h1m-286 2h1m229 1h1m93 1h1m-122 3h1m47 3h1m-192 3h1m248 4h1m65 0h1m-94 2h1m83 0h1m-93 3h1m-71 1h1m113 0h1m15 0h1m4 0h1m-357 1h1m275 1h1m-379 2h1m352 0h1m-377 1h1m214 0h1m220 2h1m-105 1h1m146 0h1m-10 1h1m-470 1h1m98 1h1m398 0h1m-383 1h1m311 0h1m-404 1h1m103 0h1m155 0h1m-241 1h1m23 1h1m393 1h1m-273 1h1m249 0h1m54 0h1m-159 4h1m123 0h1m0 0h1m-13 1h1m-48 1h1m47 3h1m-25 1h1m44 0h1m-393 2h1m133 1h1m175 4h1m95 0h1m-39 6h1m26 1h1m-203 1h1m-249 1h1m487 0h1m-468 4h1m244 0h1m-161 1h1m370 1h1m-378 2h1m395 0h1m-228 2h1m145 0h1m-448 2h1m419 1h1m-231 1h1m132 0h1m-110 4h1m242 1h1m-80 1h1m142 0h1m-27 2h1m18 0h1m-94 1h1m86 0h1m-404 1h1m59 0h1m-156 3h1m99 2h1m398 3h1m-469 1h1m427 1h1m33 0h1m0 0h1m-346 1h1m-110 1h1m116 0h1m-1 1h1m314 0h1m35 5h1m-489 4h1m13 0h1m82 0h1m334 1h1m-256 1h1m-126 2h1m389 1h1m-54 1h1m-238 3h1m311 0h1m-216 2h1m188 2h1m-45 1h1m-315 1h1m65 0h1m-70 8h1m0 1h1m-81 1h1m182 0h1m281 0h1m-44 4h1m-346 1h1m115 0h1m15 1h1m146 0h1m23 0h1m45 0h1m51 1h1m-53 1h1m-362 1h1m355 2h1m-29 5h1m-406 2h1m83 1h1m237 0h1m164 0h1m-305 1h1m-134 3h1m114 0h1m-24 2h1m5 0h1m-73 1h1m2 0h1m221 3h1m-31 3h1m97 0h1m-211 1h1m102 0h1m-182 1h1m375 3h1m-3 1h1m15 1h1m-279 3h1m265 2h1m-331 2h1m194 0h1m-81 1h1m202 0h1m56 2h1m-387 4h1m252 2h1m-154 1h1m239 2h1m45 2h1m-520 5h1m502 5h1m-388 1h1m306 1h1m-195 2h1m-152 3h1m166 0h1m123 0h1m-219 1h1m292 0h1m24 0h1m-305 2h1m-158 2h1m284 1h1m135 1h1m-233 9h1m77 3h1m-174 1h1m17 0h1m108 0h1m54 3h1m-242 3h1m196 1h1m50 0h1"/>
<path stroke="rgb(105,105,105)" stroke-width="2" d="M466 102h2m-306 61h2m-70 76h2m509 57h2m-434 50h2m82 12h2m260 9h2m-340 88h2m74 49h2m180 77h2"/>
<path stroke="rgb(105,105,105)" stroke-width="1" d="M347 73.5h1m89 0h1m-86 6h1m-273 1h1m295 1h1m145 7h1m-259 1h1m138 2h1m-221 12h1m66 0h1m80 3h1m42 1h1m-59 4h1m-119 10h1m23 0h1m-87 1h1m194 1h1m-262 1h1m321 1h1m-83 2h1m1 8h1m-187 2h1m168 2h1m-49 5h1m42 4h1m49 8h1m92 1h1m-102 1h1m177 1h1m-33 2h1m-144 3h1m43 0h1m-227 1h1m-7 2h1m31 4h1m220 1h1m10 4h1m-332 1h1m218 2h1m66 0h1m77 3h1m-56 9h1m-144 3h1m92 0h1m30 2h1m-223 1h1m161 2h1m-56 1h1m117 0h1m86 0h1m-286 1h1m122 2h1m106 0h1m6 2h1m122 4h1m-177 1h1m-200 1h1m291 3h1m-384 1h1m334 4h1m-141 1h1m125 0h1m77 0h1m-89 4h1m11 1h1m41 1h1m-21 1h1m130 0h1m-149 1h1m-12 1h1m23 0h1m9 0h1m18 0h1m41 1h1m18 0h1m-346 1h1m169 0h1m66 1h1m-108 1h1m92 1h1m82 0h1m-1 2h1m-108 1h1m-194 1h1m263 5h1m68 2h1m-332 1h1m46 0h1m304 0h1m-100 1h1m-10 1h1m38 0h1m-37 1h1m106 0h1m-75 1h1m-53 1h1m-274 1h1m379 0h1m-68 2h1m176 0h1m-328 2h1m202 3h1m-39 1h1m100 0h1m-144 1h1m-171 1h1m-97 2h1m285 1h1m7 0h1m-218 1h1m-110 6h1m269 0h1m32 0h1m-242 1h1m306 1h1m-75 1h1m50 1h1m-38 1h1m11 1h1m28 0h1m92 0h1m-99 1h1m-105 2h1m22 0h1m-265 2h1m278 3h1m181 0h1m-94 2h1m-175 1h1m126 0h1m43 0h1m71 0h1m-56 1h1m-139 1h1m-41 1h1m116 0h1m166 0h1m15 0h1m-96 1h1m33 0h1m-23 1h1m43 1h1m-77 1h1m-317 3h1m289 0h1m24 0h1m37 1h1m-37 1h1m44 1h1m-56 1h1m-180 1h1m223 1h1m51 7h1m-481 1h1m393 0h1m-17 2h1m-190 2h1m201 1h1m13 0h1m9 0h1m-195 1h1m122 0h1m-129 1h1m194 1h1m52 1h1m-227 1h1m120 3h1m5 0h1m25 0h1m-23 3h1m-118 1h1m139 1h1m-6 2h1m97 1h1m-319 1h1m138 0h1m-205 1h1m325 0h1m-424 1h1m416 0h1m-46 1h1m-331 1h1m100 5h1m265 1h1m7 2h1m8 0h1m-205 1h1m205 0h1m-77 2h1m141 1h1m-439 3h1m238 1h1m138 1h1m50 1h1m-70 1h1m13 0h1m-63 1h1m-145 4h1m118 2h1m0 0h1m-222 1h1m97 0h1m273 2h1m-530 1h1m490 0h1m-277 2h1m303 2h1m-181 3h1m101 0h1m67 1h1m-423 1h1m183 0h1m-125 1h1m-117 1h1m8 0h1m103 0h1m352 0h1m25 0h1m-66 1h1m14 1h1m-98 1h1m111 0h1m28 5h1m-94 3h1m-29 1h1m83 0h1m-142 4h1m-256 1h1m364 2h1m9 0h1m-105 1h1m-137 1h1m167 5h1m-362 1h1m26 0h1m447 0h1m-50 2h1m-368 1h1m429 0h1m-241 8h1m236 2h1m-205 2h1m174 1h1m16 0h1m-233 3h1m95 0h1m66 0h1m-340 1h1m355 0h1m-319 2h1m-112 2h1m489 0h1m-25 4h1m8 0h1m-416 6h1m438 2h1m-36 2h1m-255 1h1m239 0h1m-471 1h1m491 1h1m0 0h1m-28 3h1m-79 1h1m69 0h1m-22 1h1m-167 3h1m2 0h1m236 0h1m-6 1h1m-407 4h1m-50 4h1m456 0h1m26 1h1m-70 2h1m16 1h1m-330 2h1m362 0h1m2 1h1m-5 1h1m-112 4h1m96 4h1m-27 4h1m25 2h1m-506 4h1m331 1h1m92 1h1m-315 1h1m363 5h1m46 0h1m-35 3h1m32 4h1m-413 3h1m-98 4h1m329 3h1m-326 1h1m13 3h1m343 0h1m-85 2h1m213 0h1m-291 3h1m-64 1h1m103 0h1m205 0h1m54 0h1m10 1h1m-464 2h1m69 0h1m68 0h1m67 0h1m244 2h1m-333 1h1m-66 4h1m133 1h1m241 1h1m-407 1h1m254 0h1m177 0h1m-508 2h1m-10 1h1m150 1h1m104 3h1m268 1h1m-504 1h1m-26 1h1m482 0h1m-191 1h1m-32 1h1m-114 2h1m324 0h1m-417 2h1m440 0h1m-428 1h1m127 4h1m287 0h1m-12 1h1m-204 1h1m210 4h1m-485 2h1m412 0h1m-349 2h1m164 1h1m38 1h1m195 2h1m19 3h1m-380 1h1m411 2h1m-137 4h1m125 5h1m-313 7h1m314 2h1m-343 2h1m124 2h1m-188 3h1m62 0h1m-15 2h1m237 2h1"/>
<path stroke="rgb(90,90,90)" stroke-width="2" d="M427 140h2m-92 63h2m119 11h2m-7 9h2m-81 14h2m87 30h2m-128 5h2m-99 41h2m253 4h2m-69 62h2m-340 14h2m45 53h2m76 26h2m367 96h2m21 7h2m-402 27h2"/>
<path stroke="rgb(90,90,90)" stroke-width="1" d="M533 71.5h1m-91 1h1m-371 5h1m73 2h1m-48 1h1m246 2h1m-150 2h1m76 5h1m96 1h1m-137 1h1m63 4h1m105 5h1m-64 1h1m90 3h1m-333 3h1m15 0h1m299 1h1m-139 7h1m169 0h1m-265 1h1m202 1h1m-124 4h1m-138 1h1m-45 1h1m302 2h1m25 1h1m-310 3h1m196 0h1m122 1h1m-306 2h1m279 3h1m-71 3h1m114 1h1m-52 9h1m-177 2h1m236 9h1m55 1h1m-203 3h1m96 1h1m42 2h1m-291 1h1m1 9h1m178 1h1m62 0h1m-114 8h1m62 3h1m14 0h1m101 3h1m-276 1h1m218 0h1m-65 1h1m-47 1h1m9 1h1m156 0h1m-79 1h1m2 3h1m-56 1h1m135 2h1m-122 1h1m-203 1h1m134 0h1m104 1h1m62 2h1m-82 2h1m-21 1h1m3 0h1m-102 1h1m-136 1h1m54 1h1m165 0h1m123 0h1m140 1h1m-446 1h1m159 2h1m92 0h1m-345 2h1m326 1h1m-107 5h1m64 0h1m114 3h1m-194 1h1m145 1h1m124 1h1m-85 2h1m-90 1h1m114 0h1m72 3h1m-168 2h1m17 0h1m8 1h1m6 1h1m74 1h1m8 0h1m-332 1h1m160 0h1m253 0h1m-174 2h1m115 0h1m-97 5h1m-294 1h1m299 0h1m1 1h1m28 0h1m108 0h1m-117 1h1m24 0h1m-105 1h1m-255 2h1m261 1h1m105 0h1m30 0h1m-266 1h1m202 2h1m-324 2h1m50 0h1m-114 1h1m343 2h1m100 2h1m-14 2h1m19 0h1m-31 1h1m50 0h1m28 0h1m-436 7h1m209 0h1m105 0h1m-107 1h1m77 0h1m11 0h1m5 0h1m-65 1h1m31 0h1m1 0h1m69 0h1m74 0h1m-47 1h1m-380 1h1m289 0h1m-144 1h1m125 0h1m83 0h1m-38 1h1m-32 1h1m56 0h1m-75 1h1m-193 1h1m299 1h1m-16 1h1m-162 1h1m90 2h1m22 3h1m-5 1h1m3 2h1m33 0h1m-6 1h1m-359 1h1m344 0h1m-106 2h1m115 1h1m-80 2h1m7 2h1m68 1h1m-347 1h1m254 0h1m31 0h1m54 0h1m-295 4h1m156 1h1m127 0h1m-10 1h1m68 4h1m-365 1h1m35 1h1m14 0h1m246 1h1m25 0h1m-281 1h1m294 0h1m4 2h1m-89 2h1m21 0h1m-230 1h1m252 1h1m-297 1h1m285 0h1m28 0h1m-256 2h1m227 0h1m30 4h1m34 2h1m-437 1h1m133 0h1m270 1h1m1 0h1m-44 1h1m-259 1h1m1 0h1m258 0h1m56 3h1m-450 1h1m295 0h1m60 0h1m120 1h1m-40 1h1m36 0h1m5 4h1m-271 1h1m16 0h1m-210 1h1m251 0h1m141 4h1m-285 1h1m158 0h1m-101 2h1m144 1h1m107 0h1m-36 1h1m-75 1h1m156 0h1m-89 1h1m34 0h1m-225 2h1m171 2h1m-284 1h1m214 1h1m-77 1h1m191 0h1m-34 2h1m-96 1h1m104 0h1m46 7h1m-172 1h1m58 0h1m105 0h1m-2 1h1m-7 1h1m-38 1h1m-42 1h1m100 3h1m-344 2h1m329 1h1m13 2h1m-199 1h1m211 2h1m-394 1h1m322 2h1m-166 2h1m204 0h1m-405 4h1m177 1h1m-202 2h1m253 1h1m194 2h1m-145 4h1m45 0h1m77 1h1m45 0h1m-165 1h1m-25 11h1m166 0h1m34 0h1m-335 5h1m270 0h1m38 1h1m-20 1h1m6 0h1m-19 1h1m10 0h1m-9 3h1m-147 1h1m165 2h1m-441 1h1m430 2h1m7 0h1m-59 2h1m69 0h1m-37 4h1m39 1h1m-15 1h1m17 0h1m-191 5h1m-326 2h1m341 2h1m141 3h1m-477 3h1m467 1h1m-286 1h1m263 0h1m39 0h1m-225 2h1m231 3h1m-274 5h1m250 1h1m-95 2h1m67 0h1m-80 2h1m-83 1h1m-113 3h1m-183 5h1m469 6h1m-431 1h1m420 0h1m-337 1h1m14 1h1m108 0h1m-2 2h1m-58 2h1m43 0h1m165 1h1m-202 2h1m321 1h1m-346 1h1m292 0h1m-414 1h1m403 1h1m34 5h1m-103 1h1m137 6h1m-492 2h1m255 0h1m37 3h1m14 0h1m-110 2h1m279 0h1m-375 3h1m-138 1h1m30 3h1m302 0h1m-331 1h1m440 0h1m-308 1h1m233 0h1m145 0h1m-79 3h1m-140 1h1m84 1h1m-338 2h1m341 4h1m130 5h1m-309 4h1m0 0h1m20 0h1m-250 1h1m181 3h1m135 0h1m-31 3h1m-128 1h1m-48 4h1m184 0h1m-36 2h1m-75 1h1m168 1h1m-312 2h1m119 4h1m-74 1h1m108 0h1m239 0h1m-349 1h1m-5 1h1m203 0h1m166 1h1m-187 1h1m-280 5h1m152 0h1m341 0h1m-395 2h1m74 2h1m363 1h1m-182 2h1m-111 3h1m-112 4h1m231 1h1"/>
<path stroke="rgb(70,70,70)" stroke-width="2" d="M175 103h2m-30 113h2m-38 133h2m18 135h2m-35 77h2"/>
<path stroke="rgb(70,70,70)" stroke-width="1" d="M351 79.5h1m37 0h1m-169 46h1m61 7h1m-155 13h1m356 41h1m65 5h1m-440 2h1m242 7h1m3 4h1m188 4h1m-413 5h1m142 6h1m281 0h1m-191 2h1m200 0h1m-162 25h1m-242 9h1m268 12h1m-308 4h1m300 8h1m92 13h1m-363 1h1m-76 6h1m480 2h1m-166 4h1m37 10h1m73 20h1m-215 9h1m176 11h1m43 7h1m-27 2h1m-263 9h1m56 6h1m-196 10h1m399 4h1m-57 16h1m114 42h1m-18 4h1m-50 10h1m39 11h1m-341 15h1m73 9h1m158 17h1m148 21h1m17 2h1m-39 10h1m-128 3h1m-55 11h1m162 14h1m-136 1h1m-121 11h1"/>
<path stroke="rgb(50,50,50)" stroke-width="2" d="M467 125h2m-108 77h2m128 55h2m-384 37h2m242 189h2m18 11h2m183 62h2"/>
<path stroke="rgb(50,50,50)" stroke-width="1" d="M485 85.5h1m120 27h1m-533 12h1m322 39h1m-76 15h1m39 0h1m2 2h1m-98 22h1m-139 2h1m-9 1h1m197 3h1m-30 6h1m190 1h1m-310 3h1m-103 3h1m425 8h1m-100 11h1m41 8h1m34 8h1m36 10h1m-67 9h1m48 30h1m27 25h1m-364 7h1m436 10h1m-83 10h1m-28 25h1m-275 24h1m27 2h1m318 53h1m-380 20h1m309 0h1m-28 5h1m-96 21h1m184 0h1m10 19h1m-403 2h1m416 29h1m-177 3h1m-213 8h1m-77 11h1m401 8h1"/>
</g>
<g filter="url(#bb)">
<ellipse cx="308" cy="343" rx="5" ry="3.2" fill="#222" opacity="0.75" transform="rotate(-40 308 343)"/>
<ellipse cx="382" cy="292" rx="6" ry="8" fill="#222" opacity="0.22" transform="rotate(0 382 292)"/>
<ellipse cx="411" cy="232.5" rx="5" ry="2.5" fill="#222" opacity="0.4" transform="rotate(20 411 232.5)"/>
<ellipse cx="468.5" cy="201.5" rx="3" ry="2.5" fill="#222" opacity="0.45" transform="rotate(0 468.5 201.5)"/>
<ellipse cx="538" cy="270" rx="2.5" ry="2" fill="#222" opacity="0.5" transform="rotate(0 538 270)"/>
</g>
<g filter="url(#bl)">
<circle cx="291.5" cy="238" r="1.3" fill="#333"/>
<circle cx="339" cy="263.5" r="1" fill="#333"/>
<circle cx="458" cy="360" r="0.9" fill="#444"/>
<circle cx="235" cy="425" r="0.9" fill="#444"/>
<circle cx="377.5" cy="526" r="1" fill="#444"/>
<circle cx="248" cy="463" r="0.8" fill="#444"/>
<circle cx="320.5" cy="421" r="0.7" fill="#666"/>
<circle cx="414" cy="426" r="0.8" fill="#444"/>
<circle cx="605.9" cy="545.9" r="1.5" fill="#222"/>
<circle cx="606.3" cy="543.3" r="0.8" fill="#444"/>
<circle cx="606.3" cy="551.3" r="0.8" fill="#444"/>
<circle cx="534.8" cy="270" r="1.2" fill="#333"/>
<path d="M602 545.5h3" stroke="#777" stroke-width="1"/>
</g>
<rect x="468" y="126" width="1" height="58" fill="#999" opacity="0.28"/>
<ellipse cx="466.6" cy="184.5" rx="1.2" ry="2" fill="#444"/>
</g>
<rect x="616" y="69" width="20" height="542" fill="url(#cb)"/>
<polygon class="c" points="261.50,83.50 594.50,268.50 409.50,601.50 76.50,416.50" fill="none" stroke="#0000FF" stroke-width="1"/>
<circle class="c" cx="291.9" cy="237.8" r="10.4" fill="none" stroke="#8800FF" stroke-width="1"/>
<circle class="c" cx="339.1" cy="263.3" r="10.4" fill="none" stroke="#8800FF" stroke-width="1"/>
<circle class="c" cx="458.0" cy="359.9" r="10.4" fill="none" stroke="#8800FF" stroke-width="1"/>
<circle class="c" cx="235.1" cy="424.9" r="10.4" fill="none" stroke="#8800FF" stroke-width="1"/>
<circle class="c" cx="377.5" cy="526.0" r="10.4" fill="none" stroke="#8800FF" stroke-width="1"/>
<circle class="c" cx="248.0" cy="462.9" r="10.4" fill="none" stroke="#8800FF" stroke-width="1"/>
<circle class="c" cx="320.5" cy="420.9" r="10.4" fill="none" stroke="#8800FF" stroke-width="1"/>
<circle class="c" cx="414.0" cy="426.0" r="10.4" fill="none" stroke="#8800FF" stroke-width="1"/>
<circle class="c" cx="291.4" cy="237.9" r="5.0" fill="none" stroke="#FF8000" stroke-width="1"/>
<circle class="c" cx="339.0" cy="263.3" r="5.0" fill="none" stroke="#FF8000" stroke-width="1"/>
<circle class="c" cx="458.0" cy="360.3" r="5.0" fill="none" stroke="#FF8000" stroke-width="1"/>
<circle class="c" cx="234.5" cy="425.0" r="5.0" fill="none" stroke="#FF8000" stroke-width="1"/>
<circle class="c" cx="377.5" cy="526.5" r="5.0" fill="none" stroke="#FF8000" stroke-width="1"/>
<circle class="c" cx="367.2" cy="576.5" r="15.5" fill="none" stroke="#FF00FF" stroke-width="1"/>
<rect class="c" x="422.5" y="204.5" width="6" height="6" fill="none" stroke="#FF0000" stroke-width="1"/>
<rect class="c" x="188.5" y="326.5" width="7" height="6" fill="none" stroke="#FF0000" stroke-width="1"/>
<rect class="c" x="275.5" y="465.5" width="6" height="7" fill="none" stroke="#FF0000" stroke-width="1"/>
<path class="c" d="M385.50 221.50L419.50 240.50M273.50 423.50L306.50 442.50M385.50 221.50L273.50 423.50M419.50 240.50L306.50 442.50M366.45 255.87L400.28 274.87M347.78 289.53L381.44 308.53M329.11 323.20L362.61 342.20M310.45 356.87L343.78 375.87M291.78 390.53L324.94 409.53M267.50 251.50L334.50 289.50M334.50 289.50L297.50 356.50M297.50 356.50L230.50 319.50M230.50 319.50L267.50 251.50M301.00 270.50L264.00 338.00M249.00 285.50L316.00 323.00" fill="none" stroke="#0000FF" stroke-width="1"/>
<text x="74.50" y="35.10" fill="#1E90FF" font-size="17.60" textLength="49.42" lengthAdjust="spacingAndGlyphs" stroke="#1E90FF" stroke-width="0.15">Name</text>
<text x="132.34" y="35.10" fill="#1E90FF" font-size="17.60" textLength="31.86" lengthAdjust="spacingAndGlyphs" stroke="#1E90FF" stroke-width="0.15">SXP</text>
<text x="173.35" y="35.10" fill="#1E90FF" font-size="17.60" textLength="47.38" lengthAdjust="spacingAndGlyphs" stroke="#1E90FF" stroke-width="0.15">1062,</text>
<text x="227.94" y="35.10" fill="#1E90FF" font-size="17.60" textLength="32.76" lengthAdjust="spacingAndGlyphs" stroke="#1E90FF" stroke-width="0.15">Seq</text>
<text x="268.08" y="35.10" fill="#1E90FF" font-size="17.60" textLength="11.75" lengthAdjust="spacingAndGlyphs" stroke="#1E90FF" stroke-width="0.15">#</text>
<text x="287.18" y="35.10" fill="#1E90FF" font-size="17.60" textLength="68.55" lengthAdjust="spacingAndGlyphs" stroke="#1E90FF" stroke-width="0.15">401581,</text>
<text x="363.89" y="35.10" fill="#1E90FF" font-size="17.60" textLength="47.25" lengthAdjust="spacingAndGlyphs" stroke="#1E90FF" stroke-width="0.15">Obsid</text>
<text x="420.53" y="35.10" fill="#1E90FF" font-size="17.60" textLength="58.41" lengthAdjust="spacingAndGlyphs" stroke="#1E90FF" stroke-width="0.15">15784,</text>
<text x="485.96" y="35.10" fill="#1E90FF" font-size="17.60" textLength="19.93" lengthAdjust="spacingAndGlyphs" stroke="#1E90FF" stroke-width="0.15">ST</text>
<text x="513.84" y="35.10" fill="#1E90FF" font-size="17.60" textLength="90.52" lengthAdjust="spacingAndGlyphs" stroke="#1E90FF" stroke-width="0.15">Scheduled</text>
<text x="112.10" y="61.70" fill="#1E90FF" font-size="15.20" textLength="18.10" lengthAdjust="spacingAndGlyphs" stroke="#1E90FF" stroke-width="0.12">25</text>
<text x="188.79" y="61.70" fill="#1E90FF" font-size="15.20" textLength="17.66" lengthAdjust="spacingAndGlyphs" stroke="#1E90FF" stroke-width="0.12">24</text>
<text x="265.44" y="61.70" fill="#1E90FF" font-size="15.20" textLength="18.10" lengthAdjust="spacingAndGlyphs" stroke="#1E90FF" stroke-width="0.12">23</text>
<text x="342.09" y="61.70" fill="#1E90FF" font-size="15.20" textLength="18.42" lengthAdjust="spacingAndGlyphs" stroke="#1E90FF" stroke-width="0.12">22</text>
<text x="418.75" y="61.70" fill="#1E90FF" font-size="15.20" textLength="18.53" lengthAdjust="spacingAndGlyphs" stroke="#1E90FF" stroke-width="0.12">21</text>
<text x="495.44" y="61.70" fill="#1E90FF" font-size="15.20" textLength="18.08" lengthAdjust="spacingAndGlyphs" stroke="#1E90FF" stroke-width="0.12">20</text>
<text x="571.22" y="61.70" fill="#1E90FF" font-size="15.20" textLength="19.06" lengthAdjust="spacingAndGlyphs" stroke="#1E90FF" stroke-width="0.12">19</text>
<text x="95.65" y="96.20" fill="#0000FF" font-size="17.50" textLength="21.35" lengthAdjust="spacingAndGlyphs" stroke="#0000FF" stroke-width="0.40">RA</text>
<text x="125.50" y="96.20" fill="#0000FF" font-size="17.50" textLength="13.58" lengthAdjust="spacingAndGlyphs" stroke="#0000FF" stroke-width="0.40">=</text>
<text x="147.59" y="96.20" fill="#0000FF" font-size="17.50" textLength="87.90" lengthAdjust="spacingAndGlyphs" stroke="#0000FF" stroke-width="0.40">21.941250</text>
<text x="276.82" y="96.00" fill="#0000FF" font-size="17.50" textLength="33.09" lengthAdjust="spacingAndGlyphs" stroke="#0000FF" stroke-width="0.40">DEC</text>
<text x="319.07" y="96.00" fill="#0000FF" font-size="17.50" textLength="11.64" lengthAdjust="spacingAndGlyphs" stroke="#0000FF" stroke-width="0.40">=</text>
<text x="340.24" y="96.00" fill="#0000FF" font-size="17.50" textLength="102.23" lengthAdjust="spacingAndGlyphs" stroke="#0000FF" stroke-width="0.40">−73.548972</text>
<text x="458.63" y="96.00" fill="#0000FF" font-size="17.50" textLength="42.55" lengthAdjust="spacingAndGlyphs" stroke="#0000FF" stroke-width="0.40">ROLL</text>
<text x="508.02" y="96.00" fill="#0000FF" font-size="17.50" textLength="13.34" lengthAdjust="spacingAndGlyphs" stroke="#0000FF" stroke-width="0.40">=</text>
<text x="529.66" y="96.00" fill="#0000FF" font-size="17.50" textLength="78.49" lengthAdjust="spacingAndGlyphs" stroke="#0000FF" stroke-width="0.40">119.1524</text>
<text x="96.52" y="122.60" fill="#0000FF" font-size="17.50" textLength="40.75" lengthAdjust="spacingAndGlyphs" stroke="#0000FF" stroke-width="0.40">YOFF</text>
<text x="148.54" y="122.60" fill="#0000FF" font-size="17.50" textLength="12.01" lengthAdjust="spacingAndGlyphs" stroke="#0000FF" stroke-width="0.40">=</text>
<text x="185.31" y="122.60" fill="#0000FF" font-size="17.50" textLength="51.23" lengthAdjust="spacingAndGlyphs" stroke="#0000FF" stroke-width="0.40">0.000′</text>
<text x="276.52" y="122.60" fill="#0000FF" font-size="17.50" textLength="39.77" lengthAdjust="spacingAndGlyphs" stroke="#0000FF" stroke-width="0.40">ZOFF</text>
<text x="328.65" y="122.60" fill="#0000FF" font-size="17.50" textLength="11.89" lengthAdjust="spacingAndGlyphs" stroke="#0000FF" stroke-width="0.40">=</text>
<text x="350.33" y="122.60" fill="#0000FF" font-size="17.50" textLength="75.74" lengthAdjust="spacingAndGlyphs" stroke="#0000FF" stroke-width="0.40">−0.3000′</text>
<text x="458.32" y="122.80" fill="#0000FF" font-size="17.50" textLength="38.85" lengthAdjust="spacingAndGlyphs" stroke="#0000FF" stroke-width="0.40">ZSIM</text>
<text x="508.02" y="122.80" fill="#0000FF" font-size="17.50" textLength="13.34" lengthAdjust="spacingAndGlyphs" stroke="#0000FF" stroke-width="0.40">=</text>
<text x="528.48" y="122.80" fill="#0000FF" font-size="17.50" textLength="9.43" lengthAdjust="spacingAndGlyphs" stroke="#0000FF" stroke-width="0.40">0</text>
<text x="546.85" y="122.80" fill="#0000FF" font-size="17.50" textLength="33.70" lengthAdjust="spacingAndGlyphs" stroke="#0000FF" stroke-width="0.40">mm</text>
<text x="96.73" y="149.50" fill="#0000FF" font-size="17.50" textLength="38.41" lengthAdjust="spacingAndGlyphs" stroke="#0000FF" stroke-width="0.40">ACIS</text>
<text x="142.55" y="149.50" fill="#0000FF" font-size="17.50" textLength="23.18" lengthAdjust="spacingAndGlyphs" stroke="#0000FF" stroke-width="0.40">PB</text>
<text x="172.82" y="149.50" fill="#0000FF" font-size="17.50" textLength="13.34" lengthAdjust="spacingAndGlyphs" stroke="#0000FF" stroke-width="0.40">=</text>
<text x="195.58" y="149.50" fill="#0000FF" font-size="17.50" textLength="107.72" lengthAdjust="spacingAndGlyphs" stroke="#0000FF" stroke-width="0.40">WC0010C014</text>
<text x="272.84" y="283.48" fill="#0000FF" font-size="11.85" font-weight="bold" textLength="7.31" lengthAdjust="spacingAndGlyphs">0</text>
<text x="303.47" y="301.00" fill="#0000FF" font-size="12.08" font-weight="bold" textLength="7.47" lengthAdjust="spacingAndGlyphs">2</text>
<text x="255.45" y="314.60" fill="#0000FF" font-size="12.12" font-weight="bold" textLength="7.47" lengthAdjust="spacingAndGlyphs">1</text>
<text x="285.95" y="331.88" fill="#0000FF" font-size="11.90" font-weight="bold" textLength="7.24" lengthAdjust="spacingAndGlyphs">3</text>
<text x="388.34" y="249.78" fill="#0000FF" font-size="11.85" font-weight="bold" textLength="7.31" lengthAdjust="spacingAndGlyphs">0</text>
<text x="369.55" y="283.50" fill="#0000FF" font-size="12.12" font-weight="bold" textLength="7.47" lengthAdjust="spacingAndGlyphs">1</text>
<text x="350.37" y="317.20" fill="#0000FF" font-size="12.08" font-weight="bold" textLength="7.47" lengthAdjust="spacingAndGlyphs">2</text>
<text x="313.91" y="385.20" fill="#0000FF" font-size="12.16" font-weight="bold" textLength="6.64" lengthAdjust="spacingAndGlyphs">4</text>
<text x="294.61" y="418.38" fill="#0000FF" font-size="12.03" font-weight="bold" textLength="7.33" lengthAdjust="spacingAndGlyphs">5</text>
<ellipse class="c" cx="342.3" cy="340" rx="2.5" ry="5.3" fill="none" stroke="#0000FF" stroke-width="1" transform="rotate(15 342.3 340)"/>
<text x="330.29" y="352.50" fill="#FF0080" font-size="16.50" textLength="9.44" lengthAdjust="spacingAndGlyphs" stroke="#FF0080" stroke-width="0.10">3</text>
<path class="c" d="M333.5 334.5L346.5 347.5M334.5 333.5L347.5 346.5M347.5 334.5L334.5 347.5M346.5 333.5L333.5 346.5" stroke="#FF0000" stroke-width="1" fill="none"/>
<path class="c" d="M68.5 68.5H611.5V611.5H68.5ZM75.5 69v4M90.5 69v4M106.5 69v4M121.5 69v11M136.5 69v4M152.5 69v4M167.5 69v4M182.5 69v4M198.5 69v11M213.5 69v4M228.5 69v4M244.5 69v4M259.5 69v4M274.5 69v11M290.5 69v4M305.5 69v4M320.5 69v4M336.5 69v4M351.5 69v11M366.5 69v4M382.5 69v4M397.5 69v4M412.5 69v4M428.5 69v11M443.5 69v4M458.5 69v4M474.5 69v4M489.5 69v4M504.5 69v11M520.5 69v4M535.5 69v4M550.5 69v4M566.5 69v4M581.5 69v11M596.5 69v4M82.5 611v-11M101.5 611v-4M121.5 611v-4M140.5 611v-4M159.5 611v-4M178.5 611v-4M197.5 611v-4M217.5 611v-4M236.5 611v-4M255.5 611v-11M274.5 611v-4M294.5 611v-4M313.5 611v-4M332.5 611v-4M351.5 611v-4M370.5 611v-4M390.5 611v-4M409.5 611v-4M428.5 611v-11M447.5 611v-4M467.5 611v-4M486.5 611v-4M505.5 611v-4M524.5 611v-4M543.5 611v-4M563.5 611v-4M582.5 611v-4M601.5 611v-11M69 107.5h11M69 152.5h4M69 198.5h11M69 243.5h4M69 289.5h11M69 334.5h4M69 379.5h11M69 425.5h4M69 470.5h11M69 516.5h4M69 561.5h11M69 607.5h4M615.5 68.5H636.5V611.5H615.5ZM616 87.5h3M636 87.5h-3M616 109.5h3M636 109.5h-3M616 132.5h3M636 132.5h-3M616 154.5h3M636 154.5h-3M616 177.5h5M636 177.5h-5M616 199.5h3M636 199.5h-3M616 221.5h3M636 221.5h-3M616 244.5h3M636 244.5h-3M616 266.5h3M636 266.5h-3M616 289.5h5M636 289.5h-5M616 311.5h3M636 311.5h-3M616 333.5h3M636 333.5h-3M616 356.5h3M636 356.5h-3M616 378.5h3M636 378.5h-3M616 401.5h5M636 401.5h-5M616 423.5h3M636 423.5h-3M616 445.5h3M636 445.5h-3M616 468.5h3M636 468.5h-3M616 490.5h3M636 490.5h-3M616 512.5h5M636 512.5h-5M616 535.5h3M636 535.5h-3M616 557.5h3M636 557.5h-3M616 580.5h3M636 580.5h-3M616 602.5h3M636 602.5h-3" fill="none" stroke="#1E90FF" stroke-width="1"/>
<text transform="translate(62.50 135.59) rotate(-90)" fill="#1E90FF" font-size="16.40" textLength="27.76" lengthAdjust="spacingAndGlyphs" stroke="#1E90FF" stroke-width="0.12">−72</text>
<text transform="translate(62.50 100.14) rotate(-90)" fill="#1E90FF" font-size="16.40" textLength="21.01" lengthAdjust="spacingAndGlyphs" stroke="#1E90FF" stroke-width="0.12">40′</text>
<text transform="translate(62.50 226.44) rotate(-90)" fill="#1E90FF" font-size="16.40" textLength="27.86" lengthAdjust="spacingAndGlyphs" stroke="#1E90FF" stroke-width="0.12">−71</text>
<text transform="translate(62.50 191.32) rotate(-90)" fill="#1E90FF" font-size="16.40" textLength="21.34" lengthAdjust="spacingAndGlyphs" stroke="#1E90FF" stroke-width="0.12">00′</text>
<text transform="translate(62.50 317.28) rotate(-90)" fill="#1E90FF" font-size="16.40" textLength="27.46" lengthAdjust="spacingAndGlyphs" stroke="#1E90FF" stroke-width="0.12">−73</text>
<text transform="translate(62.50 282.27) rotate(-90)" fill="#1E90FF" font-size="16.40" textLength="21.45" lengthAdjust="spacingAndGlyphs" stroke="#1E90FF" stroke-width="0.12">20′</text>
<text transform="translate(62.50 408.13) rotate(-90)" fill="#1E90FF" font-size="16.40" textLength="27.46" lengthAdjust="spacingAndGlyphs" stroke="#1E90FF" stroke-width="0.12">−73</text>
<text transform="translate(62.50 372.69) rotate(-90)" fill="#1E90FF" font-size="16.40" textLength="21.01" lengthAdjust="spacingAndGlyphs" stroke="#1E90FF" stroke-width="0.12">40′</text>
<text transform="translate(62.50 498.99) rotate(-90)" fill="#1E90FF" font-size="16.40" textLength="27.76" lengthAdjust="spacingAndGlyphs" stroke="#1E90FF" stroke-width="0.12">−72</text>
<text transform="translate(62.50 463.87) rotate(-90)" fill="#1E90FF" font-size="16.40" textLength="21.34" lengthAdjust="spacingAndGlyphs" stroke="#1E90FF" stroke-width="0.12">00′</text>
<text transform="translate(62.50 589.81) rotate(-90)" fill="#1E90FF" font-size="16.40" textLength="27.04" lengthAdjust="spacingAndGlyphs" stroke="#1E90FF" stroke-width="0.12">−74</text>
<text transform="translate(62.50 554.82) rotate(-90)" fill="#1E90FF" font-size="16.40" textLength="21.45" lengthAdjust="spacingAndGlyphs" stroke="#1E90FF" stroke-width="0.12">20′</text>
<text transform="translate(31.90 391.34) rotate(-90)" fill="#1E90FF" font-size="17.80" textLength="29.91" lengthAdjust="spacingAndGlyphs" stroke="#1E90FF" stroke-width="0.12">Dec</text>
<text transform="translate(31.90 351.50) rotate(-90)" fill="#1E90FF" font-size="18.60" textLength="62.71" lengthAdjust="spacingAndGlyphs" stroke="#1E90FF" stroke-width="0.12">(J2000)</text>
<text x="52.20" y="633.90" fill="#1E90FF" font-size="16.30" textLength="59.99" lengthAdjust="spacingAndGlyphs" stroke="#1E90FF" stroke-width="0.12">01h42m</text>
<text x="226.00" y="633.90" fill="#1E90FF" font-size="16.30" textLength="59.99" lengthAdjust="spacingAndGlyphs" stroke="#1E90FF" stroke-width="0.12">01h33m</text>
<text x="398.20" y="633.90" fill="#1E90FF" font-size="16.30" textLength="59.99" lengthAdjust="spacingAndGlyphs" stroke="#1E90FF" stroke-width="0.12">01h24m</text>
<text x="570.80" y="633.90" fill="#1E90FF" font-size="16.30" textLength="59.99" lengthAdjust="spacingAndGlyphs" stroke="#1E90FF" stroke-width="0.12">01h15m</text>
<text x="292.63" y="665.80" fill="#1E90FF" font-size="18.00" textLength="22.38" lengthAdjust="spacingAndGlyphs" stroke="#1E90FF" stroke-width="0.12">RA</text>
<text x="323.68" y="665.80" fill="#1E90FF" font-size="18.60" textLength="63.84" lengthAdjust="spacingAndGlyphs" stroke="#1E90FF" stroke-width="0.12">(J2000)</text>
<text transform="translate(658.00 170.06) rotate(-90)" fill="#1E90FF" font-size="10.70" textLength="102.41" lengthAdjust="spacingAndGlyphs" stroke="#1E90FF" stroke-width="0.10">POSS scaled density</text>
<text class="s" transform="translate(648.10 190.57) rotate(-90)" fill="#1E90FF" font-size="10.80" textLength="24.51" lengthAdjust="spacingAndGlyphs" stroke="#1E90FF" stroke-width="0.30">2x10</text>
<text class="s" transform="translate(642.90 165.98) rotate(-90)" fill="#1E90FF" font-size="7.00" textLength="4.41" lengthAdjust="spacingAndGlyphs" stroke="#1E90FF" stroke-width="0.30">4</text>
<text class="s" transform="translate(648.10 306.93) rotate(-90)" fill="#1E90FF" font-size="10.80" textLength="32.86" lengthAdjust="spacingAndGlyphs" stroke="#1E90FF" stroke-width="0.30">1.5x10</text>
<text class="s" transform="translate(642.90 273.97) rotate(-90)" fill="#1E90FF" font-size="7.00" textLength="4.08" lengthAdjust="spacingAndGlyphs" stroke="#1E90FF" stroke-width="0.30">4</text>
<text class="s" transform="translate(648.10 408.80) rotate(-90)" fill="#1E90FF" font-size="10.80" textLength="11.71" lengthAdjust="spacingAndGlyphs" stroke="#1E90FF" stroke-width="0.30">10</text>
<text class="s" transform="translate(642.90 396.97) rotate(-90)" fill="#1E90FF" font-size="7.00" textLength="4.08" lengthAdjust="spacingAndGlyphs" stroke="#1E90FF" stroke-width="0.30">4</text>
<text class="s" transform="translate(648.10 525.12) rotate(-90)" fill="#1E90FF" font-size="10.80" textLength="23.54" lengthAdjust="spacingAndGlyphs" stroke="#1E90FF" stroke-width="0.30">5000</text>
<circle class="c" cx="95.5" cy="582" r="5.4" fill="none" stroke="#FF8000" stroke-width="1"/>
<text x="111.07" y="584.60" fill="#FF8000" font-size="17.60" textLength="49.44" lengthAdjust="spacingAndGlyphs" stroke="#FF8000" stroke-width="0.15">Guide</text>
<text x="169.55" y="584.60" fill="#FF8000" font-size="17.60" textLength="37.36" lengthAdjust="spacingAndGlyphs" stroke="#FF8000" stroke-width="0.15">Star</text>
<circle class="c" cx="232" cy="578.7" r="10.4" fill="none" stroke="#8800FF" stroke-width="1"/>
<text x="247.93" y="584.60" fill="#8800FF" font-size="17.60" textLength="28.68" lengthAdjust="spacingAndGlyphs" stroke="#8800FF" stroke-width="0.15">Acq</text>
<text x="286.05" y="584.60" fill="#8800FF" font-size="17.60" textLength="37.36" lengthAdjust="spacingAndGlyphs" stroke="#8800FF" stroke-width="0.15">Star</text>
<text x="383.38" y="584.60" fill="#FF00FF" font-size="17.60" textLength="34.09" lengthAdjust="spacingAndGlyphs" stroke="#FF00FF" stroke-width="0.15">Mon</text>
<text x="426.35" y="584.60" fill="#FF00FF" font-size="17.60" textLength="37.36" lengthAdjust="spacingAndGlyphs" stroke="#FF00FF" stroke-width="0.15">Star</text>
<rect class="c" x="500.5" y="581.5" width="6" height="6" fill="none" stroke="#FF0000" stroke-width="1"/>
<text x="519.23" y="584.50" fill="#FF0000" font-size="17.60" textLength="26.00" lengthAdjust="spacingAndGlyphs" stroke="#FF0000" stroke-width="0.15">Fid</text>
<text x="554.24" y="584.50" fill="#FF0000" font-size="17.60" textLength="42.08" lengthAdjust="spacingAndGlyphs" stroke="#FF0000" stroke-width="0.15">Light</text>
<text class="s" x="522.72" y="673.30" fill="#fff" font-size="11.20" textLength="154.89" lengthAdjust="spacingAndGlyphs" stroke="#fff" stroke-width="0.25">patnaude 10-Jun-2014 11:45</text>
</svg></body></html>
